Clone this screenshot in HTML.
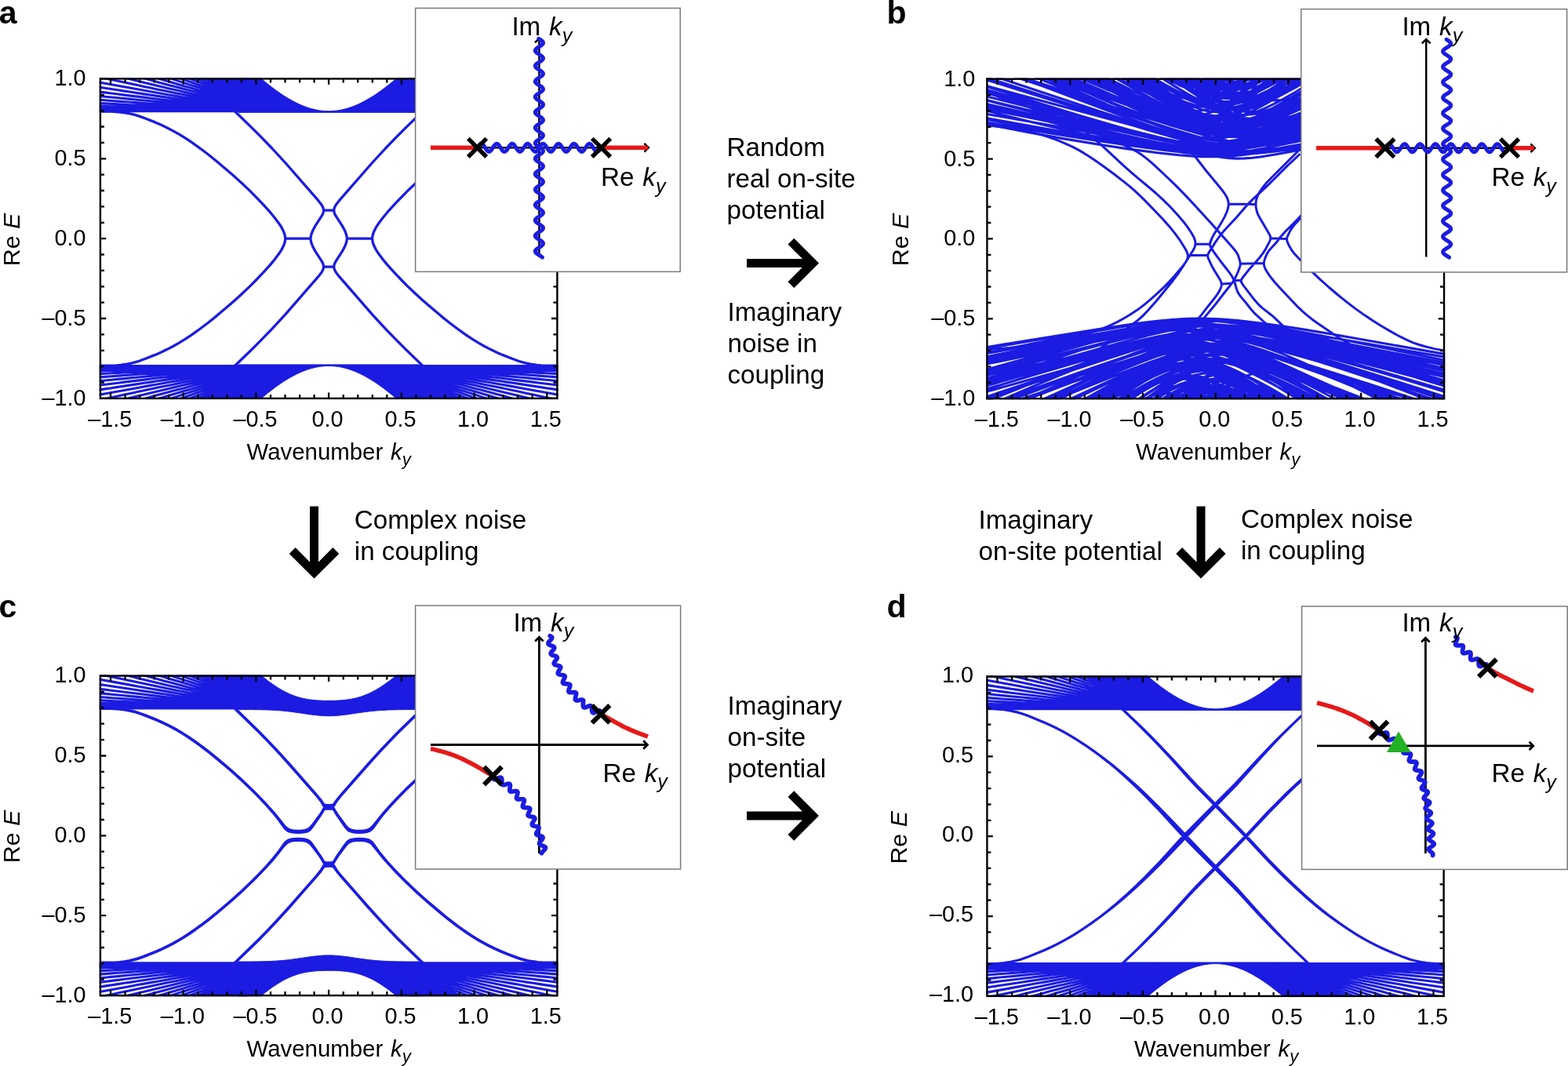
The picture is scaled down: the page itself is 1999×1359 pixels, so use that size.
<!DOCTYPE html>
<html lang="en"><head><meta charset="utf-8"><title>Band structures</title>
<style>
html,body{margin:0;padding:0;background:#fff;}
svg{display:block;}
text{font-family:"Liberation Sans", Arial, Helvetica, sans-serif;fill:#000;}
</style></head>
<body>
<svg xmlns="http://www.w3.org/2000/svg" width="1999" height="1359" viewBox="0 0 1999 1359">
<rect width="1999" height="1359" fill="#fff"/>
<defs>
<path id="fan" d="M-293.9,-162.4 -285.5,-162.4 -277.2,-162.4 -268.9,-162.4 -260.5,-162.4 -252.2,-162.4 -243.8,-162.4 -235.5,-162.4 -227.1,-162.4 -218.8,-162.4 -210.4,-162.4 -202.1,-162.4 -193.8,-162.4 -185.4,-162.4 -177.1,-162.4 -168.7,-162.4 -160.4,-162.4 -152,-162.4 -143.7,-162.4 -135.4,-162.4 -127,-162.4 -118.7,-162.4 -110.3,-162.4 -102,-162.4 M-293.9,-162.8 -285.5,-162.8 -277.2,-162.8 -268.9,-162.8 -260.5,-162.7 -252.2,-162.7 -243.8,-162.7 -235.5,-162.7 -227.1,-162.7 -218.8,-162.6 -210.4,-162.6 -202.1,-162.6 -193.8,-162.6 -185.4,-162.6 -177.1,-162.6 -168.7,-162.6 -160.4,-162.5 -152,-162.5 -143.7,-162.5 -135.4,-162.5 -127,-162.5 -118.7,-162.5 -110.3,-162.5 -102,-162.5 M-293.9,-164.1 -285.5,-164 -277.2,-163.9 -268.9,-163.9 -260.5,-163.8 -252.2,-163.7 -243.8,-163.6 -235.5,-163.6 -227.1,-163.5 -218.8,-163.4 -210.4,-163.4 -202.1,-163.3 -193.8,-163.2 -185.4,-163.2 -177.1,-163.1 -168.7,-163 -160.4,-163 -152,-162.9 -143.7,-162.9 -135.4,-162.8 -127,-162.8 -118.7,-162.7 -110.3,-162.7 -102,-162.6 M-293.9,-166.2 -285.5,-166 -277.2,-165.8 -268.9,-165.7 -260.5,-165.5 -252.2,-165.3 -243.8,-165.2 -235.5,-165 -227.1,-164.9 -218.8,-164.7 -210.4,-164.6 -202.1,-164.4 -193.8,-164.3 -185.4,-164.1 -177.1,-164 -168.7,-163.8 -160.4,-163.7 -152,-163.6 -143.7,-163.5 -135.4,-163.3 -127,-163.2 -118.7,-163.1 -110.3,-163 -102,-162.9 M-293.9,-169 -285.5,-168.7 -277.2,-168.4 -268.9,-168.2 -260.5,-167.9 -252.2,-167.6 -243.8,-167.3 -235.5,-167 -227.1,-166.7 -218.8,-166.5 -210.4,-166.2 -202.1,-165.9 -193.8,-165.7 -185.4,-165.4 -177.1,-165.2 -168.7,-164.9 -160.4,-164.7 -152,-164.5 -143.7,-164.3 -135.4,-164.1 -127,-163.9 -118.7,-163.7 -110.3,-163.5 -102,-163.4 M-293.9,-172.6 -285.5,-172.2 -277.2,-171.7 -268.9,-171.3 -260.5,-170.9 -252.2,-170.4 -243.8,-170 -235.5,-169.6 -227.1,-169.1 -218.8,-168.7 -210.4,-168.3 -202.1,-167.9 -193.8,-167.5 -185.4,-167.1 -177.1,-166.7 -168.7,-166.4 -160.4,-166 -152,-165.7 -143.7,-165.3 -135.4,-165 -127,-164.7 -118.7,-164.4 -110.3,-164.2 -102,-163.9 M-293.9,-176.9 -285.5,-176.3 -277.2,-175.6 -268.9,-175 -260.5,-174.4 -252.2,-173.8 -243.8,-173.2 -235.5,-172.6 -227.1,-172 -218.8,-171.4 -210.4,-170.8 -202.1,-170.2 -193.8,-169.7 -185.4,-169.1 -177.1,-168.6 -168.7,-168.1 -160.4,-167.6 -152,-167.1 -143.7,-166.6 -135.4,-166.2 -127,-165.7 -118.7,-165.3 -110.3,-164.9 -102,-164.6 M-293.9,-181.8 -285.5,-180.9 -277.2,-180.1 -268.9,-179.3 -260.5,-178.5 -252.2,-177.7 -243.8,-176.9 -235.5,-176.1 -227.1,-175.3 -218.8,-174.5 -210.4,-173.7 -202.1,-172.9 -193.8,-172.2 -185.4,-171.4 -177.1,-170.7 -168.7,-170 -160.4,-169.4 -152,-168.7 -143.7,-168.1 -135.4,-167.5 -127,-166.9 -118.7,-166.3 -110.3,-165.8 -102,-165.3 M-293.9,-187.2 -285.5,-186.2 -277.2,-185.1 -268.9,-184.1 -260.5,-183 -252.2,-182 -243.8,-181 -235.5,-180 -227.1,-178.9 -218.8,-177.9 -210.4,-176.9 -202.1,-176 -193.8,-175 -185.4,-174.1 -177.1,-173.1 -168.7,-172.3 -160.4,-171.4 -152,-170.5 -143.7,-169.7 -135.4,-169 -127,-168.2 -118.7,-167.5 -110.3,-166.8 -102,-166.2 M-293.9,-193.1 -285.5,-191.8 -277.2,-190.6 -268.9,-189.3 -260.5,-188 -252.2,-186.8 -243.8,-185.5 -235.5,-184.2 -227.1,-183 -218.8,-181.7 -210.4,-180.5 -202.1,-179.3 -193.8,-178.1 -185.4,-177 -177.1,-175.8 -168.7,-174.7 -160.4,-173.6 -152,-172.6 -143.7,-171.6 -135.4,-170.6 -127,-169.7 -118.7,-168.8 -110.3,-168 -102,-167.2 M-293.9,-199.4 -285.5,-197.9 -277.2,-196.4 -268.9,-194.9 -260.5,-193.4 -252.2,-191.9 -243.8,-190.3 -235.5,-188.8 -227.1,-187.3 -218.8,-185.9 -210.4,-184.4 -202.1,-182.9 -193.8,-181.5 -185.4,-180.1 -177.1,-178.7 -168.7,-177.4 -160.4,-176.1 -152,-174.8 -143.7,-173.6 -135.4,-172.4 -127,-171.3 -118.7,-170.2 -110.3,-169.2 -102,-168.3 M-293.9,-206.1 -285.5,-204.3 -277.2,-202.6 -268.9,-200.8 -260.5,-199 -252.2,-197.3 -243.8,-195.5 -235.5,-193.7 -227.1,-192 -218.8,-190.2 -210.4,-188.5 -202.1,-186.8 -193.8,-185.1 -185.4,-183.5 -177.1,-181.9 -168.7,-180.3 -160.4,-178.7 -152,-177.2 -143.7,-175.8 -135.4,-174.4 -127,-173.1 -118.7,-171.8 -110.3,-170.6 -102,-169.4 M-285.5,-211 -277.2,-209 -268.9,-207 -260.5,-205 -252.2,-203 -243.8,-200.9 -235.5,-198.9 -227.1,-196.9 -218.8,-194.9 -210.4,-192.9 -202.1,-190.9 -193.8,-189 -185.4,-187 -177.1,-185.2 -168.7,-183.3 -160.4,-181.5 -152,-179.8 -143.7,-178.1 -135.4,-176.5 -127,-174.9 -118.7,-173.4 -110.3,-172 -102,-170.7 M-260.5,-211.2 -252.2,-208.9 -243.8,-206.6 -235.5,-204.3 -227.1,-202 -218.8,-199.7 -210.4,-197.4 -202.1,-195.2 -193.8,-193 -185.4,-190.8 -177.1,-188.6 -168.7,-186.5 -160.4,-184.5 -152,-182.5 -143.7,-180.6 -135.4,-178.7 -127,-176.9 -118.7,-175.2 -110.3,-173.6 -102,-172 M-243.8,-212.4 -235.5,-209.8 -227.1,-207.3 -218.8,-204.7 -210.4,-202.2 -202.1,-199.6 -193.8,-197.2 -185.4,-194.7 -177.1,-192.3 -168.7,-189.9 -160.4,-187.6 -152,-185.3 -143.7,-183.1 -135.4,-181 -127,-179 -118.7,-177 -110.3,-175.2 -102,-173.4 M-227.1,-212.7 -218.8,-209.9 -210.4,-207 -202.1,-204.2 -193.8,-201.5 -185.4,-198.7 -177.1,-196 -168.7,-193.4 -160.4,-190.8 -152,-188.3 -143.7,-185.8 -135.4,-183.4 -127,-181.1 -118.7,-178.9 -110.3,-176.8 -102,-174.9 M-210.4,-212 -202.1,-208.9 -193.8,-205.9 -185.4,-202.9 -177.1,-199.9 -168.7,-196.9 -160.4,-194.1 -152,-191.3 -143.7,-188.6 -135.4,-185.9 -127,-183.4 -118.7,-180.9 -110.3,-178.6 -102,-176.4 M-193.8,-210.4 -185.4,-207.1 -177.1,-203.8 -168.7,-200.6 -160.4,-197.5 -152,-194.4 -143.7,-191.4 -135.4,-188.5 -127,-185.7 -118.7,-183 -110.3,-180.4 -102,-177.9 M-185.4,-211.4 -177.1,-207.8 -168.7,-204.3 -160.4,-200.9 -152,-197.5 -143.7,-194.3 -135.4,-191.1 -127,-188 -118.7,-185.1 -110.3,-182.2 -102,-179.6 M-177.1,-211.9 -168.7,-208.1 -160.4,-204.4 -152,-200.7 -143.7,-197.2 -135.4,-193.7 -127,-190.4 -118.7,-187.2 -110.3,-184.1 -102,-181.2 M-168.7,-211.9 -160.4,-207.9 -152,-204 -143.7,-200.2 -135.4,-196.4 -127,-192.8 -118.7,-189.4 -110.3,-186 -102,-182.9 M-160.4,-211.4 -152,-207.2 -143.7,-203.1 -135.4,-199.2 -127,-195.3 -118.7,-191.6 -110.3,-188 -102,-184.6 M-152,-210.5 -143.7,-206.1 -135.4,-201.9 -127,-197.8 -118.7,-193.8 -110.3,-189.9 -102,-186.3 M-152,-213.8 -143.7,-209.1 -135.4,-204.6 -127,-200.2 -118.7,-196 -110.3,-191.9 -102,-188 M-143.7,-212.1 -135.4,-207.3 -127,-202.7 -118.7,-198.2 -110.3,-193.8 -102,-189.7 M-135.4,-210 -127,-205.1 -118.7,-200.4 -110.3,-195.8 -102,-191.4 M-135.4,-212.7 -127,-207.5 -118.7,-202.5 -110.3,-197.7 -102,-193.1 M-127,-209.9 -118.7,-204.7 -110.3,-199.6 -102,-194.8 M-127,-212.3 -118.7,-206.8 -110.3,-201.5 -102,-196.4 M-127,-214.6 -118.7,-208.9 -110.3,-203.4 -102,-198.1 M-118.7,-210.9 -110.3,-205.2 -102,-199.7 M-118.7,-212.9 -110.3,-206.9 -102,-201.2 M-118.7,-214.8 -110.3,-208.6 -102,-202.7" fill="none" stroke="#1b1be2" stroke-width="3.1"/>
<path id="bowl" d="M-115,-209.9 -112.1,-209.9 -109.2,-209.9 -106.3,-209.9 -103.5,-209.9 -100.6,-209.9 -97.7,-209.9 -94.8,-209.9 -92,-209 -89.1,-206.4 -86.2,-204 -83.3,-201.6 -80.5,-199.2 -77.6,-196.9 -74.7,-194.6 -71.8,-192.4 -69,-190.2 -66.1,-188.1 -63.2,-186.1 -60.4,-184.1 -57.5,-182.2 -54.6,-180.4 -51.7,-178.7 -48.9,-177 -46,-175.4 -43.1,-173.9 -40.2,-172.4 -37.4,-171.1 -34.5,-169.8 -31.6,-168.7 -28.7,-167.6 -25.9,-166.6 -23,-165.7 -20.1,-165 -17.2,-164.3 -14.4,-163.7 -11.5,-163.2 -8.6,-162.9 -5.7,-162.6 -2.9,-162.4 0,-162.4 2.9,-162.4 5.7,-162.6 8.6,-162.9 11.5,-163.2 14.4,-163.7 17.2,-164.3 20.1,-165 23,-165.7 25.9,-166.6 28.7,-167.6 31.6,-168.7 34.5,-169.8 37.4,-171.1 40.2,-172.4 43.1,-173.9 46,-175.4 48.9,-177 51.7,-178.7 54.6,-180.4 57.5,-182.2 60.4,-184.1 63.2,-186.1 66.1,-188.1 69,-190.2 71.8,-192.4 74.7,-194.6 77.6,-196.9 80.5,-199.2 83.3,-201.6 86.2,-204 89.1,-206.4 92,-209 94.8,-209.9 97.7,-209.9 100.6,-209.9 103.5,-209.9 106.3,-209.9 109.2,-209.9 112.1,-209.9 115,-209.9 115,-160.8 -115,-160.8Z" fill="#1b1be2" stroke="#1b1be2" stroke-width="1"/>
<path id="bowlc" d="M-115,-209.9 -112.1,-209.9 -109.2,-209.9 -106.3,-209.9 -103.5,-209.9 -100.6,-209.9 -97.7,-209.9 -94.8,-209.9 -92,-209.1 -89.1,-206.7 -86.2,-204.3 -83.3,-201.9 -80.5,-199.7 -77.6,-197.4 -74.7,-195.3 -71.8,-193.2 -69,-191.3 -66.1,-189.4 -63.2,-187.6 -60.4,-185.9 -57.5,-184.3 -54.6,-182.8 -51.7,-181.4 -48.9,-180.1 -46,-179 -43.1,-177.9 -40.2,-176.9 -37.4,-176.1 -34.5,-175.3 -31.6,-174.7 -28.7,-174.1 -25.9,-173.6 -23,-173.2 -20.1,-172.9 -17.2,-172.6 -14.4,-172.4 -11.5,-172.2 -8.6,-172.1 -5.7,-172 -2.9,-172 0,-172 2.9,-172 5.7,-172 8.6,-172.1 11.5,-172.2 14.4,-172.4 17.2,-172.6 20.1,-172.9 23,-173.2 25.9,-173.6 28.7,-174.1 31.6,-174.7 34.5,-175.3 37.4,-176.1 40.2,-176.9 43.1,-177.9 46,-179 48.9,-180.1 51.7,-181.4 54.6,-182.8 57.5,-184.3 60.4,-185.9 63.2,-187.6 66.1,-189.4 69,-191.3 71.8,-193.2 74.7,-195.3 77.6,-197.4 80.5,-199.7 83.3,-201.9 86.2,-204.3 89.1,-206.7 92,-209.1 94.8,-209.9 97.7,-209.9 100.6,-209.9 103.5,-209.9 106.3,-209.9 109.2,-209.9 112.1,-209.9 115,-209.9 115,-160.7 112.1,-160.7 109.2,-160.7 106.3,-160.7 103.5,-160.7 100.6,-160.7 97.7,-160.7 94.8,-160.6 92,-160.6 89.1,-160.6 86.2,-160.5 83.3,-160.4 80.5,-160.4 77.6,-160.3 74.7,-160.2 71.8,-160 69,-159.9 66.1,-159.7 63.2,-159.5 60.4,-159.3 57.5,-159 54.6,-158.7 51.7,-158.4 48.9,-158.1 46,-157.7 43.1,-157.3 40.2,-156.9 37.4,-156.5 34.5,-156.1 31.6,-155.6 28.7,-155.2 25.9,-154.8 23,-154.4 20.1,-154 17.2,-153.7 14.4,-153.4 11.5,-153.1 8.6,-152.9 5.7,-152.7 2.9,-152.6 0,-152.6 -2.9,-152.6 -5.7,-152.7 -8.6,-152.9 -11.5,-153.1 -14.4,-153.4 -17.2,-153.7 -20.1,-154 -23,-154.4 -25.9,-154.8 -28.7,-155.2 -31.6,-155.6 -34.5,-156.1 -37.4,-156.5 -40.2,-156.9 -43.1,-157.3 -46,-157.7 -48.9,-158.1 -51.7,-158.4 -54.6,-158.7 -57.5,-159 -60.4,-159.3 -63.2,-159.5 -66.1,-159.7 -69,-159.9 -71.8,-160 -74.7,-160.2 -77.6,-160.3 -80.5,-160.4 -83.3,-160.4 -86.2,-160.5 -89.1,-160.6 -92,-160.6 -94.8,-160.6 -97.7,-160.7 -100.6,-160.7 -103.5,-160.7 -106.3,-160.7 -109.2,-160.7 -112.1,-160.7 -115,-160.7Z" fill="#1b1be2" stroke="#1b1be2" stroke-width="1"/>
<g id="bandc"><use href="#fan"/><use href="#fan" transform="scale(-1,1)"/><use href="#bowlc"/></g>
<g id="bandsc"><use href="#bandc"/><use href="#bandc" transform="scale(1,-1)"/></g>
<g id="band"><use href="#fan"/><use href="#fan" transform="scale(-1,1)"/><use href="#bowl"/></g>
<g id="bands"><use href="#band"/><use href="#band" transform="scale(1,-1)"/></g>
<clipPath id="clipa"><rect x="126.7" y="99.2" width="584.9" height="409.9"/></clipPath>
<clipPath id="clipb"><rect x="1257.2" y="99.5" width="585" height="409.8"/></clipPath>
<clipPath id="clipc"><rect x="126.7" y="860.4" width="584.9" height="409.9"/></clipPath>
<clipPath id="clipd"><rect x="1257.2" y="861.3" width="584.6" height="409.8"/></clipPath>
</defs>
<g clip-path="url(#clipa)"><use href="#bands" transform="translate(419.1,304.1)"/></g>
<path d="M292.5,473 319.8,446.7 332.1,434.4 346.7,419.3 364.2,400.3 406,352.4 409,348.6 410.8,345.8 411.9,343.6 412.6,340.5 413,340.1 419.1,340.2 425.3,340.1 425.7,340.5 426.4,343.6 427.5,345.8 429.3,348.6 432.3,352.4 474.1,400.3 491.6,419.3 506.2,434.4 518.5,446.7 545.8,473 M127.9,466.1 141.4,466.1 148.3,465.8 153.7,465.3 159.9,464.5 166.9,463.2 172,461.9 177.4,460.2 185.4,457.3 197.8,452.4 205.1,449.2 212.7,445.6 221.1,441.2 228.7,436.9 236,432.4 244,427.1 256,418.5 265.9,411 275.7,403.1 291.4,389.8 300.1,382.2 309.6,373.5 318.7,364.9 327,356.5 336.1,346.9 344.5,337.6 350.3,330.6 355.4,323.8 359.1,318.1 361.6,313.1 363.1,308.7 363.8,304.1 395.8,304.1 396.9,309.7 398.8,314.5 402,320.4 410.4,333.4 411.9,336.4 412.6,339.6 413,340.1 419.1,340.2 425.3,340.1 425.7,339.6 426.4,336.4 427.9,333.4 436.3,320.4 439.5,314.5 441.4,309.7 442.5,304.1 474.5,304.1 475.2,308.7 476.7,313.1 479.2,318.1 482.9,323.8 488,330.6 493.8,337.6 502.2,346.9 511.3,356.5 519.6,364.9 528.7,373.5 538.2,382.2 546.9,389.8 562.6,403.1 572.4,411 582.3,418.5 594.3,427.1 602.3,432.4 609.6,436.9 617.2,441.2 625.6,445.6 633.2,449.2 640.5,452.4 652.9,457.3 660.9,460.2 666.3,461.9 671.4,463.2 678.4,464.5 684.6,465.3 690,465.8 696.9,466.1 710.4,466.1 M127.9,142.2 141.4,142.2 148.3,142.5 153.7,143 159.9,143.8 166.9,145.1 172,146.4 177.4,148.1 185.4,151 197.8,155.9 205.1,159.1 212.7,162.7 221.1,167.1 228.7,171.4 236,175.9 244,181.2 256,189.8 265.9,197.3 275.7,205.2 291.4,218.5 300.1,226.1 309.6,234.8 318.7,243.4 327,251.8 336.1,261.4 344.5,270.7 350.3,277.7 355.4,284.5 359.1,290.2 361.6,295.2 363.1,299.6 363.8,304.1 395.8,304.1 396.9,298.6 398.8,293.8 402,287.9 410.4,274.9 411.9,271.9 412.6,268.7 413,268.2 419.1,268.1 425.3,268.2 425.7,268.7 426.4,271.9 427.9,274.9 436.3,287.9 439.5,293.8 441.4,298.6 442.5,304.1 474.5,304.1 475.2,299.6 476.7,295.2 479.2,290.2 482.9,284.5 488,277.7 493.8,270.7 502.2,261.4 511.3,251.8 519.6,243.4 528.7,234.8 538.2,226.1 546.9,218.5 562.6,205.2 572.4,197.3 582.3,189.8 594.3,181.2 602.3,175.9 609.6,171.4 617.2,167.1 625.6,162.7 633.2,159.1 640.5,155.9 652.9,151 660.9,148.1 666.3,146.4 671.4,145.1 678.4,143.8 684.6,143 690,142.5 696.9,142.2 710.4,142.2 M292.5,135.3 319.8,161.6 332.1,173.9 346.7,189 364.2,208 406,255.9 409,259.7 410.8,262.5 411.9,264.7 412.6,267.8 413,268.2 419.1,268.1 425.3,268.2 425.7,267.8 426.4,264.7 427.5,262.5 429.3,259.7 432.3,255.9 474.1,208 491.6,189 506.2,173.9 518.5,161.6 545.8,135.3" fill="none" stroke="#1b1be2" stroke-width="3.3" stroke-linejoin="round" clip-path="url(#clipa)"/>
<path d="M141,507.9 v-7.4 M141,100.4 v7.4 M159.6,507.9 v-5 M159.6,100.4 v5 M178.1,507.9 v-5 M178.1,100.4 v5 M196.7,507.9 v-5 M196.7,100.4 v5 M215.2,507.9 v-5 M215.2,100.4 v5 M233.7,507.9 v-7.4 M233.7,100.4 v7.4 M252.3,507.9 v-5 M252.3,100.4 v5 M270.8,507.9 v-5 M270.8,100.4 v5 M289.4,507.9 v-5 M289.4,100.4 v5 M307.9,507.9 v-5 M307.9,100.4 v5 M326.4,507.9 v-7.4 M326.4,100.4 v7.4 M345,507.9 v-5 M345,100.4 v5 M363.5,507.9 v-5 M363.5,100.4 v5 M382.1,507.9 v-5 M382.1,100.4 v5 M400.6,507.9 v-5 M400.6,100.4 v5 M419.1,507.9 v-7.4 M419.1,100.4 v7.4 M437.7,507.9 v-5 M437.7,100.4 v5 M456.2,507.9 v-5 M456.2,100.4 v5 M474.8,507.9 v-5 M474.8,100.4 v5 M493.3,507.9 v-5 M493.3,100.4 v5 M511.9,507.9 v-7.4 M511.9,100.4 v7.4 M530.4,507.9 v-5 M530.4,100.4 v5 M548.9,507.9 v-5 M548.9,100.4 v5 M567.5,507.9 v-5 M567.5,100.4 v5 M586,507.9 v-5 M586,100.4 v5 M604.6,507.9 v-7.4 M604.6,100.4 v7.4 M623.1,507.9 v-5 M623.1,100.4 v5 M641.6,507.9 v-5 M641.6,100.4 v5 M660.2,507.9 v-5 M660.2,100.4 v5 M678.7,507.9 v-5 M678.7,100.4 v5 M697.3,507.9 v-7.4 M697.3,100.4 v7.4 M127.9,507.9 h7.4 M710.4,507.9 h-7.4 M127.9,487.5 h5 M710.4,487.5 h-5 M127.9,467.1 h5 M710.4,467.1 h-5 M127.9,446.8 h5 M710.4,446.8 h-5 M127.9,426.4 h5 M710.4,426.4 h-5 M127.9,406 h7.4 M710.4,406 h-7.4 M127.9,385.6 h5 M710.4,385.6 h-5 M127.9,365.3 h5 M710.4,365.3 h-5 M127.9,344.9 h5 M710.4,344.9 h-5 M127.9,324.5 h5 M710.4,324.5 h-5 M127.9,304.1 h7.4 M710.4,304.1 h-7.4 M127.9,283.8 h5 M710.4,283.8 h-5 M127.9,263.4 h5 M710.4,263.4 h-5 M127.9,243 h5 M710.4,243 h-5 M127.9,222.6 h5 M710.4,222.6 h-5 M127.9,202.3 h7.4 M710.4,202.3 h-7.4 M127.9,181.9 h5 M710.4,181.9 h-5 M127.9,161.5 h5 M710.4,161.5 h-5 M127.9,141.1 h5 M710.4,141.1 h-5 M127.9,120.8 h5 M710.4,120.8 h-5 M127.9,100.4 h7.4 M710.4,100.4 h-7.4" fill="none" stroke="#000" stroke-width="2.3"/>
<rect x="127.9" y="100.4" width="582.5" height="407.5" fill="none" stroke="#000" stroke-width="2.4"/>
<text x="140.2" y="543.8" text-anchor="middle" font-size="28.8">–1.5</text>
<text x="232.9" y="543.8" text-anchor="middle" font-size="28.8">–1.0</text>
<text x="325.6" y="543.8" text-anchor="middle" font-size="28.8">–0.5</text>
<text x="417.6" y="543.8" text-anchor="middle" font-size="28.8">0.0</text>
<text x="510.4" y="543.8" text-anchor="middle" font-size="28.8">0.5</text>
<text x="603.1" y="543.8" text-anchor="middle" font-size="28.8">1.0</text>
<text x="695.8" y="543.8" text-anchor="middle" font-size="28.8">1.5</text>
<text x="109.5" y="516.9" text-anchor="end" font-size="28.8">–1.0</text>
<text x="109.5" y="415" text-anchor="end" font-size="28.8">–0.5</text>
<text x="109.5" y="313.1" text-anchor="end" font-size="28.8">0.0</text>
<text x="109.5" y="211.3" text-anchor="end" font-size="28.8">0.5</text>
<text x="109.5" y="109.4" text-anchor="end" font-size="28.8">1.0</text>
<text x="314.5" y="586" font-size="29.4">Wavenumber <tspan font-style="italic" dx="1.6">k</tspan><tspan font-style="italic" font-size="22.2" dy="7.3">y</tspan></text>
<text transform="translate(24.5,339.3) rotate(-90)" font-size="30.4">Re <tspan font-style="italic">E</tspan></text>
<path d="M1253,157.4 1308.6,168.2 1355,176.6 1401.3,184.3 1438.4,189.9 1475.5,194.7 1503.3,197.7 1521.9,199.1 1531.2,199.6 1540.4,199.8 1549.7,199.8 1559,199.6 1568.2,199 1577.5,198.2 1586.8,197.2 1605.3,194.8 1633.2,190.4 1707.3,177.9 1753.7,170.3 1800.1,163.1 1846.4,156.3 M1253,138.1 1299.3,147.2 1345.7,156.7 1484.8,186.6 1521.9,194.3 1540.4,197.8 1559,200.6 1568.2,201.6 1577.5,202.1 1586.8,201.9 1596.1,201.2 1605.3,200.2 1623.9,197.3 1651.7,192.3 1688.8,185 1725.9,177.3 1846.4,151 M1253,155 1299.3,163.2 1345.7,171 1401.3,179.7 1447.7,186.5 1484.8,191.5 1512.6,194.8 1531.2,196.3 1540.4,196.8 1549.7,197.1 1559,197 1568.2,196.6 1577.5,195.9 1586.8,195 1605.3,192.7 1633.2,188.7 1735.1,172.8 1846.4,155.8 M1253,131.4 1429.2,172.2 1466.2,180.6 1494.1,186.6 1521.9,192 1540.4,194.8 1549.7,195.8 1559,196.5 1568.2,196.7 1577.5,196.6 1586.8,196 1596.1,195.1 1605.3,193.9 1623.9,191 1651.7,185.7 1688.8,177.9 1735.1,167.5 1790.8,154.4 1846.4,140.8 M1253,133.2 1401.3,171.8 1429.2,178.7 1457,185.1 1475.5,189 1484.8,190.8 1503.3,193.8 1512.6,194.9 1521.9,195.8 1531.2,196.4 1540.4,196.7 1549.7,196.6 1559,196.2 1568.2,195.5 1586.8,193.3 1596.1,191.9 1614.6,188.6 1642.4,182.8 1679.5,174.1 1725.9,162.2 1781.5,147.2 1846.4,128.9 M1253,149.8 1401.3,176.2 1447.7,184.1 1475.5,188.5 1503.3,192.4 1521.9,194.6 1540.4,196.2 1559,196.9 1577.5,196.8 1596.1,195.9 1605.3,195.1 1623.9,193.2 1651.7,189.6 1688.8,183.9 1735.1,176.1 1790.8,166.1 1846.4,155.6 M1253,133.4 1317.9,149.1 1373.5,162.3 1419.9,172.9 1457,181 1484.8,186.4 1503.3,189.5 1512.6,190.8 1521.9,191.8 1531.2,192.4 1540.4,192.7 1549.7,192.6 1559,192.1 1568.2,191.2 1577.5,190.1 1596.1,187.1 1623.9,181.7 1661,173.6 1716.6,160.8 1781.5,145.5 1846.4,129.8 M1253,144.5 1401.3,170.8 1447.7,178.8 1484.8,184.9 1512.6,189.1 1531.2,191.6 1549.7,193.5 1559,194.1 1568.2,194.4 1577.5,194.5 1586.8,194.2 1596.1,193.6 1614.6,191.9 1642.4,188.2 1670.2,183.9 1716.6,176.2 1772.2,166.5 1846.4,153.3 M1253,126.5 1317.9,142 1392.1,159.2 1447.7,171.8 1484.8,179.7 1512.6,185 1531.2,188 1540.4,189.3 1559,191.2 1568.2,191.8 1577.5,192.2 1586.8,192.3 1596.1,192.1 1614.6,191 1623.9,190.1 1642.4,187.8 1670.2,183.3 1688.8,179.9 1707.3,176.1 1725.9,172.2 1753.7,166 1800.1,155 1846.4,143.4 M1253,140 1308.6,153.9 1355,164.9 1401.3,175.1 1438.4,182.6 1466.2,187.6 1484.8,190.4 1494.1,191.6 1503.3,192.5 1512.6,193.2 1521.9,193.5 1531.2,193.4 1540.4,193 1549.7,192.2 1559,191 1577.5,188 1596.1,184.4 1633.2,176.3 1744.4,151 1846.4,128.6 M1253,108.2 1466.2,165.8 1494.1,173.2 1521.9,180.3 1549.7,186.8 1568.2,190.4 1577.5,191.8 1586.8,192.9 1596.1,193.5 1605.3,193.7 1614.6,193.4 1623.9,192.7 1633.2,191.6 1642.4,190.2 1651.7,188.5 1670.2,184.8 1688.8,180.6 1707.3,176.1 1744.4,166.6 1790.8,154.1 1846.4,138.6 M1253,121.7 1410.6,161.6 1447.7,170.6 1484.8,179.2 1512.6,185 1531.2,188.4 1540.4,189.8 1549.7,191 1559,192 1568.2,192.7 1577.5,193.1 1586.8,193.1 1596.1,192.8 1605.3,192.1 1614.6,191.1 1633.2,188.5 1642.4,186.9 1661,183.4 1688.8,177.4 1725.9,168.7 1772.2,157.2 1846.4,138.4 M1253,132 1308.6,147.4 1364.3,162.2 1410.6,173.9 1429.2,178.3 1447.7,182.4 1466.2,186.2 1475.5,187.8 1494.1,190.5 1503.3,191.5 1512.6,192 1521.9,192.2 1531.2,192 1540.4,191.4 1549.7,190.5 1559,189.2 1568.2,187.6 1586.8,184 1614.6,177.7 1651.7,168.4 1698.1,156.4 1772.2,136.7 1846.4,116.7 M1253,133.7 1308.6,146.8 1364.3,159.4 1410.6,169.4 1457,178.8 1484.8,183.9 1512.6,188.3 1531.2,190.4 1540.4,191.1 1549.7,191.5 1559,191.5 1568.2,191.1 1577.5,190.3 1586.8,189.3 1596.1,188 1605.3,186.5 1623.9,183.2 1651.7,177.6 1679.5,171.8 1846.4,135.8 M1253,135.5 1401.3,170.1 1429.2,176.3 1457,182.2 1475.5,185.7 1484.8,187.2 1503.3,189.8 1512.6,190.8 1521.9,191.5 1531.2,191.9 1540.4,191.9 1549.7,191.6 1559,191.1 1568.2,190.2 1586.8,187.9 1596.1,186.4 1614.6,183.2 1642.4,177.7 1679.5,169.6 1725.9,158.8 1772.2,147.5 1846.4,129.1 M1253,126.7 1392.1,162.1 1429.2,171.2 1457,177.6 1475.5,181.4 1484.8,183.1 1494.1,184.7 1503.3,185.9 1512.6,186.9 1521.9,187.4 1531.2,187.6 1540.4,187.4 1549.7,186.8 1559,185.8 1568.2,184.6 1577.5,183.2 1596.1,179.7 1623.9,173.8 1670.2,162.9 1725.9,148.8 1781.5,134.1 1846.4,116.3 M1253,151.3 1299.3,160.4 1345.7,168.9 1392.1,176.6 1429.2,182.1 1466.2,186.8 1494.1,189.6 1512.6,190.9 1521.9,191.4 1540.4,191.7 1549.7,191.5 1568.2,190.4 1577.5,189.5 1596.1,187.3 1623.9,183.1 1707.3,169 1753.7,161.6 1800.1,154.7 1846.4,148.4 M1253,115.9 1317.9,135.1 1373.5,151.1 1419.9,163.8 1457,173.2 1484.8,179.6 1503.3,183.3 1512.6,184.9 1531.2,187.5 1540.4,188.3 1549.7,188.9 1559,189.2 1568.2,189.2 1577.5,188.8 1586.8,188.1 1596.1,187.1 1605.3,185.8 1623.9,182.7 1633.2,180.9 1651.7,176.9 1670.2,172.5 1688.8,167.8 1735.1,155.4 1790.8,139.6 1846.4,123.2 M1253,100.3 1429.2,155.2 1466.2,166.5 1494.1,174.6 1512.6,179.6 1521.9,181.9 1531.2,184 1540.4,185.9 1549.7,187.4 1559,188.5 1568.2,188.9 1577.5,188.7 1586.8,187.9 1596.1,186.5 1605.3,184.8 1614.6,182.7 1623.9,180.5 1642.4,175.6 1670.2,167.6 1707.3,156.4 1846.4,112.8 M1253,112.9 1327.2,134.5 1392.1,152.9 1438.4,165.6 1475.5,175.1 1494.1,179.4 1503.3,181.4 1521.9,184.7 1531.2,186 1540.4,187 1549.7,187.6 1559,187.8 1568.2,187.5 1577.5,186.8 1586.8,185.8 1596.1,184.4 1614.6,181 1642.4,174.6 1679.5,165.1 1716.6,155 1772.2,139.2 1846.4,117.7 M1253,116.4 1327.2,142 1364.3,154.4 1401.3,166.1 1429.2,174.1 1447.7,179 1457,181.2 1475.5,185.1 1484.8,186.8 1494.1,188.2 1503.3,189.4 1512.6,190.2 1521.9,190.8 1531.2,190.9 1540.4,190.7 1549.7,190.2 1559,189.3 1568.2,188 1577.5,186.4 1586.8,184.6 1596.1,182.6 1614.6,177.9 1633.2,172.7 1661,164.3 1781.5,125.5 1818.6,114.1 1846.4,105.9 M1253,92.4 1336.4,120.3 1401.3,141.7 1447.7,156.7 1484.8,168.2 1512.6,176.2 1531.2,180.9 1540.4,183 1549.7,184.7 1559,186 1568.2,186.9 1577.5,187.1 1586.8,186.7 1596.1,185.8 1605.3,184.4 1614.6,182.6 1623.9,180.5 1642.4,175.7 1670.2,167.7 1716.6,153.2 1772.2,135.1 1846.4,110.5 M1253,108.8 1327.2,132.2 1382.8,149.3 1419.9,160.1 1438.4,165.3 1457,170.1 1484.8,176.7 1503.3,180.4 1512.6,181.9 1521.9,183.3 1531.2,184.3 1540.4,185 1549.7,185.4 1559,185.5 1568.2,185.2 1577.5,184.6 1586.8,183.7 1596.1,182.4 1614.6,179.3 1623.9,177.4 1642.4,173.2 1661,168.5 1679.5,163.5 1716.6,152.8 1763,138.8 1846.4,113 M1253,115.2 1327.2,137.8 1373.5,151.6 1410.6,162 1429.2,166.9 1447.7,171.6 1466.2,175.9 1475.5,177.9 1494.1,181.3 1503.3,182.7 1512.6,183.8 1521.9,184.6 1531.2,185.1 1540.4,185.2 1549.7,184.9 1559,184.3 1568.2,183.3 1577.5,182 1596.1,178.6 1605.3,176.7 1623.9,172.3 1651.7,165.1 1688.8,154.7 1846.4,108.8 M1271.5,88.2 1457,148.6 1494.1,160.3 1521.9,168.6 1540.4,173.7 1549.7,176.1 1568.2,180.3 1577.5,182 1586.8,183.4 1596.1,184.4 1605.3,185 1614.6,185.1 1623.9,184.7 1633.2,183.8 1642.4,182.6 1651.7,181 1661,179.1 1679.5,174.8 1707.3,167.2 1744.4,156 1790.8,141.2 1846.4,122.8 M1271.5,88.3 1327.2,108.3 1392.1,131.2 1457,153.6 1494.1,165.9 1512.6,171.6 1521.9,174.1 1531.2,176.4 1540.4,178.3 1549.7,179.5 1559,179.9 1568.2,179.5 1577.5,178.3 1586.8,176.4 1596.1,174.1 1605.3,171.5 1623.9,165.8 1661,153.5 1716.6,134.3 1790.8,108.2 1846.4,88.3 M1262.3,87.7 1336.4,112 1457,152.4 1484.8,161.5 1503.3,167.3 1521.9,172.8 1531.2,175.3 1540.4,177.6 1549.7,179.5 1559,180.8 1568.2,181.5 1577.5,181.4 1586.8,180.6 1596.1,179.1 1605.3,177.2 1614.6,175 1623.9,172.5 1642.4,167.3 1679.5,155.8 1716.6,143.7 1763,128.1 1846.4,99.5 M1262.3,85.1 1317.9,105.6 1429.2,147.3 1457,157.3 1484.8,166.8 1503.3,172.6 1512.6,175.2 1521.9,177.6 1531.2,179.7 1540.4,181.5 1549.7,182.8 1559,183.5 1568.2,183.7 1577.5,183.4 1586.8,182.4 1596.1,181 1605.3,179.2 1614.6,177 1623.9,174.6 1633.2,172 1651.7,166.3 1679.5,156.9 1716.6,143.5 1753.7,129.6 1846.4,94.2 M1299.3,85.5 1364.3,113.5 1410.6,132.9 1447.7,147.9 1466.2,155.1 1484.8,162 1503.3,168.3 1512.6,171.3 1521.9,173.9 1531.2,176.2 1540.4,178.2 1549.7,179.5 1559,180.3 1568.2,180.3 1577.5,179.6 1586.8,178.2 1596.1,176.2 1605.3,173.8 1614.6,171.1 1623.9,168.1 1642.4,161.4 1670.2,150.7 1698.1,139.4 1827.9,85.2 M1290.1,86.1 1373.5,120.2 1419.9,138.7 1457,153 1484.8,163 1503.3,169 1512.6,171.8 1521.9,174.2 1531.2,176.3 1540.4,178 1549.7,179.3 1559,180 1568.2,180 1577.5,179.5 1586.8,178.5 1596.1,176.9 1605.3,175 1614.6,172.6 1623.9,170 1633.2,167.2 1651.7,161.1 1670.2,154.5 1688.8,147.5 1725.9,133.1 1772.2,114.3 1837.1,87.3 M1253,97.5 1327.2,121.3 1401.3,144.8 1438.4,156.3 1466.2,164.5 1484.8,169.5 1494.1,171.8 1503.3,173.7 1512.6,175.4 1521.9,176.6 1531.2,177.3 1540.4,177.3 1549.7,176.8 1559,175.7 1568.2,174.2 1577.5,172.4 1596.1,167.9 1623.9,160.3 1670.2,146.5 1725.9,128.9 1781.5,110.8 1846.4,88.8 M1345.7,86.5 1410.6,113.7 1466.2,136.4 1503.3,150.9 1531.2,161.1 1549.7,167.1 1559,169.8 1568.2,172.2 1577.5,174.2 1586.8,175.8 1596.1,176.7 1605.3,177 1614.6,176.7 1623.9,175.7 1633.2,174.1 1642.4,172.1 1651.7,169.7 1661,167 1679.5,160.9 1707.3,150.8 1744.4,136.2 1790.8,117.3 1846.4,94.1 M1327.2,87.8 1401.3,115.4 1457,135.9 1503.3,152.6 1531.2,162.2 1549.7,168.1 1559,170.7 1568.2,173.1 1577.5,175 1586.8,176.3 1596.1,176.8 1605.3,176.3 1614.6,174.9 1623.9,173 1633.2,170.6 1642.4,167.9 1661,161.9 1688.8,152.3 1725.9,139 1846.4,94.4 M1317.9,88.3 1466.2,144.9 1494.1,155 1512.6,161.4 1531.2,167 1540.4,169.5 1549.7,171.6 1559,173.2 1568.2,174.3 1577.5,174.8 1586.8,174.7 1596.1,173.9 1605.3,172.7 1614.6,171 1623.9,168.9 1633.2,166.6 1642.4,164 1661,158.4 1679.5,152.3 1698.1,145.8 1716.6,139.1 1744.4,128.7 1790.8,110.5 1818.6,99.2 1846.4,87.7 M1308.6,87.5 1382.8,114.7 1438.4,134.5 1466.2,144.1 1484.8,150.3 1512.6,159 1531.2,164.2 1540.4,166.6 1549.7,168.7 1559,170.6 1568.2,172.1 1577.5,173.3 1586.8,174 1596.1,174.3 1605.3,174.2 1614.6,173.6 1623.9,172.6 1633.2,171.3 1642.4,169.6 1651.7,167.6 1661,165.4 1679.5,160.5 1698.1,155 1716.6,149.1 1753.7,136.6 1800.1,120 1846.4,102.8 M1345.7,86.7 1419.9,115.9 1475.5,137.6 1512.6,151.6 1540.4,161.7 1559,167.8 1568.2,170.4 1577.5,172.5 1586.8,173.7 1596.1,174 1605.3,173.1 1614.6,171.3 1623.9,168.8 1633.2,166 1651.7,159.7 1679.5,149.4 1707.3,138.7 1837.1,87.9 M1308.6,87.3 1419.9,136.8 1447.7,148.8 1475.5,160.1 1494.1,166.8 1503.3,169.7 1512.6,172.2 1521.9,174 1531.2,175.1 1540.4,175.2 1549.7,174.5 1559,172.9 1568.2,170.7 1577.5,168 1586.8,165 1605.3,158.3 1633.2,147.1 1670.2,131.3 1716.6,110.8 1772.2,85.6 M1308.6,85.2 1364.3,109 1410.6,128.1 1447.7,142.6 1466.2,149.4 1484.8,155.9 1503.3,161.8 1512.6,164.5 1521.9,166.9 1531.2,169 1540.4,170.8 1549.7,172.2 1559,173.1 1568.2,173.6 1577.5,173.5 1586.8,172.9 1596.1,171.8 1605.3,170.2 1614.6,168.3 1623.9,166 1633.2,163.4 1651.7,157.6 1679.5,147.8 1716.6,133.5 1763,114.7 1827.9,87.8 M1327.2,87.1 1382.8,111 1429.2,130.3 1447.7,137.7 1466.2,144.8 1494.1,154.8 1512.6,160.7 1521.9,163.4 1531.2,165.8 1540.4,167.9 1549.7,169.6 1559,170.9 1568.2,171.8 1577.5,172.2 1586.8,172.2 1596.1,171.6 1605.3,170.6 1614.6,169.2 1623.9,167.4 1633.2,165.2 1642.4,162.8 1651.7,160.1 1670.2,154.2 1698.1,144.2 1716.6,137 1735.1,129.6 1781.5,110.2 1837.1,86.1 M1373.5,87.2 1429.2,115.5 1466.2,133.7 1494.1,146.8 1512.6,154.9 1521.9,158.7 1531.2,162.3 1540.4,165.5 1549.7,168.4 1559,170.8 1568.2,172.6 1577.5,173.6 1586.8,173.8 1596.1,173.2 1605.3,171.8 1614.6,169.7 1623.9,167.1 1633.2,164 1642.4,160.6 1651.7,156.9 1661,153 1679.5,144.7 1707.3,131.5 1744.4,113.1 1800.1,84.9 M1336.4,85.5 1392.1,110 1438.4,129.9 1457,137.6 1475.5,145 1494.1,152 1503.3,155.3 1521.9,161.3 1531.2,163.9 1540.4,166.2 1549.7,168 1559,169.3 1568.2,170.1 1577.5,170.3 1586.8,169.8 1596.1,168.8 1605.3,167.2 1614.6,165.2 1623.9,162.8 1633.2,160.1 1651.7,154 1661,150.7 1679.5,143.6 1698.1,136.2 1716.6,128.5 1753.7,112.6 1809.3,87.9 M1355,85.1 1419.9,111.7 1466.2,130.3 1503.3,144.6 1531.2,154.7 1549.7,160.7 1559,163.3 1568.2,165.5 1577.5,167.2 1586.8,168.3 1596.1,168.6 1605.3,168.2 1614.6,166.9 1623.9,165.1 1633.2,162.8 1642.4,160.1 1661,154.1 1688.8,143.9 1725.9,129.5 1772.2,110.9 1827.9,88.2 M1373.5,87.3 1429.2,113.1 1466.2,129.9 1494.1,142 1521.9,153.3 1540.4,160 1549.7,163 1559,165.5 1568.2,167.5 1577.5,168.8 1586.8,169.3 1596.1,168.9 1605.3,167.7 1614.6,165.7 1623.9,163.2 1633.2,160.3 1651.7,153.5 1679.5,142.1 1707.3,129.8 1744.4,113 1800.1,87.3 M1355,86.3 1419.9,116 1457,132.6 1484.8,144.4 1503.3,151.6 1512.6,154.9 1521.9,157.9 1531.2,160.6 1540.4,162.9 1549.7,164.7 1559,166 1568.2,166.7 1577.5,166.8 1586.8,166.3 1596.1,165.3 1605.3,163.7 1614.6,161.7 1623.9,159.3 1633.2,156.6 1642.4,153.7 1661,147.2 1688.8,136.3 1707.3,128.5 1725.9,120.4 1763,103.3 1800.1,85.4 M1345.7,87 1382.8,106.9 1401.3,116.5 1419.9,125.8 1447.7,139 1466.2,147 1475.5,150.7 1484.8,154.1 1494.1,157.2 1503.3,159.9 1512.6,162.1 1521.9,163.8 1531.2,165 1540.4,165.5 1549.7,165.4 1559,164.7 1568.2,163.4 1577.5,161.6 1586.8,159.2 1596.1,156.5 1605.3,153.3 1614.6,149.8 1623.9,146.1 1642.4,138 1670.2,124.8 1688.8,115.4 1707.3,105.8 1744.4,85.8 M1373.5,87.3 1419.9,109.3 1457,126.5 1484.8,139.1 1512.6,151 1531.2,158.1 1540.4,161.2 1549.7,163.8 1559,165.6 1568.2,166.5 1577.5,166.3 1586.8,165.1 1596.1,163 1605.3,160.2 1614.6,157 1623.9,153.5 1633.2,149.7 1651.7,141.8 1679.5,129.3 1716.6,112 1772.2,85.7 M1355,86.7 1410.6,111.5 1447.7,127.5 1475.5,138.9 1494.1,146.1 1503.3,149.4 1521.9,155.4 1531.2,158 1540.4,160.3 1549.7,162 1559,163.3 1568.2,163.9 1577.5,163.9 1586.8,163.3 1596.1,162.1 1605.3,160.4 1614.6,158.2 1623.9,155.7 1633.2,152.8 1651.7,146.4 1679.5,135.7 1707.3,124.1 1744.4,108 1790.8,87.2 M1336.4,86.6 1392.1,112.1 1429.2,128.6 1457,140.5 1475.5,147.9 1484.8,151.4 1494.1,154.7 1503.3,157.7 1512.6,160.3 1521.9,162.6 1531.2,164.3 1540.4,165.5 1549.7,165.9 1559,165.7 1568.2,164.8 1577.5,163.3 1586.8,161.3 1596.1,158.9 1605.3,156.1 1623.9,149.7 1633.2,146.2 1651.7,138.9 1679.5,127.1 1716.6,110.6 1772.2,84.9 M1317.9,86.6 1364.3,108.2 1401.3,124.8 1419.9,132.7 1438.4,140.3 1457,147.3 1466.2,150.6 1475.5,153.6 1484.8,156.4 1494.1,159 1503.3,161.1 1512.6,162.8 1521.9,164.1 1531.2,164.9 1540.4,165.1 1549.7,164.8 1559,163.9 1568.2,162.5 1577.5,160.7 1586.8,158.4 1596.1,155.9 1614.6,149.8 1623.9,146.5 1642.4,139.4 1670.2,127.8 1707.3,111.3 1763,85.6 M1401.3,87.8 1438.4,106.7 1475.5,124.9 1503.3,137.6 1521.9,145.3 1531.2,148.8 1540.4,152 1549.7,154.8 1559,157.2 1568.2,159.1 1577.5,160.4 1586.8,161 1596.1,160.9 1605.3,160.1 1614.6,158.6 1623.9,156.5 1633.2,154 1642.4,151 1651.7,147.7 1661,144 1679.5,136.2 1707.3,123.3 1744.4,105 1781.5,86 M1364.3,86.8 1401.3,107.5 1429.2,122.7 1457,137.2 1475.5,146.3 1484.8,150.4 1494.1,154.1 1503.3,157.2 1512.6,159.4 1521.9,160.5 1531.2,160.2 1540.4,158.7 1549.7,156 1559,152.6 1568.2,148.6 1586.8,139.7 1614.6,125 1642.4,109.7 1688.8,83.7 M1401.3,87.3 1438.4,109 1466.2,124.7 1494.1,139.6 1512.6,148.6 1521.9,152.6 1531.2,156.2 1540.4,159 1549.7,160.9 1559,161.5 1568.2,160.7 1577.5,158.5 1586.8,155.3 1596.1,151.4 1605.3,146.9 1623.9,137.1 1642.4,126.5 1670.2,110 1707.3,87.7 M1364.3,85.8 1401.3,103.8 1438.4,121 1466.2,133.1 1484.8,140.5 1494.1,144 1503.3,147.2 1512.6,150.1 1521.9,152.6 1531.2,154.6 1540.4,156.1 1549.7,156.8 1559,156.9 1568.2,156.3 1577.5,154.9 1586.8,153 1596.1,150.4 1605.3,147.5 1614.6,144.2 1623.9,140.6 1642.4,132.9 1670.2,120.4 1698.1,107.3 1744.4,85 M1410.6,86.9 1447.7,105.7 1484.8,123.7 1512.6,136.4 1531.2,144.1 1540.4,147.6 1549.7,150.8 1559,153.6 1568.2,156 1577.5,157.8 1586.8,158.9 1596.1,159.3 1605.3,158.9 1614.6,157.8 1623.9,156 1633.2,153.6 1642.4,150.8 1651.7,147.6 1661,144 1679.5,136.3 1707.3,123.6 1744.4,105.6 1781.5,86.9 M1382.8,84.2 1419.9,103.7 1457,122.4 1484.8,135.4 1503.3,143.3 1512.6,146.9 1521.9,150.1 1531.2,153 1540.4,155.3 1549.7,157 1559,158 1568.2,158.3 1577.5,157.8 1586.8,156.6 1596.1,154.8 1605.3,152.3 1614.6,149.4 1623.9,146.1 1633.2,142.5 1651.7,134.5 1679.5,121.4 1707.3,107.5 1744.4,88.2 M1364.3,84.6 1392.1,100.9 1419.9,116.5 1438.4,126.3 1447.7,131 1466.2,139.7 1475.5,143.7 1484.8,147.3 1494.1,150.5 1503.3,153.1 1512.6,155.1 1521.9,156.2 1531.2,156.5 1540.4,155.8 1549.7,154.2 1559,151.8 1568.2,148.7 1577.5,145.1 1586.8,140.9 1596.1,136.5 1605.3,131.7 1623.9,121.6 1651.7,105.6 1688.8,83.5 M1382.8,86.2 1419.9,106.7 1447.7,121.4 1466.2,130.7 1475.5,135.1 1494.1,143.3 1503.3,147.1 1512.6,150.4 1521.9,153.4 1531.2,155.8 1540.4,157.6 1549.7,158.7 1559,159 1568.2,158.4 1577.5,157.1 1586.8,155.1 1596.1,152.5 1605.3,149.3 1614.6,145.7 1623.9,141.7 1633.2,137.5 1642.4,133.1 1661,123.7 1688.8,108.9 1725.9,88.3 M1438.4,84.5 1466.2,100.1 1494.1,115 1512.6,124.4 1521.9,128.8 1540.4,137 1549.7,140.7 1559,144 1568.2,147 1577.5,149.4 1586.8,151.3 1596.1,152.7 1605.3,153.3 1614.6,153.3 1623.9,152.6 1633.2,151.3 1642.4,149.3 1651.7,146.9 1661,143.9 1670.2,140.6 1679.5,136.8 1688.8,132.9 1698.1,128.6 1716.6,119.6 1744.4,105 1781.5,84.3 M1429.2,85.3 1457,102.4 1484.8,119.2 1503.3,130 1521.9,140.1 1531.2,144.6 1540.4,148.4 1549.7,151.2 1559,152.4 1568.2,151.8 1577.5,149.5 1586.8,146 1596.1,141.7 1605.3,136.9 1614.6,131.9 1633.2,121.2 1661,104.6 1688.8,87.6 M1447.7,86.4 1484.8,107.5 1512.6,122.7 1531.2,132.5 1549.7,141.5 1559,145.6 1568.2,149.2 1577.5,152 1586.8,153.8 1596.1,154.3 1605.3,153.4 1614.6,151.2 1623.9,148 1633.2,144.2 1642.4,140 1661,130.6 1679.5,120.6 1707.3,105.1 1744.4,83.8 M1410.6,85.6 1438.4,103.2 1457,114.7 1475.5,125.8 1494.1,136.1 1503.3,140.8 1512.6,145 1521.9,148.5 1531.2,150.9 1540.4,152 1549.7,151.6 1559,149.8 1568.2,146.7 1577.5,142.8 1586.8,138.2 1596.1,133.3 1605.3,128.1 1623.9,117 1642.4,105.6 1670.2,87.9 M1475.5,86.8 1503.3,105.2 1531.2,123.1 1549.7,134.3 1559,139.5 1568.2,144.1 1577.5,147.9 1586.8,150.5 1596.1,151.5 1605.3,150.5 1614.6,147.9 1623.9,144.2 1633.2,139.6 1642.4,134.6 1651.7,129.3 1670.2,117.9 1688.8,106.2 1716.6,88 M1410.6,83.5 1438.4,100.2 1466.2,116.2 1484.8,126.1 1494.1,130.7 1503.3,135 1512.6,139.1 1521.9,142.8 1531.2,146 1540.4,148.7 1549.7,150.8 1559,152.2 1568.2,153 1577.5,153 1586.8,152.4 1596.1,151 1605.3,149 1614.6,146.4 1623.9,143.3 1633.2,139.8 1642.4,135.9 1651.7,131.7 1661,127.3 1679.5,117.7 1688.8,112.6 1707.3,102.1 1735.1,85.5 M1410.6,84.9 1438.4,101.6 1466.2,117.6 1484.8,127.6 1494.1,132.2 1503.3,136.5 1512.6,140.3 1521.9,143.6 1531.2,146.1 1540.4,147.6 1549.7,148.2 1559,147.7 1568.2,146.1 1577.5,143.7 1586.8,140.5 1596.1,136.8 1605.3,132.6 1614.6,128.1 1633.2,118.3 1661,102.6 1688.8,86.2 M1327.2,84.1 1355,99.4 1382.8,114.1 1401.3,123.3 1410.6,127.7 1429.2,135.9 1438.4,139.6 1447.7,142.9 1457,145.8 1466.2,148.3 1475.5,150.1 1484.8,151.4 1494.1,151.9 1503.3,151.7 1512.6,150.8 1521.9,149.3 1531.2,147.1 1540.4,144.4 1549.7,141.3 1559,137.8 1577.5,129.9 1586.8,125.6 1605.3,116.5 1633.2,101.9 1661,86.7 M1419.9,82.8 1447.7,100.9 1466.2,112.5 1484.8,123.4 1494.1,128.5 1503.3,133.2 1512.6,137.6 1521.9,141.6 1531.2,144.9 1540.4,147.6 1549.7,149.4 1559,150.3 1568.2,150.3 1577.5,149.2 1586.8,147.3 1596.1,144.6 1605.3,141.1 1614.6,137.1 1623.9,132.7 1633.2,127.8 1651.7,117.3 1670.2,106 1698.1,88.1 M1401.3,85.3 1429.2,102.9 1447.7,114.2 1466.2,125.1 1475.5,130.2 1484.8,135 1494.1,139.4 1503.3,143.3 1512.6,146.5 1521.9,148.8 1531.2,149.8 1540.4,149.6 1549.7,148 1559,145.4 1568.2,141.8 1577.5,137.6 1586.8,132.9 1596.1,127.8 1614.6,117 1633.2,105.5 1661,87.8 M1419.9,85.1 1447.7,102.2 1466.2,113.3 1484.8,123.9 1494.1,129 1503.3,133.7 1512.6,138.1 1521.9,141.9 1531.2,144.9 1540.4,146.9 1549.7,147.8 1559,147.3 1568.2,145.5 1577.5,142.8 1586.8,139.2 1596.1,135.1 1605.3,130.5 1614.6,125.6 1633.2,115.3 1651.7,104.4 1679.5,87.6 M1484.8,87.6 1512.6,104.5 1531.2,115.4 1549.7,125.6 1559,130.2 1568.2,134.4 1577.5,138 1586.8,140.7 1596.1,142.2 1605.3,142.2 1614.6,140.8 1623.9,138.1 1633.2,134.3 1642.4,129.9 1651.7,124.9 1670.2,114.1 1688.8,102.7 1716.6,84.9 M1457,83.7 1484.8,102 1503.3,113.6 1521.9,124.5 1531.2,129.5 1540.4,134.1 1549.7,138.3 1559,141.8 1568.2,144.4 1577.5,146 1586.8,146.5 1596.1,145.8 1605.3,143.9 1614.6,141.1 1623.9,137.4 1633.2,133 1642.4,128.2 1651.7,123 1661,117.5 1679.5,105.9 1707.3,87.5 M1373.5,84.1 1401.3,101.7 1419.9,112.5 1429.2,117.6 1438.4,122.4 1447.7,126.9 1457,130.9 1466.2,134.5 1475.5,137.6 1484.8,140 1494.1,141.8 1503.3,142.8 1512.6,143 1521.9,142.5 1531.2,141.1 1540.4,139.1 1549.7,136.4 1559,133.2 1568.2,129.4 1577.5,125.2 1586.8,120.6 1605.3,110.5 1623.9,99.5 1642.4,87.8 M1494.1,86.5 1521.9,106.1 1540.4,118.4 1549.7,124.2 1559,129.7 1568.2,134.6 1577.5,138.9 1586.8,142.4 1596.1,144.8 1605.3,145.9 1614.6,145.5 1623.9,143.8 1633.2,140.8 1642.4,136.9 1651.7,132.3 1661,127 1670.2,121.4 1679.5,115.5 1698.1,103 1725.9,83.2 M1438.4,82.3 1466.2,102.3 1484.8,114.9 1494.1,120.9 1503.3,126.5 1512.6,131.6 1521.9,136 1531.2,139.5 1540.4,141.8 1549.7,142.7 1559,142.1 1568.2,140.1 1577.5,136.9 1586.8,132.8 1596.1,128 1605.3,122.8 1614.6,117.1 1633.2,105 1661,85.7 M1475.5,85.9 1494.1,99.4 1512.6,112.3 1521.9,118.4 1531.2,124.2 1540.4,129.6 1549.7,134.3 1559,138 1568.2,140.4 1577.5,141.2 1586.8,140.3 1596.1,137.8 1605.3,134 1614.6,129.3 1623.9,124 1633.2,118.2 1642.4,112.1 1661,99.3 1679.5,86 M1466.2,88.4 1484.8,101.3 1503.3,113.6 1512.6,119.4 1521.9,124.9 1531.2,129.9 1540.4,134.2 1549.7,137.4 1559,139.4 1568.2,139.6 1577.5,138.2 1586.8,135.2 1596.1,131 1605.3,125.9 1614.6,120.3 1623.9,114.2 1642.4,101.4 1661,87.9 M1447.7,88 1466.2,100.1 1484.8,111.4 1494.1,116.6 1503.3,121.5 1512.6,126 1521.9,130 1531.2,133.3 1540.4,136 1549.7,137.9 1559,139 1568.2,139.2 1577.5,138.4 1586.8,136.9 1596.1,134.5 1605.3,131.4 1614.6,127.8 1623.9,123.6 1633.2,118.9 1642.4,113.9 1651.7,108.6 1670.2,97.2 1688.8,85.1 M1447.7,86.8 1466.2,98.8 1484.8,110 1494.1,115.2 1503.3,120.1 1512.6,124.6 1521.9,128.6 1531.2,132.1 1540.4,135 1549.7,137.2 1559,138.6 1568.2,139.1 1577.5,138.8 1586.8,137.7 1596.1,135.7 1605.3,133 1614.6,129.7 1623.9,125.8 1633.2,121.4 1642.4,116.5 1651.7,111.4 1670.2,100.3 1688.8,88.3 M1475.5,85.6 1494.1,99.7 1503.3,106.5 1512.6,113 1521.9,119.1 1531.2,124.8 1540.4,129.6 1549.7,133.5 1559,135.9 1568.2,136.7 1577.5,135.7 1586.8,133.1 1596.1,129.2 1605.3,124.2 1614.6,118.6 1623.9,112.5 1633.2,106 1642.4,99.2 1661,85.1 M1429.2,86.9 1447.7,98.9 1466.2,110.2 1475.5,115.5 1484.8,120.4 1494.1,124.8 1503.3,128.8 1512.6,132 1521.9,134.5 1531.2,136 1540.4,136.6 1549.7,136.1 1559,134.7 1568.2,132.4 1577.5,129.2 1586.8,125.5 1596.1,121.2 1605.3,116.4 1614.6,111.3 1633.2,100.3 1642.4,94.5 1661,82.4 M1429.2,84 1447.7,98.7 1457,105.7 1466.2,112.5 1475.5,118.8 1484.8,124.6 1494.1,129.6 1503.3,133.4 1512.6,135.7 1521.9,136.1 1531.2,134.6 1540.4,131.5 1549.7,127 1559,121.5 1568.2,115.4 1577.5,108.8 1586.8,101.9 1605.3,87.4 M1447.7,85.4 1466.2,97.7 1484.8,109.1 1494.1,114.3 1503.3,119.2 1512.6,123.6 1521.9,127.3 1531.2,130.4 1540.4,132.7 1549.7,134 1559,134.3 1568.2,133.6 1577.5,131.9 1586.8,129.3 1596.1,126 1605.3,122 1614.6,117.4 1623.9,112.4 1633.2,107 1651.7,95.4 1670.2,83.1 M1466.2,87.3 1484.8,100.8 1494.1,107.2 1503.3,113.2 1512.6,118.9 1521.9,124 1531.2,128.2 1540.4,131.4 1549.7,133.3 1559,133.6 1568.2,132.4 1577.5,129.7 1586.8,125.9 1596.1,121.1 1605.3,115.8 1614.6,109.9 1623.9,103.7 1633.2,97.3 1651.7,83.8 M1438.4,85.4 1457,99 1466.2,105.5 1475.5,111.6 1484.8,117.3 1494.1,122.5 1503.3,127 1512.6,130.8 1521.9,133.7 1531.2,135.4 1540.4,135.9 1549.7,135.1 1559,133.1 1568.2,130.1 1577.5,126 1586.8,121.2 1596.1,115.7 1605.3,109.7 1614.6,103.3 1623.9,96.7 1642.4,82.6 M1475.5,83.8 1494.1,98 1503.3,104.8 1512.6,111.2 1521.9,117.2 1531.2,122.5 1540.4,126.9 1549.7,130 1559,131.5 1568.2,131.2 1577.5,129.2 1586.8,125.6 1596.1,120.9 1605.3,115.4 1614.6,109.2 1623.9,102.7 1633.2,95.9 1651.7,81.6 M1503.3,82.4 1521.9,96.7 1531.2,103.4 1540.4,109.7 1549.7,115.6 1559,120.8 1568.2,125.2 1577.5,128.6 1586.8,130.7 1596.1,131.3 1605.3,130.4 1614.6,128.1 1623.9,124.6 1633.2,120.1 1642.4,114.7 1651.7,108.8 1661,102.4 1670.2,95.7 1688.8,81.4 M1540.4,86.1 1559,99.6 1568.2,105.9 1577.5,111.7 1586.8,116.9 1596.1,121.3 1605.3,124.7 1614.6,127 1623.9,128 1633.2,127.6 1642.4,125.8 1651.7,122.8 1661,118.7 1670.2,113.8 1679.5,108.3 1688.8,102.2 1698.1,95.7 1716.6,81.8 M1475.5,87.9 1494.1,100.7 1503.3,106.6 1512.6,112 1521.9,117 1531.2,121.3 1540.4,124.9 1549.7,127.6 1559,129.2 1568.2,129.7 1577.5,129 1586.8,127.3 1596.1,124.5 1605.3,120.9 1614.6,116.5 1623.9,111.4 1633.2,105.9 1642.4,99.9 1661,87.1 M1484.8,87 1503.3,101.7 1512.6,108.5 1521.9,114.8 1531.2,120.3 1540.4,125 1549.7,128.4 1559,130.3 1568.2,130.5 1577.5,129.1 1586.8,126.1 1596.1,121.8 1605.3,116.5 1614.6,110.5 1623.9,103.8 1633.2,96.8 1651.7,81.8 M1484.8,85.2 1494.1,92.2 1503.3,99 1512.6,105.3 1521.9,111 1531.2,116 1540.4,120.2 1549.7,123.4 1559,125.3 1568.2,126 1577.5,125.3 1586.8,123.4 1596.1,120.3 1605.3,116.1 1614.6,111.1 1623.9,105.5 1633.2,99.3 1642.4,92.6 1651.7,85.6 M1475.5,88.2 1484.8,94.5 1494.1,100.3 1503.3,105.8 1512.6,110.7 1521.9,115.1 1531.2,118.7 1540.4,121.5 1549.7,123.3 1559,124.2 1568.2,124 1577.5,122.9 1586.8,120.7 1596.1,117.6 1605.3,113.8 1614.6,109.3 1623.9,104.2 1633.2,98.5 1642.4,92.5 1651.7,86.2 M1438.4,82.4 1447.7,90.1 1457,97.4 1466.2,104.3 1475.5,110.6 1484.8,116.2 1494.1,120.7 1503.3,124 1512.6,125.8 1521.9,125.8 1531.2,124.2 1540.4,121 1549.7,116.5 1559,111 1568.2,104.7 1577.5,97.8 1586.8,90.4 1596.1,82.7 M1503.3,83.5 1512.6,90.5 1521.9,97.2 1531.2,103.5 1540.4,109.3 1549.7,114.6 1559,119.1 1568.2,122.8 1577.5,125.4 1586.8,127 1596.1,127.3 1605.3,126.4 1614.6,124.3 1623.9,121.2 1633.2,117.1 1642.4,112.3 1651.7,106.8 1661,100.8 1670.2,94.4 1679.5,87.6 M1549.7,86.5 1559,94.6 1568.2,102.3 1577.5,109.3 1586.8,115.4 1596.1,120.1 1605.3,122.7 1614.6,122.8 1623.9,120.3 1633.2,115.8 1642.4,109.8 1651.7,102.9 1661,95.5 1670.2,87.6 M1484.8,83.5 1494.1,91 1503.3,98.3 1512.6,105 1521.9,111 1531.2,115.7 1540.4,118.7 1549.7,119.4 1559,117.5 1568.2,113.4 1577.5,107.8 1586.8,101.2 1596.1,93.9 1605.3,86.2 M1512.6,83.3 1521.9,90.6 1531.2,97.4 1540.4,103.6 1549.7,109 1559,113.4 1568.2,116.6 1577.5,118.4 1586.8,118.6 1596.1,117.4 1605.3,114.6 1614.6,110.6 1623.9,105.5 1633.2,99.6 1642.4,93 1651.7,85.8 M1494.1,81.1 1503.3,88.8 1512.6,96.2 1521.9,103.2 1531.2,109.4 1540.4,114.6 1549.7,118.5 1559,120.8 1568.2,121 1577.5,119.2 1586.8,115.6 1596.1,110.6 1605.3,104.4 1614.6,97.5 1623.9,90.1 1633.2,82.2 M1484.8,85.8 1494.1,92.5 1503.3,98.8 1512.6,104.5 1521.9,109.7 1531.2,114.1 1540.4,117.6 1549.7,120.3 1559,121.9 1568.2,122.4 1577.5,121.8 1586.8,120.1 1596.1,117.4 1605.3,113.8 1614.6,109.3 1623.9,104.1 1633.2,98.3 1642.4,91.9 1651.7,85.1 M1475.5,87.9 1484.8,94.7 1494.1,100.9 1503.3,106.5 1512.6,111.4 1521.9,115.3 1531.2,118.3 1540.4,120 1549.7,120.6 1559,119.8 1568.2,117.9 1577.5,114.8 1586.8,110.6 1596.1,105.6 1605.3,99.9 1614.6,93.5 1623.9,86.7 M1494.1,82.7 1503.3,89.7 1512.6,96.3 1521.9,102.3 1531.2,107.7 1540.4,112.3 1549.7,115.9 1559,118.5 1568.2,119.8 1577.5,119.8 1586.8,118.5 1596.1,115.9 1605.3,112.3 1614.6,107.7 1623.9,102.2 1633.2,96.2 1642.4,89.6 1651.7,82.5 M1484.8,86 1494.1,94.8 1503.3,103 1512.6,110.5 1521.9,116.7 1531.2,121.1 1540.4,122.8 1549.7,121.3 1559,117.1 1568.2,110.9 1577.5,103.4 1586.8,95.1 1596.1,86.2 M1503.3,81.9 1512.6,89.3 1521.9,96.2 1531.2,102.4 1540.4,107.6 1549.7,111.6 1559,114.2 1568.2,115.2 1577.5,114.4 1586.8,111.9 1596.1,107.9 1605.3,102.7 1614.6,96.6 1623.9,89.6 1633.2,82.1 M1466.2,84.9 1475.5,91.8 1484.8,98.1 1494.1,103.7 1503.3,108.5 1512.6,112.4 1521.9,115.1 1531.2,116.7 1540.4,116.9 1549.7,115.9 1559,113.7 1568.2,110.3 1577.5,105.8 1586.8,100.6 1596.1,94.5 1605.3,87.9 M1512.6,82 1521.9,89.2 1531.2,95.8 1540.4,101.6 1549.7,106.5 1559,110.1 1568.2,112.2 1577.5,112.8 1586.8,111.7 1596.1,109 1605.3,105 1614.6,99.8 1623.9,93.7 1633.2,86.8 M1494.1,88.3 1503.3,94.3 1512.6,99.6 1521.9,104.2 1531.2,108 1540.4,110.8 1549.7,112.7 1559,113.4 1568.2,113 1577.5,111.5 1586.8,109 1596.1,105.5 1605.3,101.2 1614.6,96.1 1623.9,90.3 1633.2,84 M1503.3,81.8 1512.6,89.2 1521.9,96.1 1531.2,102 1540.4,106.7 1549.7,109.9 1559,111.4 1568.2,110.8 1577.5,108.3 1586.8,104.2 1596.1,98.7 1605.3,92.1 1614.6,84.8 M1521.9,82.3 1531.2,89.4 1540.4,95.9 1549.7,101.7 1559,106.4 1568.2,109.9 1577.5,112.1 1586.8,112.8 1596.1,111.9 1605.3,109.5 1614.6,105.7 1623.9,100.8 1633.2,94.9 1642.4,88.3 M1475.5,82.3 1484.8,88.7 1494.1,94.5 1503.3,99.6 1512.6,103.8 1521.9,107.1 1531.2,109.3 1540.4,110.4 1549.7,110.3 1559,109.1 1568.2,106.7 1577.5,103.3 1586.8,98.9 1596.1,93.7 1605.3,87.9 M1521.9,82.5 1531.2,89.5 1540.4,95.7 1549.7,101 1559,105.3 1568.2,108.2 1577.5,109.6 1586.8,109.5 1596.1,107.8 1605.3,104.6 1614.6,100.2 1623.9,94.7 1633.2,88.3 M1512.6,85.5 1521.9,91.7 1531.2,97.2 1540.4,101.7 1549.7,105.3 1559,107.8 1568.2,109 1577.5,108.9 1586.8,107.6 1596.1,105 1605.3,101.4 1614.6,96.7 1623.9,91.1 1633.2,84.8 M1475.5,88 1484.8,96.1 1494.1,102.8 1503.3,107.5 1512.6,109.1 1521.9,107.3 1531.2,102.5 1540.4,95.4 1549.7,87.1 M1503.3,83.5 1512.6,91.4 1521.9,98.3 1531.2,103.5 1540.4,106.5 1549.7,106.8 1559,104.2 1568.2,99.3 1577.5,92.6 1586.8,84.7 M1577.5,87.9 1586.8,93.7 1596.1,98.6 1605.3,102.2 1614.6,104.6 1623.9,105.4 1633.2,104.8 1642.4,102.6 1651.7,99.1 1661,94.4 1670.2,88.6 1679.5,82 M1521.9,81.1 1531.2,88.7 1540.4,95.5 1549.7,101.1 1559,105.4 1568.2,107.9 1577.5,108.7 1586.8,107.5 1596.1,104.5 1605.3,99.9 1614.6,93.8 1623.9,86.7 M1494.1,85 1503.3,91.5 1512.6,96.8 1521.9,100.5 1531.2,102.5 1540.4,102.5 1549.7,100.6 1559,96.9 1568.2,91.6 1577.5,85.1 M1559,86.8 1568.2,92.9 1577.5,97.7 1586.8,101 1596.1,102.6 1605.3,102.4 1614.6,100.2 1623.9,96.4 1633.2,91.1 1642.4,84.7 M1484.8,82.2 1494.1,89.7 1503.3,96.1 1512.6,101 1521.9,104 1531.2,104.9 1540.4,103.6 1549.7,100.2 1559,95 1568.2,88.3 M1521.9,86.8 1531.2,92.9 1540.4,97.3 1549.7,99.8 1559,100.1 1568.2,98.1 1577.5,94.1 1586.8,88.4 M1568.2,85.4 1577.5,92.7 1586.8,98.4 1596.1,101.9 1605.3,102.8 1614.6,100.9 1623.9,96.5 1633.2,90.1 1642.4,82.3 M1512.6,84.1 1521.9,90.1 1531.2,95 1540.4,98.8 1549.7,101.1 1559,102 1568.2,101.4 1577.5,99.3 1586.8,95.8 1596.1,91.1 1605.3,85.3 M1531.2,82.7 1540.4,88.5 1549.7,93.3 1559,96.8 1568.2,98.9 1577.5,99.5 1586.8,98.7 1596.1,96.4 1605.3,92.7 1614.6,87.8 M1253,443.4 1401.3,419.6 1447.7,412.6 1466.2,410.2 1484.8,408.4 1494.1,407.7 1503.3,407.3 1512.6,407.2 1521.9,407.3 1540.4,408.4 1559,410.2 1586.8,413.7 1623.9,419 1670.2,426.2 1716.6,433.8 1846.4,456 M1253,455.8 1317.9,442.5 1373.5,431.4 1410.6,424.4 1447.7,417.9 1475.5,413.7 1494.1,411.4 1503.3,410.5 1521.9,409.2 1531.2,408.9 1540.4,408.8 1559,409.4 1577.5,410.8 1586.8,411.8 1605.3,414.2 1633.2,418.6 1670.2,425.2 1716.6,434 1772.2,445.2 1846.4,460.3 M1253,451.5 1373.5,430 1419.9,422 1447.7,417.4 1466.2,414.6 1484.8,412.1 1494.1,411.1 1503.3,410.5 1512.6,410.4 1521.9,410.8 1531.2,411.6 1549.7,414.1 1568.2,417 1614.6,424.9 1753.7,449.5 1846.4,465.6 M1253,445.1 1392.1,421.4 1419.9,416.9 1447.7,412.8 1475.5,409.3 1494.1,407.5 1512.6,406.4 1531.2,406 1549.7,406.5 1559,407 1577.5,408.5 1605.3,411.7 1633.2,415.5 1661,419.9 1698.1,426 1846.4,452.3 M1253,451 1317.9,437.7 1364.3,428.6 1401.3,421.6 1429.2,416.8 1457,412.7 1475.5,410.8 1484.8,410.1 1494.1,409.7 1503.3,409.7 1512.6,409.9 1521.9,410.5 1531.2,411.2 1549.7,413.5 1577.5,417.8 1605.3,422.7 1642.4,429.8 1688.8,439.1 1846.4,471.2 M1253,472.4 1317.9,454.2 1364.3,441.6 1401.3,431.9 1419.9,427.2 1438.4,422.9 1457,418.9 1466.2,417.1 1484.8,414.1 1494.1,412.9 1503.3,412.2 1512.6,411.8 1521.9,411.8 1531.2,412.3 1540.4,413.1 1549.7,414.3 1559,415.8 1577.5,419.4 1605.3,425.9 1633.2,432.9 1661,440.3 1781.5,473.1 1846.4,490.6 M1253,465.1 1336.4,448.1 1438.4,427 1466.2,421.5 1484.8,418.2 1494.1,416.7 1503.3,415.6 1512.6,414.9 1521.9,414.7 1531.2,415.1 1540.4,415.9 1559,418.4 1586.8,423.2 1614.6,428.5 1670.2,439.5 1725.9,451.1 1781.5,463 1846.4,477.4 M1253,457.9 1317.9,444.8 1373.5,433.9 1410.6,427 1447.7,420.6 1475.5,416.6 1494.1,414.4 1512.6,413.1 1521.9,412.8 1531.2,412.8 1540.4,413 1549.7,413.5 1568.2,415.3 1586.8,417.7 1614.6,422.1 1642.4,427 1688.8,435.7 1846.4,466.7 M1253,458.9 1308.6,447.5 1364.3,436.6 1410.6,427.8 1438.4,423 1466.2,418.9 1484.8,416.9 1494.1,416.2 1503.3,415.7 1512.6,415.5 1521.9,415.6 1531.2,415.9 1540.4,416.5 1549.7,417.3 1568.2,419.5 1596.1,423.7 1623.9,428.5 1670.2,437.2 1725.9,448.3 1781.5,459.9 1846.4,473.9 M1253,462.5 1327.2,447.5 1382.8,436.6 1419.9,429.7 1457,423.3 1484.8,419.2 1503.3,417 1512.6,416.1 1531.2,414.8 1540.4,414.5 1549.7,414.5 1568.2,415.1 1586.8,416.6 1596.1,417.7 1614.6,420.1 1642.4,424.5 1670.2,429.3 1707.3,436.2 1846.4,463.5 M1253,478.6 1299.3,466.9 1410.6,437.7 1438.4,430.8 1466.2,424.3 1484.8,420.3 1503.3,416.6 1521.9,413.2 1531.2,411.8 1549.7,409.4 1559,408.7 1568.2,408.5 1577.5,408.7 1586.8,409.5 1596.1,410.7 1605.3,412.2 1623.9,416 1642.4,420.2 1661,424.8 1744.4,446.4 1781.5,455.8 1818.6,464.5 1846.4,470.6 M1253,486.4 1410.6,441.9 1438.4,434.2 1466.2,427 1484.8,422.7 1494.1,420.7 1503.3,419 1512.6,417.6 1521.9,416.6 1531.2,416 1540.4,416 1549.7,416.3 1559,417.2 1568.2,418.4 1577.5,419.8 1586.8,421.6 1605.3,425.5 1633.2,432.3 1679.5,444.6 1725.9,457.7 1781.5,474 1846.4,493.6 M1253,484.6 1410.6,445.7 1447.7,436.8 1475.5,430.5 1503.3,424.7 1521.9,421.3 1531.2,419.8 1549.7,417.4 1559,416.5 1568.2,416 1577.5,415.8 1586.8,416 1596.1,416.6 1605.3,417.4 1623.9,419.9 1633.2,421.5 1651.7,425 1679.5,430.9 1716.6,439.5 1846.4,471.2 M1253,483.4 1419.9,441.9 1447.7,435.3 1475.5,429.1 1494.1,425.5 1512.6,422.7 1521.9,421.6 1531.2,420.9 1540.4,420.5 1549.7,420.5 1559,420.9 1568.2,421.6 1577.5,422.6 1596.1,425.2 1605.3,426.8 1623.9,430.4 1651.7,436.3 1688.8,445 1735.1,456.5 1790.8,471.1 1846.4,486.3 M1253,491.1 1317.9,473.1 1429.2,441.7 1457,434.2 1475.5,429.5 1494.1,425.3 1503.3,423.5 1512.6,422 1521.9,420.9 1531.2,420.3 1540.4,420.3 1549.7,420.8 1559,421.8 1568.2,423.1 1577.5,424.8 1586.8,426.6 1605.3,430.8 1633.2,437.7 1670.2,447.6 1716.6,460.6 1763,474 1846.4,498.5 M1253,478.3 1308.6,462.8 1364.3,447.9 1410.6,436.2 1438.4,429.8 1457,426.2 1466.2,424.6 1475.5,423.2 1484.8,422.1 1494.1,421.2 1503.3,420.7 1512.6,420.5 1521.9,420.7 1531.2,421.2 1540.4,422 1549.7,423.1 1568.2,426 1577.5,427.7 1596.1,431.5 1614.6,435.7 1633.2,440.2 1679.5,452.1 1735.1,467.4 1790.8,483.7 1818.6,492.3 1846.4,501 M1253,460.4 1392.1,433.2 1419.9,428 1438.4,424.8 1457,422.1 1475.5,420.1 1484.8,419.5 1494.1,419.2 1503.3,419.2 1512.6,419.4 1531.2,420.8 1540.4,421.8 1559,424.1 1577.5,426.9 1596.1,429.9 1633.2,436.6 1679.5,445.6 1725.9,455.2 1772.2,465.2 1846.4,481.7 M1253,488.3 1373.5,447.9 1401.3,439 1429.2,430.5 1447.7,425.5 1457,423.3 1466.2,421.4 1475.5,420.1 1484.8,419.4 1494.1,419.4 1503.3,420.1 1512.6,421.5 1521.9,423.4 1531.2,425.5 1549.7,430.5 1577.5,438.9 1614.6,450.8 1651.7,463.1 1827.9,522.7 M1253,497.4 1317.9,478 1373.5,461.8 1419.9,449 1457,439.5 1484.8,433.1 1503.3,429.4 1512.6,427.8 1531.2,425.2 1540.4,424.3 1549.7,423.6 1559,423.3 1568.2,423.3 1577.5,423.7 1586.8,424.3 1596.1,425.3 1605.3,426.5 1623.9,429.6 1633.2,431.4 1651.7,435.4 1670.2,439.9 1688.8,444.6 1725.9,454.5 1781.5,470.2 1846.4,489 M1253,475.5 1299.3,462.8 1382.8,439.2 1410.6,431.8 1429.2,427.2 1447.7,423.3 1457,421.8 1466.2,420.5 1475.5,419.7 1484.8,419.3 1494.1,419.4 1503.3,419.9 1512.6,420.7 1521.9,421.9 1531.2,423.4 1549.7,426.8 1577.5,433 1614.6,442.3 1651.7,452.4 1698.1,465.8 1846.4,510.7 M1253,510 1327.2,485.1 1392.1,463.7 1438.4,448.8 1475.5,437.3 1494.1,432 1503.3,429.5 1512.6,427.3 1521.9,425.3 1531.2,423.7 1540.4,422.6 1549.7,422.3 1559,422.7 1568.2,423.8 1577.5,425.4 1586.8,427.5 1596.1,429.8 1614.6,435 1642.4,443.5 1679.5,455.3 1846.4,510.3 M1253,479.6 1308.6,467.3 1373.5,453.5 1429.2,442.1 1466.2,435 1494.1,430.4 1512.6,427.9 1521.9,427 1531.2,426.3 1540.4,425.9 1549.7,425.8 1559,426 1568.2,426.6 1586.8,428.4 1596.1,429.6 1614.6,432.4 1642.4,437.4 1679.5,444.6 1735.1,456.1 1790.8,468.1 1846.4,480.6 M1253,488 1317.9,470.7 1373.5,456.2 1410.6,446.9 1447.7,438.2 1475.5,432.3 1494.1,429.1 1503.3,427.7 1512.6,426.6 1521.9,425.7 1531.2,425.2 1540.4,424.9 1549.7,425 1559,425.4 1568.2,426.2 1577.5,427.2 1586.8,428.5 1605.3,431.6 1633.2,437.2 1670.2,445.8 1716.6,457.5 1772.2,472.1 1846.4,492 M1253,493.4 1401.3,449.4 1429.2,441.3 1447.7,436.1 1466.2,431.3 1475.5,429.3 1484.8,427.7 1494.1,426.8 1503.3,426.7 1512.6,427.4 1521.9,428.8 1531.2,430.7 1549.7,435.1 1586.8,445.1 1633.2,458.4 1698.1,477.7 1763,497.5 1837.1,520.5 M1253,507.4 1327.2,482.7 1382.8,464.5 1429.2,449.9 1457,441.6 1475.5,436.6 1484.8,434.4 1494.1,432.3 1503.3,430.4 1512.6,428.9 1521.9,427.9 1531.2,427.2 1540.4,427.1 1549.7,427.6 1559,428.5 1568.2,429.8 1577.5,431.5 1596.1,435.7 1605.3,438.1 1623.9,443.3 1661,454.5 1707.3,469.3 1763,487.6 1846.4,515.6 M1253,498.1 1317.9,477.3 1373.5,460.1 1410.6,449.2 1429.2,444.1 1447.7,439.3 1466.2,435 1475.5,433.1 1494.1,429.8 1503.3,428.5 1512.6,427.5 1521.9,426.8 1531.2,426.5 1540.4,426.5 1549.7,426.9 1559,427.6 1568.2,428.6 1577.5,429.9 1586.8,431.5 1605.3,435.3 1633.2,442 1651.7,447 1670.2,452.3 1707.3,463.4 1763,480.7 1846.4,507.3 M1253,523.1 1410.6,464.7 1438.4,454.6 1466.2,444.8 1484.8,438.8 1494.1,436 1503.3,433.6 1512.6,431.5 1521.9,430 1531.2,429.2 1540.4,429.3 1549.7,430.2 1559,431.7 1568.2,433.8 1577.5,436.2 1586.8,438.9 1605.3,444.8 1642.4,457.6 1688.8,474.4 1744.4,495.1 1818.6,523.3 M1253,500.6 1299.3,487.8 1345.7,474.8 1457,442.5 1484.8,435.1 1503.3,431 1512.6,429.4 1521.9,428.2 1531.2,427.5 1540.4,427.3 1549.7,427.7 1559,428.5 1568.2,429.8 1586.8,433.1 1614.6,439.2 1651.7,448.6 1698.1,461.3 1744.4,475 1790.8,489.4 1846.4,507.6 M1253,519.2 1327.2,492.3 1392.1,469.2 1419.9,459.6 1438.4,453.5 1466.2,444.8 1484.8,439.6 1494.1,437.3 1503.3,435.2 1512.6,433.4 1521.9,432 1531.2,430.9 1540.4,430.3 1549.7,430 1559,430.2 1568.2,430.9 1577.5,431.9 1586.8,433.3 1596.1,435 1605.3,436.9 1623.9,441.5 1633.2,444 1651.7,449.4 1670.2,455.2 1688.8,461.3 1707.3,467.7 1735.1,477.6 1763,487.8 1790.8,498.4 1846.4,520.2 M1253,519.5 1345.7,488.9 1410.6,467.7 1457,453 1484.8,444.6 1503.3,439.5 1512.6,437.1 1521.9,435 1531.2,433.2 1540.4,431.8 1549.7,430.8 1559,430.4 1568.2,430.6 1577.5,431.3 1586.8,432.6 1596.1,434.2 1614.6,438.3 1623.9,440.7 1642.4,445.8 1679.5,457 1725.9,471.7 1781.5,490.1 1846.4,512 M1253,521.7 1317.9,497.8 1392.1,471 1438.4,454.7 1466.2,445.5 1484.8,440 1494.1,437.6 1503.3,435.5 1512.6,434 1521.9,433 1531.2,432.8 1540.4,433.3 1549.7,434.5 1559,436.2 1568.2,438.4 1577.5,440.8 1586.8,443.5 1605.3,449.3 1642.4,461.8 1698.1,481.4 1753.7,501.8 1809.3,522.9 M1271.5,524.2 1336.4,496.1 1382.8,476.2 1419.9,460.8 1447.7,449.8 1466.2,443.1 1475.5,440.1 1484.8,437.5 1494.1,435.4 1503.3,434 1512.6,433.5 1521.9,434 1531.2,435.3 1540.4,437.4 1549.7,440 1559,443 1577.5,449.7 1605.3,460.7 1642.4,476.1 1688.8,495.9 1753.7,524 M1253,513.6 1317.9,487.6 1364.3,469.5 1401.3,455.6 1429.2,445.7 1447.7,439.8 1457,437.3 1466.2,435 1475.5,433.4 1484.8,432.3 1494.1,432.2 1503.3,432.8 1512.6,434.3 1521.9,436.3 1531.2,438.9 1540.4,441.7 1559,448 1586.8,458.2 1614.6,468.9 1753.7,523.8 M1262.3,522.3 1308.6,506.4 1364.3,488.1 1429.2,467.6 1475.5,453.6 1494.1,448.4 1503.3,446.1 1512.6,443.9 1521.9,442 1531.2,440.4 1540.4,439.3 1549.7,438.8 1559,438.9 1568.2,439.6 1577.5,440.9 1586.8,442.5 1596.1,444.6 1605.3,446.9 1623.9,451.9 1642.4,457.4 1670.2,465.9 1744.4,489.3 1800.1,507.5 1846.4,523.4 M1253,520.4 1308.6,496.2 1355,476.7 1392.1,461.9 1419.9,451.8 1438.4,445.7 1447.7,443 1457,440.6 1466.2,438.4 1475.5,436.6 1484.8,435.3 1494.1,434.4 1503.3,434 1512.6,434.2 1521.9,434.9 1531.2,436 1540.4,437.6 1549.7,439.6 1559,442 1568.2,444.6 1586.8,450.5 1596.1,453.7 1614.6,460.5 1633.2,467.7 1651.7,475.2 1698.1,494.6 1763,522.8 M1299.3,522.9 1410.6,472.6 1438.4,460.4 1466.2,448.6 1484.8,441.3 1494.1,438 1503.3,435.2 1512.6,433 1521.9,431.7 1531.2,431.7 1540.4,433 1549.7,435.1 1559,437.9 1568.2,441.1 1577.5,444.6 1605.3,455.8 1642.4,471.8 1688.8,492.5 1753.7,522 M1317.9,523 1382.8,490.5 1419.9,472.4 1447.7,459.5 1466.2,451.6 1475.5,447.9 1484.8,444.5 1494.1,441.3 1503.3,438.4 1512.6,435.9 1521.9,433.9 1531.2,432.4 1540.4,431.4 1549.7,431 1559,431.3 1568.2,432.1 1577.5,433.5 1586.8,435.4 1596.1,437.7 1605.3,440.4 1614.6,443.5 1633.2,450.4 1642.4,454.1 1661,462.1 1688.8,475 1725.9,493.2 1781.5,521.5 M1271.5,523.5 1327.2,501.5 1373.5,483.6 1419.9,466.2 1457,453 1475.5,447 1484.8,444.3 1494.1,442 1503.3,440.2 1512.6,439 1521.9,438.7 1531.2,439.4 1540.4,441 1549.7,443.2 1559,445.8 1577.5,451.9 1596.1,458.6 1623.9,469 1763,522.6 M1280.8,520.3 1345.7,495.3 1392.1,477.8 1429.2,464.2 1457,454.7 1475.5,448.9 1484.8,446.4 1494.1,444.1 1503.3,442.3 1512.6,441 1521.9,440.4 1531.2,440.5 1540.4,441.3 1549.7,442.7 1559,444.7 1568.2,447 1586.8,452.5 1614.6,461.8 1651.7,475.3 1707.3,496.3 1772.2,521.3 M1317.9,520.8 1382.8,494.3 1429.2,475.8 1466.2,461.6 1494.1,451.7 1512.6,446 1521.9,443.6 1531.2,441.6 1540.4,440.2 1549.7,439.3 1559,439.2 1568.2,439.9 1577.5,441.2 1586.8,443 1596.1,445.3 1605.3,447.9 1614.6,450.8 1633.2,457.1 1661,467.4 1698.1,481.8 1744.4,500.5 1800.1,523.4 M1317.9,520.7 1364.3,499.4 1401.3,482.9 1438.4,467.1 1466.2,456.2 1484.8,449.6 1494.1,446.6 1503.3,443.9 1512.6,441.6 1521.9,439.7 1531.2,438.4 1540.4,437.9 1549.7,438.2 1559,439.2 1568.2,441 1577.5,443.3 1586.8,446.1 1596.1,449.2 1605.3,452.6 1623.9,459.9 1651.7,471.8 1763,521.5 M1308.6,521 1355,499.1 1392.1,482.3 1410.6,474.3 1429.2,466.5 1447.7,459.3 1457,455.9 1475.5,449.8 1484.8,447.2 1494.1,444.9 1503.3,443.1 1512.6,441.8 1521.9,441.1 1531.2,441 1540.4,441.5 1549.7,442.6 1559,444.3 1568.2,446.4 1577.5,449 1586.8,451.9 1605.3,458.6 1614.6,462.2 1633.2,469.8 1661,481.8 1698.1,498.7 1753.7,524.6 M1355,524.2 1401.3,501.4 1438.4,483.5 1466.2,470.5 1494.1,458.3 1512.6,451.1 1521.9,447.9 1531.2,445.2 1540.4,443.1 1549.7,441.9 1559,441.5 1568.2,442.1 1577.5,443.6 1586.8,445.8 1596.1,448.6 1605.3,451.9 1614.6,455.4 1623.9,459.2 1642.4,467.3 1670.2,480.1 1707.3,497.8 1753.7,520.6 M1336.4,521.7 1392.1,495.9 1429.2,479 1457,466.9 1475.5,459.2 1484.8,455.5 1494.1,452.1 1503.3,448.9 1512.6,446.1 1521.9,443.7 1531.2,441.9 1540.4,440.9 1549.7,440.6 1559,441.3 1568.2,442.7 1577.5,444.8 1586.8,447.3 1596.1,450.3 1614.6,457.1 1642.4,468.5 1670.2,480.7 1707.3,497.6 1763,523.5 M1308.6,524.9 1355,500.7 1392.1,482 1419.9,468.7 1438.4,460.3 1447.7,456.4 1466.2,449.2 1475.5,446.1 1484.8,443.3 1494.1,440.9 1503.3,439 1512.6,437.8 1521.9,437.2 1531.2,437.3 1540.4,438 1549.7,439.4 1559,441.4 1568.2,443.9 1577.5,446.9 1586.8,450.1 1596.1,453.7 1605.3,457.5 1623.9,465.6 1651.7,478.8 1688.8,497.4 1735.1,521.4 M1336.4,524.7 1382.8,502.6 1419.9,485.2 1447.7,472.7 1466.2,464.9 1475.5,461.3 1484.8,457.9 1494.1,454.7 1503.3,451.8 1512.6,449.4 1521.9,447.4 1531.2,446 1540.4,445.2 1549.7,445 1559,445.5 1568.2,446.5 1577.5,448.1 1586.8,450.2 1596.1,452.7 1605.3,455.6 1623.9,462 1633.2,465.6 1651.7,473.1 1679.5,485.3 1716.6,502.5 1753.7,520.6 M1373.5,521.2 1447.7,479 1466.2,468.8 1484.8,459.1 1494.1,454.6 1503.3,450.6 1512.6,447.3 1521.9,445.3 1531.2,444.8 1540.4,446 1549.7,448.6 1559,452 1568.2,455.9 1577.5,460.3 1596.1,469.5 1623.9,484.1 1661,504.4 1698.1,525.2 M1317.9,522.2 1364.3,500.8 1401.3,484 1429.2,472 1457,460.8 1475.5,454 1484.8,451 1494.1,448.2 1503.3,445.9 1512.6,444.1 1521.9,442.8 1531.2,442.2 1540.4,442.4 1549.7,443.2 1559,444.7 1568.2,446.8 1577.5,449.3 1586.8,452.2 1605.3,458.8 1614.6,462.4 1633.2,469.9 1661,481.9 1698.1,498.6 1753.7,524.2 M1308.6,522.5 1355,499.5 1392.1,481.6 1419.9,468.7 1438.4,460.6 1447.7,456.7 1457,453.2 1466.2,449.9 1475.5,446.9 1484.8,444.4 1494.1,442.6 1503.3,441.4 1512.6,441 1521.9,441.4 1531.2,442.5 1540.4,444.4 1549.7,446.8 1559,449.7 1568.2,452.9 1577.5,456.4 1586.8,460.1 1605.3,468 1633.2,480.7 1670.2,498.5 1716.6,521.6 M1355,525.3 1392.1,505.1 1429.2,485.4 1457,471.3 1475.5,462.6 1484.8,458.6 1494.1,454.9 1503.3,451.8 1512.6,449.3 1521.9,447.8 1531.2,447.3 1540.4,448 1549.7,449.7 1559,452.3 1568.2,455.6 1577.5,459.3 1586.8,463.4 1605.3,472.3 1633.2,486.5 1661,501.4 1698.1,521.5 M1364.3,520.5 1401.3,500.5 1429.2,486.3 1447.7,477.2 1457,473 1475.5,465 1484.8,461.3 1494.1,458 1503.3,455 1512.6,452.5 1521.9,450.4 1531.2,448.9 1540.4,448 1549.7,447.7 1559,448 1568.2,448.9 1577.5,450.5 1586.8,452.5 1596.1,455 1605.3,457.9 1614.6,461.2 1623.9,464.8 1633.2,468.6 1651.7,476.9 1679.5,490.5 1707.3,504.9 1744.4,525.1 M1355,525 1392.1,503.5 1419.9,488 1438.4,478.3 1447.7,473.7 1466.2,465.1 1475.5,461.2 1484.8,457.7 1494.1,454.6 1503.3,452.1 1512.6,450.1 1521.9,448.7 1531.2,448.1 1540.4,448.2 1549.7,448.9 1559,450.4 1568.2,452.5 1577.5,455.1 1586.8,458.2 1596.1,461.7 1605.3,465.5 1623.9,474 1633.2,478.5 1651.7,488.1 1679.5,503.4 1716.6,524.9 M1364.3,521.7 1401.3,501.5 1429.2,486.9 1457,473.1 1475.5,464.7 1484.8,460.8 1494.1,457.3 1503.3,454.1 1512.6,451.5 1521.9,449.4 1531.2,447.9 1540.4,447.2 1549.7,447.3 1559,448.1 1568.2,449.7 1577.5,451.8 1586.8,454.6 1596.1,457.7 1605.3,461.2 1623.9,469.1 1633.2,473.3 1651.7,482.3 1670.2,491.7 1688.8,501.5 1725.9,521.7 M1364.3,524.7 1401.3,504.7 1429.2,489.9 1457,475.6 1475.5,466.6 1484.8,462.4 1494.1,458.6 1503.3,455.2 1512.6,452.7 1521.9,451.2 1531.2,451.2 1540.4,452.6 1549.7,455.2 1559,458.5 1568.2,462.5 1586.8,471.3 1605.3,480.7 1633.2,495.4 1679.5,520.5 M1392.1,523.2 1429.2,502.3 1457,487.1 1475.5,477.4 1484.8,472.8 1503.3,464.1 1512.6,460.3 1521.9,456.8 1531.2,454 1540.4,451.9 1549.7,450.8 1559,450.6 1568.2,451.6 1577.5,453.4 1586.8,456.1 1596.1,459.4 1605.3,463.2 1614.6,467.3 1633.2,476.4 1651.7,486.1 1679.5,501.3 1716.6,522.2 M1327.2,522.7 1364.3,502 1392.1,486.9 1419.9,472.5 1438.4,463.8 1447.7,459.9 1457,456.4 1466.2,453.6 1475.5,451.7 1484.8,450.9 1494.1,451.3 1503.3,452.9 1512.6,455.5 1521.9,458.8 1531.2,462.6 1540.4,466.9 1549.7,471.3 1568.2,480.9 1596.1,495.9 1642.4,521.8 M1392.1,522.4 1419.9,506.7 1447.7,491.5 1466.2,482 1475.5,477.5 1494.1,469 1503.3,465.2 1512.6,461.7 1521.9,458.6 1531.2,456 1540.4,454 1549.7,452.6 1559,451.9 1568.2,451.9 1577.5,452.6 1586.8,454 1596.1,456 1605.3,458.5 1614.6,461.6 1623.9,465 1633.2,468.8 1642.4,472.8 1651.7,477.1 1670.2,486.3 1698.1,501 1735.1,521.9 M1392.1,523.4 1419.9,505.4 1447.7,487.9 1466.2,476.9 1475.5,471.7 1484.8,466.8 1494.1,462.3 1503.3,458.5 1512.6,455.4 1521.9,453.3 1531.2,452.4 1540.4,452.8 1549.7,454.4 1559,457 1568.2,460.5 1577.5,464.6 1586.8,469.1 1596.1,474 1614.6,484.5 1642.4,501.4 1679.5,524.9 M1373.5,523.5 1410.6,504.6 1438.4,491.1 1466.2,478.4 1484.8,470.8 1494.1,467.4 1503.3,464.3 1512.6,461.7 1521.9,459.6 1531.2,458.2 1540.4,457.6 1549.7,457.8 1559,458.8 1568.2,460.5 1577.5,462.9 1586.8,465.8 1596.1,469.2 1614.6,476.8 1623.9,481 1642.4,489.7 1670.2,503.4 1707.3,522.3 M1392.1,521.1 1419.9,505.9 1447.7,491.4 1466.2,482.2 1475.5,477.9 1484.8,473.8 1494.1,470 1503.3,466.5 1512.6,463.4 1521.9,460.9 1531.2,458.9 1540.4,457.7 1549.7,457.2 1559,457.5 1568.2,458.7 1577.5,460.5 1586.8,462.9 1596.1,465.9 1605.3,469.3 1614.6,473 1633.2,481.3 1642.4,485.7 1661,495 1688.8,509.7 1716.6,524.9 M1382.8,523.2 1410.6,507 1438.4,491.8 1457,482.4 1466.2,478.1 1475.5,474.1 1484.8,470.5 1494.1,467.2 1503.3,464.5 1512.6,462.4 1521.9,460.9 1531.2,460.1 1540.4,460 1549.7,460.6 1559,461.9 1568.2,463.9 1577.5,466.5 1586.8,469.6 1596.1,473.1 1605.3,477 1614.6,481.1 1633.2,490.3 1642.4,495.1 1661,505.2 1688.8,521.3 M1373.5,522.8 1401.3,506.4 1429.2,490.6 1447.7,480.8 1457,476.1 1466.2,471.7 1475.5,467.7 1484.8,464.1 1494.1,461.1 1503.3,458.9 1512.6,457.5 1521.9,457.2 1531.2,457.9 1540.4,459.6 1549.7,462.2 1559,465.4 1568.2,469.2 1577.5,473.5 1596.1,482.8 1614.6,492.9 1642.4,508.9 1670.2,525.4 M1410.6,521.1 1438.4,504.9 1466.2,489.2 1484.8,479.5 1494.1,475 1503.3,470.9 1512.6,467.3 1521.9,464.2 1531.2,461.9 1540.4,460.6 1549.7,460.2 1559,460.9 1568.2,462.6 1577.5,465 1586.8,468.2 1596.1,471.9 1605.3,475.9 1614.6,480.3 1633.2,489.7 1661,504.9 1688.8,520.8 M1410.6,520.6 1438.4,503.8 1466.2,487.8 1484.8,477.9 1494.1,473.4 1503.3,469.2 1512.6,465.5 1521.9,462.4 1531.2,460.1 1540.4,458.7 1549.7,458.4 1559,459.1 1568.2,460.9 1577.5,463.5 1586.8,466.8 1596.1,470.7 1605.3,475 1614.6,479.7 1633.2,489.6 1661,505.7 1688.8,522.4 M1373.5,525.8 1401.3,509.2 1429.2,492.9 1447.7,482.6 1457,477.7 1466.2,473.1 1475.5,469 1484.8,465.7 1494.1,463.6 1503.3,463 1512.6,464.3 1521.9,467 1531.2,470.7 1540.4,475 1549.7,479.8 1568.2,490.1 1596.1,506.3 1623.9,523 M1392.1,521.8 1419.9,504.4 1438.4,493.3 1457,482.8 1466.2,477.9 1475.5,473.4 1484.8,469.4 1494.1,466.2 1503.3,463.7 1512.6,462.4 1521.9,462.2 1531.2,463.3 1540.4,465.4 1549.7,468.4 1559,472 1568.2,476.2 1577.5,480.8 1586.8,485.7 1605.3,496 1623.9,507 1651.7,524 M1419.9,524.9 1447.7,505.1 1466.2,492.4 1484.8,480.4 1494.1,474.9 1503.3,470 1512.6,466 1521.9,463.3 1531.2,462.4 1540.4,463.5 1549.7,466.4 1559,470.7 1568.2,475.7 1577.5,481.4 1596.1,493.7 1614.6,506.6 1642.4,526.7 M1392.1,523.7 1419.9,505.8 1438.4,494.4 1457,483.6 1466.2,478.7 1475.5,474 1484.8,469.8 1494.1,466.2 1503.3,463.3 1512.6,461.2 1521.9,460.1 1531.2,460.1 1540.4,461.2 1549.7,463.3 1559,466.3 1568.2,470 1577.5,474.2 1586.8,479 1596.1,484 1614.6,495 1633.2,506.6 1661,524.7 M1419.9,522.7 1447.7,504.2 1466.2,492.4 1484.8,481.4 1494.1,476.4 1503.3,472 1512.6,468.4 1521.9,465.8 1531.2,464.6 1540.4,464.9 1549.7,466.7 1559,469.6 1568.2,473.6 1577.5,478.2 1586.8,483.3 1605.3,494.4 1623.9,506.2 1651.7,524.6 M1419.9,521.2 1438.4,508.8 1457,497.2 1475.5,486.4 1484.8,481.5 1494.1,476.9 1503.3,472.8 1512.6,469.3 1521.9,466.3 1531.2,464 1540.4,462.6 1549.7,462 1559,462.3 1568.2,463.5 1577.5,465.5 1586.8,468.4 1596.1,472 1605.3,476.1 1614.6,480.8 1623.9,485.9 1633.2,491.4 1651.7,503.1 1679.5,522.1 M1373.5,524.1 1401.3,507 1419.9,496.3 1438.4,486.4 1447.7,481.9 1457,477.8 1466.2,474.1 1475.5,470.9 1484.8,468.3 1494.1,466.3 1503.3,465.1 1512.6,464.7 1521.9,465.1 1531.2,466.2 1540.4,468.1 1549.7,470.6 1559,473.7 1568.2,477.3 1577.5,481.4 1586.8,485.8 1605.3,495.5 1623.9,506 1651.7,522.9 M1419.9,524 1457,498.4 1475.5,486.2 1484.8,480.5 1494.1,475.2 1503.3,470.6 1512.6,467 1521.9,465.1 1531.2,465.3 1540.4,467.6 1549.7,471.3 1559,476 1568.2,481.4 1586.8,493 1605.3,505.4 1633.2,524.6 M1410.6,521.2 1429.2,508.9 1447.7,497.3 1457,491.9 1466.2,486.8 1475.5,482.1 1484.8,477.9 1494.1,474.2 1503.3,471.1 1512.6,468.7 1521.9,467.1 1531.2,466.4 1540.4,466.4 1549.7,467.4 1559,469.1 1568.2,471.6 1577.5,474.7 1586.8,478.4 1596.1,482.6 1605.3,487.1 1614.6,492.1 1623.9,497.3 1642.4,508.6 1661,520.6 M1373.5,521.6 1392.1,509.8 1410.6,498.7 1419.9,493.5 1429.2,488.6 1438.4,484.1 1447.7,479.9 1457,476.3 1466.2,473.2 1475.5,470.7 1484.8,469 1494.1,468 1503.3,467.8 1512.6,468.5 1521.9,469.9 1531.2,472.1 1540.4,474.9 1549.7,478.4 1559,482.3 1568.2,486.7 1577.5,491.5 1596.1,501.9 1614.6,513.2 1633.2,525.2 M1401.3,526.8 1419.9,512.9 1438.4,499.6 1447.7,493.3 1457,487.4 1466.2,481.8 1475.5,476.7 1484.8,472.3 1494.1,468.8 1503.3,466.4 1512.6,465.3 1521.9,465.6 1531.2,467.3 1540.4,470.2 1549.7,474.2 1559,479 1568.2,484.4 1577.5,490.3 1586.8,496.6 1605.3,509.9 1623.9,523.9 M1475.5,523 1494.1,508.8 1512.6,495.1 1521.9,488.8 1531.2,483 1540.4,478.1 1549.7,474.7 1559,473.5 1568.2,474.7 1577.5,477.9 1586.8,482.5 1596.1,488 1605.3,494.1 1623.9,507.1 1642.4,520.8 M1429.2,524.3 1447.7,511.7 1457,505.6 1475.5,494.2 1484.8,488.9 1494.1,484 1503.3,479.6 1512.6,475.8 1521.9,472.8 1531.2,470.6 1540.4,469.5 1549.7,469.4 1559,470.4 1568.2,472.5 1577.5,475.5 1586.8,479.2 1596.1,483.6 1605.3,488.4 1614.6,493.7 1623.9,499.3 1642.4,511.2 1661,523.8 M1392.1,524.1 1410.6,510.6 1429.2,497.7 1438.4,491.6 1447.7,485.9 1457,480.7 1466.2,476.4 1475.5,473.1 1484.8,471.3 1494.1,471.3 1503.3,473 1512.6,476.2 1521.9,480.5 1531.2,485.7 1540.4,491.5 1559,504 1586.8,524.3 M1410.6,521.1 1429.2,508.7 1447.7,497.3 1457,492 1466.2,487.1 1475.5,482.6 1484.8,478.6 1494.1,475.3 1503.3,472.7 1512.6,470.9 1521.9,469.9 1531.2,469.9 1540.4,470.8 1549.7,472.5 1559,475.1 1568.2,478.4 1577.5,482.3 1586.8,486.8 1596.1,491.7 1605.3,497 1623.9,508.5 1642.4,520.9 M1419.9,522.1 1438.4,510 1457,498.8 1466.2,493.6 1475.5,488.7 1484.8,484.2 1494.1,480.2 1503.3,476.8 1512.6,473.9 1521.9,471.8 1531.2,470.5 1540.4,469.9 1549.7,470.3 1559,471.4 1568.2,473.4 1577.5,476 1586.8,479.3 1596.1,483.2 1605.3,487.5 1614.6,492.3 1623.9,497.4 1633.2,502.8 1651.7,514.2 1670.2,526.4 M1438.4,525.7 1457,512.8 1475.5,500.7 1484.8,495.1 1494.1,490 1503.3,485.4 1512.6,481.5 1521.9,478.5 1531.2,476.5 1540.4,475.6 1549.7,475.9 1559,477.2 1568.2,479.6 1577.5,482.9 1586.8,486.8 1596.1,491.3 1605.3,496.3 1614.6,501.7 1633.2,513.2 1651.7,525.6 M1429.2,524.6 1447.7,511.4 1457,505.1 1466.2,499.1 1475.5,493.5 1484.8,488.3 1494.1,483.7 1503.3,479.7 1512.6,476.6 1521.9,474.2 1531.2,472.9 1540.4,472.7 1549.7,473.5 1559,475.3 1568.2,478 1577.5,481.5 1586.8,485.7 1596.1,490.5 1605.3,495.7 1614.6,501.3 1633.2,513.5 1651.7,526.6 M1521.9,521 1540.4,507.2 1549.7,500.8 1559,494.6 1568.2,489 1577.5,484 1586.8,479.9 1596.1,476.8 1605.3,475 1614.6,474.7 1623.9,475.9 1633.2,478.5 1642.4,482.3 1651.7,487.1 1661,492.6 1670.2,498.6 1679.5,505.1 1688.8,511.9 1707.3,526.1 M1438.4,525.6 1457,511.3 1466.2,504.5 1475.5,498 1484.8,492.1 1494.1,486.9 1503.3,482.7 1512.6,480 1521.9,479.2 1531.2,480.3 1540.4,483.1 1549.7,487.5 1559,492.8 1568.2,498.8 1577.5,505.4 1586.8,512.3 1605.3,526.7 M1475.5,520.6 1494.1,506.4 1503.3,499.8 1512.6,493.7 1521.9,488.1 1531.2,483.5 1540.4,479.9 1549.7,477.8 1559,477.3 1568.2,478.6 1577.5,481.4 1586.8,485.6 1596.1,490.8 1605.3,496.7 1614.6,503.2 1623.9,510.1 1642.4,524.8 M1410.6,525.6 1429.2,511.7 1438.4,505.2 1447.7,499.2 1457,493.8 1466.2,489.1 1475.5,485.4 1484.8,482.9 1494.1,481.7 1503.3,481.9 1512.6,483.5 1521.9,486.4 1531.2,490.3 1540.4,495.1 1549.7,500.6 1559,506.7 1568.2,513.2 1586.8,527.1 M1438.4,520.7 1457,506.3 1466.2,499.6 1475.5,493.4 1484.8,487.9 1494.1,483.5 1503.3,480.3 1512.6,478.9 1521.9,479.3 1531.2,481.4 1540.4,485.1 1549.7,489.9 1559,495.6 1568.2,501.8 1577.5,508.6 1596.1,522.9 M1419.9,524.8 1438.4,511 1447.7,504.6 1457,498.7 1466.2,493.4 1475.5,488.9 1484.8,485.4 1494.1,483.1 1503.3,482.2 1512.6,482.8 1521.9,484.8 1531.2,488.1 1540.4,492.4 1549.7,497.6 1559,503.4 1568.2,509.7 1577.5,516.4 1586.8,523.4 M1494.1,520.4 1503.3,512.8 1512.6,505.6 1521.9,498.9 1531.2,492.9 1540.4,487.8 1549.7,483.8 1559,481.4 1568.2,480.6 1577.5,481.5 1586.8,484.2 1596.1,488.3 1605.3,493.5 1614.6,499.5 1623.9,506.3 1633.2,513.5 1642.4,521.1 M1484.8,521.8 1494.1,514.9 1503.3,508.3 1512.6,502.2 1521.9,496.7 1531.2,491.8 1540.4,487.9 1549.7,484.9 1559,483.2 1568.2,482.8 1577.5,483.7 1586.8,485.9 1596.1,489.2 1605.3,493.5 1614.6,498.7 1623.9,504.4 1633.2,510.8 1642.4,517.5 1651.7,524.5 M1466.2,523.2 1475.5,516.7 1484.8,510.5 1494.1,504.6 1503.3,499.2 1512.6,494.3 1521.9,490.1 1531.2,486.6 1540.4,484 1549.7,482.5 1559,481.9 1568.2,482.5 1577.5,484.1 1586.8,486.7 1596.1,490.2 1605.3,494.4 1614.6,499.3 1623.9,504.7 1633.2,510.5 1642.4,516.8 1651.7,523.3 M1447.7,525.2 1457,518.2 1466.2,511.4 1475.5,505.1 1484.8,499.4 1494.1,494.3 1503.3,490.1 1512.6,487 1521.9,485.2 1531.2,484.8 1540.4,485.8 1549.7,488.2 1559,491.8 1568.2,496.5 1577.5,501.9 1586.8,508 1596.1,514.6 1605.3,521.6 M1447.7,521.8 1466.2,506.3 1475.5,499.2 1484.8,492.7 1494.1,487.2 1503.3,483.3 1512.6,481.5 1521.9,482.3 1531.2,485.5 1540.4,490.6 1549.7,496.9 1559,504 1568.2,511.7 1586.8,528 M1484.8,521.5 1494.1,513.6 1503.3,506.2 1512.6,499.3 1521.9,493.2 1531.2,488.4 1540.4,485.3 1549.7,484.5 1559,486.2 1568.2,490.1 1577.5,495.6 1586.8,502.3 1596.1,509.7 1605.3,517.6 1614.6,525.8 M1512.6,521.1 1521.9,513.3 1531.2,505.9 1540.4,499.2 1549.7,493.5 1559,489.4 1568.2,487.6 1577.5,488.4 1586.8,491.8 1596.1,497.1 1605.3,503.7 1614.6,511.2 1623.9,519.1 1633.2,527.5 M1457,526.4 1466.2,519.4 1475.5,512.8 1484.8,506.6 1494.1,501 1503.3,496.1 1512.6,491.9 1521.9,488.7 1531.2,486.5 1540.4,485.5 1549.7,485.6 1559,486.9 1568.2,489.4 1577.5,492.9 1586.8,497.2 1596.1,502.4 1605.3,508.2 1614.6,514.6 1623.9,521.4 M1521.9,520.5 1531.2,513.1 1540.4,506.4 1549.7,500.5 1559,495.5 1568.2,491.8 1577.5,489.6 1586.8,488.9 1596.1,490 1605.3,492.6 1614.6,496.6 1623.9,501.9 1633.2,508 1642.4,514.9 1651.7,522.4 M1466.2,523.5 1475.5,516.9 1484.8,510.8 1494.1,505.4 1503.3,500.6 1512.6,496.6 1521.9,493.7 1531.2,491.8 1540.4,491 1549.7,491.4 1559,493 1568.2,495.7 1577.5,499.4 1586.8,503.9 1596.1,509.2 1605.3,515 1614.6,521.4 M1438.4,524.3 1447.7,517.6 1457,511.5 1466.2,505.8 1475.5,500.9 1484.8,496.6 1494.1,493.3 1503.3,490.9 1512.6,489.6 1521.9,489.4 1531.2,490.3 1540.4,492.2 1549.7,495.2 1559,499.1 1568.2,503.7 1577.5,509.1 1586.8,515 1596.1,521.5 M1457,522.5 1466.2,515 1475.5,508.1 1484.8,501.9 1494.1,496.6 1503.3,492.5 1512.6,489.6 1521.9,488.2 1531.2,488.3 1540.4,489.9 1549.7,493 1559,497.2 1568.2,502.5 1577.5,508.5 1586.8,515.3 1596.1,522.6 M1484.8,521.7 1494.1,513.7 1503.3,506.5 1512.6,500.4 1521.9,496.2 1531.2,494.5 1540.4,495.6 1549.7,499.4 1559,505.1 1568.2,512 1577.5,519.8 1586.8,528.1 M1466.2,523.8 1475.5,515.9 1484.8,508.8 1494.1,502.6 1503.3,497.6 1512.6,494.1 1521.9,492.3 1531.2,492.5 1540.4,494.5 1549.7,498.3 1559,503.5 1568.2,509.8 1577.5,517 1586.8,524.8 M1475.5,526.8 1484.8,519.2 1494.1,512.2 1503.3,505.9 1512.6,500.4 1521.9,495.9 1531.2,492.8 1540.4,491 1549.7,490.7 1559,492 1568.2,494.7 1577.5,498.6 1586.8,503.6 1596.1,509.6 1605.3,516.2 1614.6,523.5 M1503.3,525.7 1512.6,519.3 1521.9,513.4 1531.2,508.3 1540.4,503.9 1549.7,500.5 1559,498.2 1568.2,496.9 1577.5,496.9 1586.8,498 1596.1,500.2 1605.3,503.5 1614.6,507.7 1623.9,512.7 1633.2,518.4 1642.4,524.7 M1494.1,526.7 1503.3,518.8 1512.6,511.6 1521.9,505.4 1531.2,500.6 1540.4,497.7 1549.7,497 1559,498.7 1568.2,502.6 1577.5,508.1 1586.8,514.8 1596.1,522.3 M1475.5,522.6 1484.8,516.4 1494.1,510.9 1503.3,506.1 1512.6,502.3 1521.9,499.4 1531.2,497.7 1540.4,497 1549.7,497.5 1559,499.2 1568.2,501.9 1577.5,505.7 1586.8,510.4 1596.1,515.8 1605.3,521.9 M1484.8,526.2 1494.1,519.3 1503.3,513.1 1512.6,507.8 1521.9,503.5 1531.2,500.4 1540.4,498.7 1549.7,498.6 1559,499.9 1568.2,502.7 1577.5,506.8 1586.8,511.9 1596.1,518 1605.3,524.8 M1494.1,522.6 1503.3,515.9 1512.6,509.9 1521.9,504.8 1531.2,500.8 1540.4,498.2 1549.7,497 1559,497.4 1568.2,499.2 1577.5,502.5 1586.8,507 1596.1,512.5 1605.3,518.8 1614.6,525.8 M1494.1,525.5 1503.3,517 1512.6,509.6 1521.9,504 1531.2,501 1540.4,501.1 1549.7,504.3 1559,509.9 1568.2,517.2 1577.5,525.5 M1484.8,524 1494.1,517 1503.3,510.8 1512.6,505.7 1521.9,501.9 1531.2,499.6 1540.4,499 1549.7,500.1 1559,502.8 1568.2,507.1 1577.5,512.5 1586.8,519 1596.1,526.3 M1503.3,520.6 1512.6,513 1521.9,506.9 1531.2,502.6 1540.4,500.8 1549.7,501.9 1559,505.5 1568.2,511.3 1577.5,518.5 1586.8,526.7 M1438.4,520.4 1447.7,514.4 1457,509.3 1466.2,505.3 1475.5,502.7 1484.8,501.4 1494.1,501.6 1503.3,503.3 1512.6,506.5 1521.9,510.8 1531.2,516.3 1540.4,522.7 M1512.6,525.1 1521.9,518.2 1531.2,512.3 1540.4,507.6 1549.7,504.4 1559,502.7 1568.2,502.9 1577.5,504.8 1586.8,508.4 1596.1,513.3 1605.3,519.4 1614.6,526.3 M1494.1,524.9 1503.3,518.4 1512.6,513.1 1521.9,509 1531.2,506.4 1540.4,505.5 1549.7,506.3 1559,508.9 1568.2,512.9 1577.5,518.3 1586.8,524.8 M1484.8,526.7 1494.1,519 1503.3,513.1 1512.6,509.9 1521.9,510.1 1531.2,513.7 1540.4,519.7 1549.7,527.5 M1484.8,525.2 1494.1,519.1 1503.3,514.1 1512.6,510.2 1521.9,507.8 1531.2,506.8 1540.4,507.3 1549.7,509.4 1559,512.9 1568.2,517.6 1577.5,523.5 M1503.3,520.7 1512.6,515.2 1521.9,510.8 1531.2,507.7 1540.4,506.1 1549.7,506 1559,507.5 1568.2,510.4 1577.5,514.7 1586.8,520.1 1596.1,526.6 M1484.8,526.5 1494.1,518.8 1503.3,513.1 1512.6,510.3 1521.9,511.2 1531.2,515.6 1540.4,522.5 M1503.3,525.1 1512.6,518.3 1521.9,513.8 1531.2,512.5 1540.4,514.7 1549.7,519.9 1559,527.3 M1475.5,521.6 1484.8,516.1 1494.1,511.8 1503.3,508.7 1512.6,507.2 1521.9,507.2 1531.2,508.8 1540.4,511.8 1549.7,516.1 1559,521.6" fill="none" stroke="#1b1be2" stroke-width="3.1" stroke-linejoin="round" clip-path="url(#clipb)"/>
<path d="M1258.8,160 1280.8,162.2 1288.7,163.2 1296.7,164.4 1304.6,165.9 1312.4,167.6 1320.2,169.7 1327.9,171.9 1335.6,174.4 1345.1,177.7 1352.6,180.6 1360,183.8 1367.3,187.2 1374.4,190.9 1381.4,194.9 1388.2,199.2 1396.5,204.8 1406.4,211.8 1421,222.5 1432.1,231.1 1439.9,237.4 1446,242.6 1451.9,248.1 1459.1,255.1 1474.5,271 1482.8,279.7 1490.8,288.8 1497.2,296.6 1504.2,306.2 1509.6,314.7 1511.7,318.3 1513.5,322 1514.1,323.9 1514.4,325.8 1514.3,327.7 1513.9,329.5 1513.3,331.3 1511.2,334.9 1508.6,338.4 1497.8,351.2 1491.2,358.6 1484.4,365.6 1475.6,373.9 1468.1,380.6 1460.4,387.1 1454,392.1 1449.2,395.6 1442.5,400 1433.9,405.2 1425.1,410.1 1417.9,413.7 1412.4,416.2 1404.9,419.2 1399.3,421.2 1391.6,423.7 1385.8,425.4 1378,427.4 1358.4,431.6 1328.8,437.5 1318.9,439.2 1309,440.7 1299,442.1 1287,443.4 1259,445.8 M1375,160 1393.4,175.6 1405.5,186.2 1414.4,194.3 1432.1,210.8 1441.1,218.8 1450.2,226.7 1465.7,239.5 1473.3,246 1480.8,252.8 1488,259.8 1495,267 1503.1,276 1509.6,283.7 1514.4,290.1 1518.8,296.8 1521.8,302.1 1523.3,305.8 1523.8,307.8 1524,309.8 1523.9,311.8 1523.5,313.7 1522.8,315.6 1521,319.3 1508.1,339.7 1502.5,348 1495.3,357.7 1485.2,370.3 1473.7,384.2 1464.4,394.8 1457.5,402.1 1453,406.2 1450,408.8 1435.5,419.6 1418.2,433.4 1410,439.2 1400,446 M1406.2,170.6 1415,175.8 1422,179.7 1427.4,182.5 1442.1,189.4 1449.2,193.3 1454.3,196.5 1459.2,200.1 1463.9,203.9 1470,209.2 1484.9,223 1498.1,235.6 1509.4,247.1 1521.9,260.4 1543.7,284.2 1571.9,316 1575.7,320.8 1577.8,324.2 1578.6,326.1 1579.9,329.9 1580.9,333.9 1581.2,335.9 1581.2,337.8 1580.8,339.8 1580.1,341.8 1577.9,347.5 1575.4,353 1573.4,356.5 1571.3,360 1568.9,363.2 1561.3,372.7 1547.7,390.3 1532.1,408.9 1520,422.5 M1510,182.5 1521.4,196.7 1537.5,217.5 1553.1,236.2 1558.1,242.5 1561.7,247.4 1563.8,250.9 1565.3,254.7 1565.8,256.6 1566.2,258.7 1566.3,260.7 1566.1,262.7 1565.2,266.7 1563.9,270.5 1561.4,276.1 1558.5,281.4 1554.4,288.3 1547.7,298.6 1545,303.9 1542.8,309.6 1542.5,311.6 1542.8,313.5 1543.7,315.4 1548.3,322.5 1553,328.9 1557.8,335.3 1566.6,346.5 1570.1,351.4 1572.1,355 1573.7,358.7 1576.5,368.5 1577.9,372.2 1578.9,373.9 1579.9,375.6 1582.4,378.9 1589,386.8 1595.3,394.7 1597.9,397.8 1600.7,400.7 1612.7,411.5 1621.2,420.3 1624.1,423 1627.3,425.5 1638.9,433.7 1650,442.5 M1657.5,196.2 1641.2,211.4 1615.4,237.2 1599,252.3 1591.8,259.4 1586.4,265.5 1575.8,277.8 1563.4,291.1 1559.3,295.6 1554.2,302 1549.6,308.6 1540.9,322.4 1540,324.3 1539.7,326.2 1540,328.1 1540.7,330.1 1545.1,339.4 1548,344.6 1554.5,355 1556.4,358.6 1557,360.5 1557.3,362.5 1557.1,364.5 1556.6,366.5 1555.8,368.4 1553.9,372.1 1550.6,377.2 1546.9,382 1538,393.1 1531.9,401.1 1529.3,404.2 1526.6,407.2 1519.4,414.4 1516.6,417.3 1510,425 M1657.5,190 1620.5,227 1614.9,232.8 1611,237.4 1608.6,240.6 1605.3,245.7 1603.5,249.3 1602,253.1 1601.5,255 1601,259 1601.1,263 1601.4,265 1602.2,269 1603.5,272.8 1605.3,276.4 1618.5,299 1619.3,300.9 1619.7,302.8 1619.7,304.8 1619.1,306.7 1618.2,308.6 1613.4,317.6 1610.3,322.6 1605.4,329 1592,344.1 1584.5,353.5 1583.3,355.3 1582.4,357 1582.3,358.9 1583,360.7 1585.5,364.4 1598.9,381.8 1604.2,387.9 1608.6,392.1 1619.7,400.7 1624.3,404.7 1630.1,410.2 1643.1,423 1647.5,427.1 1653.8,432.1 1657.1,434.3 1660.6,436.4 1667.7,440.1 1687.5,450 M1662.5,270.6 1654.3,279.6 1641.3,292.5 1637,296.9 1633,301.5 1626.9,309.5 1619.9,317 1617.4,320.1 1616.3,321.8 1614.4,325.4 1612.8,329.2 1611.6,333.1 1611.3,335.1 1611.3,337.1 1611.7,339.1 1612.4,341.1 1614.2,344.8 1617.4,349.9 1621.1,354.8 1626.2,361.1 1634.4,370.1 1649.8,386.3 1655.5,392.2 1661.4,397.7 1666,401.7 1672.3,406.7 1678.9,411.5 1690.6,419.6 1699,425.3 1707.6,430.8 1725,441.2 M1662.5,273.1 1658.5,277.7 1650.2,286.6 1646.6,291.4 1644.5,294.8 1641.8,300.3 1641,302.2 1640.6,304.2 1640.7,306.1 1641.2,308.1 1642,310.1 1643.7,313.8 1646.8,319 1649.2,322.2 1654.6,328.2 1673.1,346.9 1683.4,356.6 1693.9,366 1706.3,376.5 1717.3,385.3 1728.5,393.9 1740.1,402.1 1750.1,408.8 1762.1,416.3 1774.4,423.4 1785,429.2 1794.1,433.7 1801.5,436.8 1809.1,439.5 1818.9,442.3 1828.7,444.6 1840.6,446.9 M1524,311.2 1542.5,311 M1514.4,325.6 1539.8,325.6 M1566.2,260 1601,260.6 M1619.8,303.8 1640.6,304.4 M1581.2,336.2 1611.2,335.6 M1557.2,362.1 1570.6,361.2 M1573.1,357.5 1582.2,357.5" fill="none" stroke="#1b1be2" stroke-width="3.0" stroke-linejoin="round" clip-path="url(#clipb)"/>
<path d="M1271.5,508.1 v-7.4 M1271.5,100.7 v7.4 M1290.1,508.1 v-5 M1290.1,100.7 v5 M1308.6,508.1 v-5 M1308.6,100.7 v5 M1327.2,508.1 v-5 M1327.2,100.7 v5 M1345.7,508.1 v-5 M1345.7,100.7 v5 M1364.3,508.1 v-7.4 M1364.3,100.7 v7.4 M1382.8,508.1 v-5 M1382.8,100.7 v5 M1401.3,508.1 v-5 M1401.3,100.7 v5 M1419.9,508.1 v-5 M1419.9,100.7 v5 M1438.4,508.1 v-5 M1438.4,100.7 v5 M1457,508.1 v-7.4 M1457,100.7 v7.4 M1475.5,508.1 v-5 M1475.5,100.7 v5 M1494.1,508.1 v-5 M1494.1,100.7 v5 M1512.6,508.1 v-5 M1512.6,100.7 v5 M1531.2,508.1 v-5 M1531.2,100.7 v5 M1549.7,508.1 v-7.4 M1549.7,100.7 v7.4 M1568.2,508.1 v-5 M1568.2,100.7 v5 M1586.8,508.1 v-5 M1586.8,100.7 v5 M1605.3,508.1 v-5 M1605.3,100.7 v5 M1623.9,508.1 v-5 M1623.9,100.7 v5 M1642.4,508.1 v-7.4 M1642.4,100.7 v7.4 M1661,508.1 v-5 M1661,100.7 v5 M1679.5,508.1 v-5 M1679.5,100.7 v5 M1698.1,508.1 v-5 M1698.1,100.7 v5 M1716.6,508.1 v-5 M1716.6,100.7 v5 M1735.1,508.1 v-7.4 M1735.1,100.7 v7.4 M1753.7,508.1 v-5 M1753.7,100.7 v5 M1772.2,508.1 v-5 M1772.2,100.7 v5 M1790.8,508.1 v-5 M1790.8,100.7 v5 M1809.3,508.1 v-5 M1809.3,100.7 v5 M1827.9,508.1 v-7.4 M1827.9,100.7 v7.4 M1258.4,508.1 h7.4 M1841,508.1 h-7.4 M1258.4,487.7 h5 M1841,487.7 h-5 M1258.4,467.4 h5 M1841,467.4 h-5 M1258.4,447 h5 M1841,447 h-5 M1258.4,426.6 h5 M1841,426.6 h-5 M1258.4,406.3 h7.4 M1841,406.3 h-7.4 M1258.4,385.9 h5 M1841,385.9 h-5 M1258.4,365.5 h5 M1841,365.5 h-5 M1258.4,345.1 h5 M1841,345.1 h-5 M1258.4,324.8 h5 M1841,324.8 h-5 M1258.4,304.4 h7.4 M1841,304.4 h-7.4 M1258.4,284 h5 M1841,284 h-5 M1258.4,263.7 h5 M1841,263.7 h-5 M1258.4,243.3 h5 M1841,243.3 h-5 M1258.4,222.9 h5 M1841,222.9 h-5 M1258.4,202.6 h7.4 M1841,202.6 h-7.4 M1258.4,182.2 h5 M1841,182.2 h-5 M1258.4,161.8 h5 M1841,161.8 h-5 M1258.4,141.4 h5 M1841,141.4 h-5 M1258.4,121.1 h5 M1841,121.1 h-5 M1258.4,100.7 h7.4 M1841,100.7 h-7.4" fill="none" stroke="#000" stroke-width="2.3"/>
<rect x="1258.4" y="100.7" width="582.6" height="407.4" fill="none" stroke="#000" stroke-width="2.4"/>
<text x="1270.7" y="544" text-anchor="middle" font-size="28.8">–1.5</text>
<text x="1363.5" y="544" text-anchor="middle" font-size="28.8">–1.0</text>
<text x="1456.2" y="544" text-anchor="middle" font-size="28.8">–0.5</text>
<text x="1548.2" y="544" text-anchor="middle" font-size="28.8">0.0</text>
<text x="1640.9" y="544" text-anchor="middle" font-size="28.8">0.5</text>
<text x="1733.6" y="544" text-anchor="middle" font-size="28.8">1.0</text>
<text x="1826.4" y="544" text-anchor="middle" font-size="28.8">1.5</text>
<text x="1243.2" y="517.1" text-anchor="end" font-size="28.8">–1.0</text>
<text x="1243.2" y="415.3" text-anchor="end" font-size="28.8">–0.5</text>
<text x="1243.2" y="313.4" text-anchor="end" font-size="28.8">0.0</text>
<text x="1243.2" y="211.6" text-anchor="end" font-size="28.8">0.5</text>
<text x="1243.2" y="109.7" text-anchor="end" font-size="28.8">1.0</text>
<text x="1448" y="586" font-size="29.4">Wavenumber <tspan font-style="italic" dx="1.6">k</tspan><tspan font-style="italic" font-size="22.2" dy="7.3">y</tspan></text>
<text transform="translate(1157.5,339.3) rotate(-90)" font-size="30.4">Re <tspan font-style="italic">E</tspan></text>
<g clip-path="url(#clipc)"><use href="#bandsc" transform="translate(419.1,1065.3)"/></g>
<path d="M292.5,1234.2 329.2,1198.6 340.9,1186.7 354,1172.8 368.5,1156.8 403.9,1116.5 409,1110.2 413,1104 413.7,1103.6 414.8,1103.4 419.1,1103.2 423.5,1103.4 424.6,1103.6 425.3,1104 429.3,1110.2 434.4,1116.5 469.8,1156.8 484.3,1172.8 497.4,1186.7 509.1,1198.6 545.8,1234.2 M127.9,1227.4 139.9,1227.4 147.6,1227.2 152.3,1226.8 158.5,1226 165.4,1224.8 174.1,1222.6 180,1220.6 186.9,1218 197.8,1213.7 205.4,1210.3 212.4,1207 219.6,1203.3 226.6,1199.5 233.1,1195.5 240.8,1190.6 249.1,1184.8 257.9,1178.5 266.2,1172.1 275.7,1164.4 292.1,1150.6 307,1137.3 323.4,1121.6 331.4,1113.4 339.4,1104.9 350.3,1092.4 355.4,1086 362,1077.3 364.9,1074.1 367.5,1072.3 370.7,1071.2 375.1,1070.4 380.2,1070.2 384.9,1070.4 388.9,1071 391.8,1071.9 394.4,1073.4 396.6,1075.5 399.5,1079.3 408.6,1092.2 413,1099.3 413.7,1099.8 414.8,1100.1 418.1,1100.4 423.2,1100.2 424.6,1099.8 425.3,1099.3 430.1,1091.7 439.9,1077.8 442.8,1074.4 445.4,1072.4 447.5,1071.5 450.1,1070.8 453.4,1070.4 457.4,1070.2 461.4,1070.3 465,1070.7 467.9,1071.2 470.5,1072.2 473,1073.8 475.2,1075.9 483.2,1086.5 488,1092.4 493.8,1099.2 501.8,1108 516,1122.7 530.6,1136.6 545.1,1149.6 561.5,1163.5 569.9,1170.3 584.8,1181.7 593.5,1187.9 601.2,1193 608.1,1197.3 614.7,1201.1 622.7,1205.4 630.3,1209.1 638.3,1212.7 647.8,1216.6 656.5,1220 663.1,1222.2 667.8,1223.6 672.5,1224.7 679.5,1225.9 685.3,1226.7 690.4,1227.1 697.7,1227.4 710.4,1227.4 M127.9,903.3 139.9,903.3 147.6,903.5 152.3,903.9 158.5,904.7 165.4,905.9 174.1,908.1 180,910.1 186.9,912.7 197.8,917 205.4,920.4 212.4,923.7 219.6,927.4 226.6,931.2 233.1,935.2 240.8,940.1 249.1,945.9 257.9,952.2 266.2,958.6 275.7,966.3 292.1,980.1 307,993.4 323.4,1009.1 331.4,1017.3 339.4,1025.8 350.3,1038.3 355.4,1044.7 362,1053.4 364.9,1056.6 367.5,1058.4 370.7,1059.5 375.1,1060.3 380.2,1060.5 384.9,1060.3 388.9,1059.7 391.8,1058.8 394.4,1057.3 396.6,1055.2 399.5,1051.4 408.6,1038.5 413,1031.4 413.7,1030.9 414.8,1030.6 418.1,1030.3 423.2,1030.5 424.6,1030.9 425.3,1031.4 430.1,1039 439.9,1052.9 442.8,1056.3 445.4,1058.3 447.5,1059.2 450.1,1059.9 453.4,1060.3 457.4,1060.5 461.4,1060.4 465,1060 467.9,1059.5 470.5,1058.5 473,1056.9 475.2,1054.8 483.2,1044.2 488,1038.3 493.8,1031.5 501.8,1022.7 516,1008 530.6,994.1 545.1,981.1 561.5,967.2 569.9,960.4 584.8,949 593.5,942.8 601.2,937.7 608.1,933.4 614.7,929.6 622.7,925.3 630.3,921.6 638.3,918 647.8,914.1 656.5,910.7 663.1,908.5 667.8,907.1 672.5,906 679.5,904.8 685.3,904 690.4,903.6 697.7,903.3 710.4,903.3 M292.5,896.5 329.2,932.1 340.9,944 354,957.9 368.5,973.9 403.9,1014.2 409,1020.5 413,1026.7 413.7,1027.1 414.8,1027.3 419.1,1027.5 423.5,1027.3 424.6,1027.1 425.3,1026.7 429.3,1020.5 434.4,1014.2 469.8,973.9 484.3,957.9 497.4,944 509.1,932.1 545.8,896.5 M292.5,1234.3 328.5,1199.4 339.4,1188.3 351.8,1175.2 368.2,1157.2 403.1,1117.4 408.2,1111.3 412.6,1105.1 413.3,1104.5 414.4,1104.1 419.1,1103.8 423.9,1104.1 425,1104.5 425.7,1105.1 430.1,1111.3 435.2,1117.4 470.1,1157.2 486.5,1175.2 498.9,1188.3 509.8,1199.4 545.8,1234.3 M127.9,1227.4 139.9,1227.5 147.6,1227.2 152.3,1226.8 158.5,1226 165.4,1224.8 173.8,1222.7 179.6,1220.8 186.5,1218.2 197.4,1213.8 205.1,1210.5 212,1207.2 219.3,1203.5 226.2,1199.7 232.7,1195.8 240.4,1190.9 248.4,1185.4 257.5,1178.8 265.5,1172.7 275.3,1164.8 291.4,1151.2 305.2,1139 321.6,1123.5 336.9,1107.8 348.2,1095.3 353.6,1088.7 361.6,1078.5 364.9,1075.1 367.5,1073.4 370.7,1072.1 375.1,1071.3 380.2,1071.1 384.9,1071.3 388.9,1071.9 391.8,1072.9 394.4,1074.4 396.9,1076.8 400.2,1080.9 407.9,1091.3 412.6,1098.5 413.3,1099.2 414.4,1099.7 418.1,1100.1 423.2,1099.8 424.2,1099.6 425.3,1098.9 426.1,1098.1 431.2,1090.3 439.9,1078.6 442.8,1075.3 445.7,1073.3 447.9,1072.3 450.8,1071.6 454.1,1071.2 457.7,1071.1 461.7,1071.2 465,1071.6 467.9,1072.2 470.5,1073.2 473,1074.8 475.6,1077.3 490.1,1095.3 497.1,1103.1 505.1,1111.7 518.5,1125.3 532.7,1138.7 546.2,1150.6 561.9,1163.9 571,1171.3 578.6,1177.2 586.3,1182.8 594.6,1188.7 601.9,1193.5 608.8,1197.8 615.4,1201.5 623,1205.6 630.7,1209.3 639,1213.1 648.9,1217.1 656.9,1220.1 663.4,1222.4 668.2,1223.7 672.5,1224.7 679.5,1225.9 685.6,1226.8 690.7,1227.2 698,1227.5 710.4,1227.4 M127.9,903.3 139.9,903.2 147.6,903.5 152.3,903.9 158.5,904.7 165.4,905.9 173.8,908 179.6,909.9 186.5,912.5 197.4,916.9 205.1,920.2 212,923.5 219.3,927.2 226.2,931 232.7,934.9 240.4,939.8 248.4,945.3 257.5,951.9 265.5,958 275.3,965.9 291.4,979.5 305.2,991.7 321.6,1007.2 336.9,1022.9 348.2,1035.4 353.6,1042 361.6,1052.2 364.9,1055.6 367.5,1057.3 370.7,1058.6 375.1,1059.4 380.2,1059.6 384.9,1059.4 388.9,1058.8 391.8,1057.8 394.4,1056.3 396.9,1053.9 400.2,1049.8 407.9,1039.4 412.6,1032.2 413.3,1031.5 414.4,1031 418.1,1030.6 423.2,1030.9 424.2,1031.1 425.3,1031.8 426.1,1032.6 431.2,1040.4 439.9,1052.1 442.8,1055.4 445.7,1057.4 447.9,1058.4 450.8,1059.1 454.1,1059.5 457.7,1059.6 461.7,1059.5 465,1059.1 467.9,1058.5 470.5,1057.5 473,1055.9 475.6,1053.4 490.1,1035.4 497.1,1027.6 505.1,1019 518.5,1005.4 532.7,992 546.2,980.1 561.9,966.8 571,959.4 578.6,953.5 586.3,947.9 594.6,942 601.9,937.2 608.8,932.9 615.4,929.2 623,925.1 630.7,921.4 639,917.6 648.9,913.6 656.9,910.6 663.4,908.3 668.2,907 672.5,906 679.5,904.8 685.6,903.9 690.7,903.5 698,903.2 710.4,903.3 M292.5,896.4 328.5,931.3 339.4,942.4 351.8,955.5 368.2,973.5 403.1,1013.3 408.2,1019.4 412.6,1025.6 413.3,1026.2 414.4,1026.6 419.1,1026.9 423.9,1026.6 425,1026.2 425.7,1025.6 430.1,1019.4 435.2,1013.3 470.1,973.5 486.5,955.5 498.9,942.4 509.8,931.3 545.8,896.4 M292.5,1234.2 319,1208.6 330.3,1197.5 342.7,1184.8 356.9,1169.6 369.6,1155.5 404.6,1115.6 409.7,1109 413,1103.3 414.4,1102.8 417.7,1102.7 423.5,1102.8 424.6,1102.9 425.3,1103.3 428.6,1109 433.7,1115.6 468.7,1155.5 481.4,1169.6 495.6,1184.8 508,1197.5 519.3,1208.6 545.8,1234.2 M127.9,1227.4 139.9,1227.4 147.6,1227.1 152.3,1226.8 158.5,1226 165.4,1224.7 174.1,1222.5 180,1220.6 187.2,1217.9 198.2,1213.5 205.8,1210.1 212.7,1206.8 220,1203.1 226.9,1199.2 233.5,1195.3 241.1,1190.3 249.9,1184.3 258.6,1177.9 267,1171.5 276.4,1163.8 293.2,1149.6 308.8,1135.6 317.6,1127.3 325.6,1119.4 333.6,1111.1 341.6,1102.4 347.1,1096.2 351.8,1090.5 356.5,1084.3 362.7,1075.6 365.3,1072.9 367.8,1071.3 370.7,1070.4 375.1,1069.8 380.2,1069.6 385.3,1069.8 389.3,1070.4 392.2,1071.3 394.4,1072.6 395.8,1074 397.3,1075.8 407.9,1091 410.4,1095 413,1099.9 414.4,1100.5 417.7,1100.7 423.2,1100.5 424.6,1100.3 425.3,1099.9 427.5,1095.6 429.3,1092.6 440.3,1076.8 442.8,1073.6 443.9,1072.6 445.4,1071.7 447.5,1070.7 450.1,1070.2 453.7,1069.7 457.7,1069.6 462.1,1069.7 465.8,1070.1 468.7,1070.7 470.8,1071.5 473,1072.9 474.9,1074.7 482.1,1084.8 486.1,1090 491.6,1096.6 498.5,1104.4 513.4,1120.1 528.4,1134.5 544.4,1149 569.1,1169.7 584.1,1181.1 592.8,1187.3 600.8,1192.7 607.7,1197.1 614.3,1200.9 622.3,1205.2 629.9,1208.9 638,1212.6 647.1,1216.3 656.2,1219.8 663.1,1222.2 667.8,1223.6 672.5,1224.7 679.5,1225.9 685.3,1226.7 690.4,1227.1 697.7,1227.4 710.4,1227.4 M127.9,903.3 140.6,903.3 147.9,903.6 153,904 158.8,904.8 165.8,906 170.5,907.1 175.2,908.5 182.1,910.9 191.2,914.4 200.3,918.1 208.4,921.8 216,925.5 224,929.8 230.6,933.6 237.5,938 245.5,943.4 254.2,949.6 269.2,961 293.9,981.7 309.9,996.2 324.9,1010.6 339.8,1026.3 346.7,1034.1 352.2,1040.7 356.2,1045.9 363.4,1056 365.3,1057.8 367.5,1059.2 369.6,1060 372.5,1060.6 376.2,1061 380.6,1061.1 384.6,1061 388.2,1060.5 390.8,1060 392.9,1059 394.4,1058.1 395.5,1057.1 398,1053.9 409,1038.1 410.8,1035.1 413,1030.8 413.7,1030.4 415.1,1030.2 420.6,1030 423.9,1030.2 425.3,1030.8 427.9,1035.7 430.4,1039.7 441,1054.9 442.5,1056.7 443.9,1058.1 446.1,1059.4 449,1060.3 453,1060.9 458.1,1061.1 463.2,1060.9 467.6,1060.3 470.5,1059.4 473,1057.8 475.6,1055.1 481.8,1046.4 486.5,1040.2 491.2,1034.5 496.7,1028.3 504.7,1019.6 512.7,1011.3 520.7,1003.4 529.5,995.1 545.1,981.1 561.9,966.9 571.3,959.2 579.7,952.8 588.4,946.4 597.2,940.4 604.8,935.4 611.4,931.5 618.3,927.6 625.6,923.9 632.5,920.6 640.1,917.2 651.1,912.8 658.3,910.1 664.2,908.2 672.9,906 679.8,904.7 686,903.9 690.7,903.6 698.4,903.3 710.4,903.3 M292.5,896.5 319,922.1 330.3,933.2 342.7,945.9 356.9,961.1 369.6,975.2 404.6,1015.1 409.7,1021.7 413,1027.4 414.4,1027.9 417.7,1028 423.5,1027.9 424.6,1027.8 425.3,1027.4 428.6,1021.7 433.7,1015.1 468.7,975.2 481.4,961.1 495.6,945.9 508,933.2 519.3,922.1 545.8,896.5" fill="none" stroke="#1b1be2" stroke-width="3.6" stroke-linejoin="round" clip-path="url(#clipc)"/>
<path d="M141,1269.1 v-7.4 M141,861.6 v7.4 M159.6,1269.1 v-5 M159.6,861.6 v5 M178.1,1269.1 v-5 M178.1,861.6 v5 M196.7,1269.1 v-5 M196.7,861.6 v5 M215.2,1269.1 v-5 M215.2,861.6 v5 M233.7,1269.1 v-7.4 M233.7,861.6 v7.4 M252.3,1269.1 v-5 M252.3,861.6 v5 M270.8,1269.1 v-5 M270.8,861.6 v5 M289.4,1269.1 v-5 M289.4,861.6 v5 M307.9,1269.1 v-5 M307.9,861.6 v5 M326.4,1269.1 v-7.4 M326.4,861.6 v7.4 M345,1269.1 v-5 M345,861.6 v5 M363.5,1269.1 v-5 M363.5,861.6 v5 M382.1,1269.1 v-5 M382.1,861.6 v5 M400.6,1269.1 v-5 M400.6,861.6 v5 M419.1,1269.1 v-7.4 M419.1,861.6 v7.4 M437.7,1269.1 v-5 M437.7,861.6 v5 M456.2,1269.1 v-5 M456.2,861.6 v5 M474.8,1269.1 v-5 M474.8,861.6 v5 M493.3,1269.1 v-5 M493.3,861.6 v5 M511.9,1269.1 v-7.4 M511.9,861.6 v7.4 M530.4,1269.1 v-5 M530.4,861.6 v5 M548.9,1269.1 v-5 M548.9,861.6 v5 M567.5,1269.1 v-5 M567.5,861.6 v5 M586,1269.1 v-5 M586,861.6 v5 M604.6,1269.1 v-7.4 M604.6,861.6 v7.4 M623.1,1269.1 v-5 M623.1,861.6 v5 M641.6,1269.1 v-5 M641.6,861.6 v5 M660.2,1269.1 v-5 M660.2,861.6 v5 M678.7,1269.1 v-5 M678.7,861.6 v5 M697.3,1269.1 v-7.4 M697.3,861.6 v7.4 M127.9,1269.1 h7.4 M710.4,1269.1 h-7.4 M127.9,1248.7 h5 M710.4,1248.7 h-5 M127.9,1228.3 h5 M710.4,1228.3 h-5 M127.9,1208 h5 M710.4,1208 h-5 M127.9,1187.6 h5 M710.4,1187.6 h-5 M127.9,1167.2 h7.4 M710.4,1167.2 h-7.4 M127.9,1146.8 h5 M710.4,1146.8 h-5 M127.9,1126.5 h5 M710.4,1126.5 h-5 M127.9,1106.1 h5 M710.4,1106.1 h-5 M127.9,1085.7 h5 M710.4,1085.7 h-5 M127.9,1065.3 h7.4 M710.4,1065.3 h-7.4 M127.9,1045 h5 M710.4,1045 h-5 M127.9,1024.6 h5 M710.4,1024.6 h-5 M127.9,1004.2 h5 M710.4,1004.2 h-5 M127.9,983.8 h5 M710.4,983.8 h-5 M127.9,963.5 h7.4 M710.4,963.5 h-7.4 M127.9,943.1 h5 M710.4,943.1 h-5 M127.9,922.7 h5 M710.4,922.7 h-5 M127.9,902.3 h5 M710.4,902.3 h-5 M127.9,882 h5 M710.4,882 h-5 M127.9,861.6 h7.4 M710.4,861.6 h-7.4" fill="none" stroke="#000" stroke-width="2.3"/>
<rect x="127.9" y="861.6" width="582.5" height="407.5" fill="none" stroke="#000" stroke-width="2.4"/>
<text x="140.2" y="1305" text-anchor="middle" font-size="28.8">–1.5</text>
<text x="232.9" y="1305" text-anchor="middle" font-size="28.8">–1.0</text>
<text x="325.6" y="1305" text-anchor="middle" font-size="28.8">–0.5</text>
<text x="417.6" y="1305" text-anchor="middle" font-size="28.8">0.0</text>
<text x="510.4" y="1305" text-anchor="middle" font-size="28.8">0.5</text>
<text x="603.1" y="1305" text-anchor="middle" font-size="28.8">1.0</text>
<text x="695.8" y="1305" text-anchor="middle" font-size="28.8">1.5</text>
<text x="109.5" y="1277.6" text-anchor="end" font-size="28.8">–1.0</text>
<text x="109.5" y="1175.7" text-anchor="end" font-size="28.8">–0.5</text>
<text x="109.5" y="1073.8" text-anchor="end" font-size="28.8">0.0</text>
<text x="109.5" y="972" text-anchor="end" font-size="28.8">0.5</text>
<text x="109.5" y="870.1" text-anchor="end" font-size="28.8">1.0</text>
<text x="314.5" y="1346.5" font-size="29.4">Wavenumber <tspan font-style="italic" dx="1.6">k</tspan><tspan font-style="italic" font-size="22.2" dy="7.3">y</tspan></text>
<text transform="translate(24.5,1100.3) rotate(-90)" font-size="30.4">Re <tspan font-style="italic">E</tspan></text>
<g clip-path="url(#clipd)"><use href="#bands" transform="translate(1549.5,1066.2)"/></g>
<path d="M1258.4,903.2 1269.3,903.8 1280.1,904.8 1288.3,906.1 1296.4,907.9 1301.9,909.4 1310,912.3 1326.3,918.9 1334.5,922.4 1345.3,927.5 1356.2,933.2 1364.3,937.8 1372.5,942.8 1383.4,949.9 1394.2,957.4 1405.1,965.3 1418.7,975.8 1432.3,987.1 1448.6,1001.5 1462.1,1014.2 1478.4,1030.3 1492,1044.3 1540.9,1095.7 1576.2,1131.8 1606.1,1165.2 1622.4,1182.9 1633.3,1194.4 1649.6,1210.6 1690.3,1249.5 M1258.4,1229.2 1269.3,1228.6 1280.1,1227.6 1288.3,1226.3 1296.4,1224.5 1301.9,1223 1310,1220.1 1331.7,1211.2 1339.9,1207.5 1350.8,1202.1 1358.9,1197.7 1369.8,1191.3 1380.6,1184.3 1391.5,1176.9 1402.4,1169 1413.2,1160.5 1424.1,1151.5 1435,1141.8 1448.6,1129.1 1459.4,1118.5 1478.4,1099 1502.9,1072.1 1511,1063.4 1521.9,1052.3 1573.5,1000.6 1581.7,991.9 1603.4,968.3 1625.1,945.7 1644.2,926.9 1690.3,882.9 M1840.6,903.2 1829.7,903.8 1818.9,904.8 1810.7,906.1 1802.6,907.9 1797.1,909.4 1789,912.3 1772.7,918.9 1764.5,922.4 1753.7,927.5 1742.8,933.2 1734.7,937.8 1726.5,942.8 1712.9,951.6 1702.1,959.2 1691.2,967.2 1680.3,975.7 1666.7,987.1 1653.2,999.2 1639.6,1012 1626,1025.5 1615.1,1036.7 1593.4,1060 1579.8,1074.2 1525.5,1129.5 1517.3,1138.2 1492.9,1165.4 1476.6,1182.9 1465.7,1194.2 1449.4,1210.5 1408.7,1249.5 M1840.6,1229.2 1829.7,1228.6 1818.9,1227.6 1810.7,1226.3 1802.6,1224.5 1797.1,1223 1789,1220.1 1767.3,1211.2 1756.4,1206.2 1745.5,1200.7 1737.4,1196.2 1729.2,1191.3 1718.4,1184.3 1707.5,1176.8 1696.6,1168.9 1685.8,1160.4 1674.9,1151.4 1661.3,1139.4 1647.7,1126.7 1634.1,1113.4 1617.8,1096.8 1593.4,1070.6 1579.8,1056.4 1549.9,1025.8 1525.5,1001.1 1517.3,992.4 1495.6,968.5 1471.1,942.9 1454.8,926.7 1408.7,882.9 M1258.4,903.2 1269.3,903.8 1280.1,904.8 1288.3,906.1 1296.4,907.9 1301.9,909.4 1310,912.3 1331.7,921.2 1339.9,924.9 1350.8,930.3 1358.9,934.7 1369.8,941.1 1380.6,948.1 1391.5,955.5 1402.4,963.4 1413.2,971.9 1424.1,980.9 1435,990.6 1448.6,1003.3 1459.4,1013.9 1478.4,1033.4 1502.9,1060.3 1511,1069 1521.9,1080.1 1573.5,1131.8 1581.7,1140.5 1603.4,1164.1 1625.1,1186.7 1644.2,1205.5 1690.3,1249.5 M1258.4,1229.2 1269.3,1228.6 1280.1,1227.6 1288.3,1226.3 1296.4,1224.5 1301.9,1223 1310,1220.1 1326.3,1213.5 1334.5,1210 1345.3,1204.9 1356.2,1199.2 1364.3,1194.6 1372.5,1189.6 1383.4,1182.5 1394.2,1175 1405.1,1167.1 1418.7,1156.6 1432.3,1145.3 1448.6,1130.9 1462.1,1118.2 1478.4,1102.1 1492,1088.1 1540.9,1036.7 1576.2,1000.6 1606.1,967.2 1622.4,949.5 1633.3,938 1649.6,921.8 1690.3,882.9 M1840.6,903.2 1829.7,903.8 1818.9,904.8 1810.7,906.1 1802.6,907.9 1797.1,909.4 1789,912.3 1767.3,921.2 1756.4,926.2 1745.5,931.7 1737.4,936.2 1729.2,941.1 1718.4,948.1 1707.5,955.6 1696.6,963.5 1685.8,972 1674.9,981 1661.3,993 1647.7,1005.7 1634.1,1019 1617.8,1035.6 1593.4,1061.8 1579.8,1076 1549.9,1106.6 1525.5,1131.3 1517.3,1140 1495.6,1163.9 1471.1,1189.5 1454.8,1205.7 1408.7,1249.5 M1840.6,1229.2 1829.7,1228.6 1818.9,1227.6 1810.7,1226.3 1802.6,1224.5 1797.1,1223 1789,1220.1 1772.7,1213.5 1764.5,1210 1753.7,1204.9 1742.8,1199.2 1734.7,1194.6 1726.5,1189.6 1712.9,1180.8 1702.1,1173.2 1691.2,1165.2 1680.3,1156.7 1666.7,1145.3 1653.2,1133.2 1639.6,1120.4 1626,1106.9 1615.1,1095.7 1593.4,1072.4 1579.8,1058.2 1525.5,1002.9 1517.3,994.2 1492.9,967 1476.6,949.5 1465.7,938.2 1449.4,921.9 1408.7,882.9" fill="none" stroke="#1b1be2" stroke-width="3.15" clip-path="url(#clipd)"/>
<path d="M1271.5,1269.9 v-7.4 M1271.5,862.5 v7.4 M1290.1,1269.9 v-5 M1290.1,862.5 v5 M1308.6,1269.9 v-5 M1308.6,862.5 v5 M1327.1,1269.9 v-5 M1327.1,862.5 v5 M1345.6,1269.9 v-5 M1345.6,862.5 v5 M1364.2,1269.9 v-7.4 M1364.2,862.5 v7.4 M1382.7,1269.9 v-5 M1382.7,862.5 v5 M1401.2,1269.9 v-5 M1401.2,862.5 v5 M1419.8,1269.9 v-5 M1419.8,862.5 v5 M1438.3,1269.9 v-5 M1438.3,862.5 v5 M1456.8,1269.9 v-7.4 M1456.8,862.5 v7.4 M1475.4,1269.9 v-5 M1475.4,862.5 v5 M1493.9,1269.9 v-5 M1493.9,862.5 v5 M1512.4,1269.9 v-5 M1512.4,862.5 v5 M1531,1269.9 v-5 M1531,862.5 v5 M1549.5,1269.9 v-7.4 M1549.5,862.5 v7.4 M1568,1269.9 v-5 M1568,862.5 v5 M1586.6,1269.9 v-5 M1586.6,862.5 v5 M1605.1,1269.9 v-5 M1605.1,862.5 v5 M1623.6,1269.9 v-5 M1623.6,862.5 v5 M1642.2,1269.9 v-7.4 M1642.2,862.5 v7.4 M1660.7,1269.9 v-5 M1660.7,862.5 v5 M1679.2,1269.9 v-5 M1679.2,862.5 v5 M1697.8,1269.9 v-5 M1697.8,862.5 v5 M1716.3,1269.9 v-5 M1716.3,862.5 v5 M1734.8,1269.9 v-7.4 M1734.8,862.5 v7.4 M1753.4,1269.9 v-5 M1753.4,862.5 v5 M1771.9,1269.9 v-5 M1771.9,862.5 v5 M1790.4,1269.9 v-5 M1790.4,862.5 v5 M1808.9,1269.9 v-5 M1808.9,862.5 v5 M1827.5,1269.9 v-7.4 M1827.5,862.5 v7.4 M1258.4,1269.9 h7.4 M1840.6,1269.9 h-7.4 M1258.4,1249.5 h5 M1840.6,1249.5 h-5 M1258.4,1229.2 h5 M1840.6,1229.2 h-5 M1258.4,1208.8 h5 M1840.6,1208.8 h-5 M1258.4,1188.4 h5 M1840.6,1188.4 h-5 M1258.4,1168.1 h7.4 M1840.6,1168.1 h-7.4 M1258.4,1147.7 h5 M1840.6,1147.7 h-5 M1258.4,1127.3 h5 M1840.6,1127.3 h-5 M1258.4,1106.9 h5 M1840.6,1106.9 h-5 M1258.4,1086.6 h5 M1840.6,1086.6 h-5 M1258.4,1066.2 h7.4 M1840.6,1066.2 h-7.4 M1258.4,1045.8 h5 M1840.6,1045.8 h-5 M1258.4,1025.5 h5 M1840.6,1025.5 h-5 M1258.4,1005.1 h5 M1840.6,1005.1 h-5 M1258.4,984.7 h5 M1840.6,984.7 h-5 M1258.4,964.4 h7.4 M1840.6,964.4 h-7.4 M1258.4,944 h5 M1840.6,944 h-5 M1258.4,923.6 h5 M1840.6,923.6 h-5 M1258.4,903.2 h5 M1840.6,903.2 h-5 M1258.4,882.9 h5 M1840.6,882.9 h-5 M1258.4,862.5 h7.4 M1840.6,862.5 h-7.4" fill="none" stroke="#000" stroke-width="2.3"/>
<rect x="1258.4" y="862.5" width="582.2" height="407.4" fill="none" stroke="#000" stroke-width="2.4"/>
<text x="1270.7" y="1305.8" text-anchor="middle" font-size="28.8">–1.5</text>
<text x="1363.4" y="1305.8" text-anchor="middle" font-size="28.8">–1.0</text>
<text x="1456" y="1305.8" text-anchor="middle" font-size="28.8">–0.5</text>
<text x="1548" y="1305.8" text-anchor="middle" font-size="28.8">0.0</text>
<text x="1640.7" y="1305.8" text-anchor="middle" font-size="28.8">0.5</text>
<text x="1733.3" y="1305.8" text-anchor="middle" font-size="28.8">1.0</text>
<text x="1826" y="1305.8" text-anchor="middle" font-size="28.8">1.5</text>
<text x="1241" y="1277.1" text-anchor="end" font-size="28.8">–1.0</text>
<text x="1241" y="1175.3" text-anchor="end" font-size="28.8">–0.5</text>
<text x="1241" y="1073.4" text-anchor="end" font-size="28.8">0.0</text>
<text x="1241" y="971.6" text-anchor="end" font-size="28.8">0.5</text>
<text x="1241" y="869.7" text-anchor="end" font-size="28.8">1.0</text>
<text x="1446" y="1346.5" font-size="29.4">Wavenumber <tspan font-style="italic" dx="1.6">k</tspan><tspan font-style="italic" font-size="22.2" dy="7.3">y</tspan></text>
<text transform="translate(1156,1101.6) rotate(-90)" font-size="30.4">Re <tspan font-style="italic">E</tspan></text>
<rect x="529.6" y="10.4" width="337.6" height="336" fill="#fff" stroke="#7a7a7a" stroke-width="1.5"/>
<path d="M549,188.3 H825.6" stroke="#000" stroke-width="2.5" fill="none"/>
<path d="M687.4,327.6 V50" stroke="#000" stroke-width="2.5" fill="none"/>
<path d="M821.4,193.7 L826.8,188.3 L821.4,182.9" fill="none" stroke="#000" stroke-width="2.5" stroke-linejoin="miter"/>
<path d="M692.8,54.4 L687.4,49 L682,54.4" fill="none" stroke="#000" stroke-width="2.5" stroke-linejoin="miter"/>
<path d="M549,188.3 H608 M766,188.3 H825.8" stroke="#e61919" stroke-width="5.4" fill="none"/>
<path d="M608,189.3 609.2,187.3 610.5,185.4 611.7,184 613,183.3 614.2,183.3 615.5,184.1 616.7,185.6 618,187.5 619.2,189.5 620.4,191.3 621.7,192.7 622.9,193.3 624.2,193.2 625.4,192.4 626.7,190.9 627.9,189 629.1,187 630.4,185.2 631.6,183.9 632.9,183.2 634.1,183.4 635.4,184.3 636.6,185.9 637.9,187.8 639.1,189.8 640.3,191.6 641.6,192.8 642.8,193.4 644.1,193.2 645.3,192.2 646.6,190.6 647.8,188.7 649.1,186.7 650.3,184.9 651.5,183.7 652.8,183.2 654,183.5 655.3,184.5 656.5,186.2 657.8,188.1 659,190.1 660.3,191.8 661.5,193 662.7,193.4 664,193 665.2,191.9 666.5,190.3 667.7,188.3 669,186.3 670.2,184.7 671.4,183.6 672.7,183.2 673.9,183.6 675.2,184.8 676.4,186.5 677.7,188.4 678.9,190.4 680.2,192 681.4,193.1 682.6,193.4 683.9,192.9 685.1,191.7 686.4,190 687.6,188 688.9,186 690.1,184.4 691.4,183.5 692.6,183.2 693.8,183.8 695.1,185 696.3,186.8 697.6,188.8 698.8,190.7 700.1,192.3 701.3,193.2 702.6,193.4 703.8,192.8 705,191.5 706.3,189.7 707.5,187.7 708.8,185.7 710,184.2 711.3,183.4 712.5,183.3 713.7,183.9 715,185.3 716.2,187.1 717.5,189.1 718.7,191 720,192.5 721.2,193.3 722.5,193.3 723.7,192.6 724.9,191.2 726.2,189.3 727.4,187.3 728.7,185.5 729.9,184 731.2,183.3 732.4,183.3 733.7,184.1 734.9,185.6 736.1,187.4 737.4,189.4 738.6,191.3 739.9,192.6 741.1,193.3 742.4,193.3 743.6,192.4 744.9,190.9 746.1,189 747.3,187 748.6,185.2 749.8,183.9 751.1,183.2 752.3,183.4 753.6,184.3 754.8,185.8 756,187.8 757.3,189.8 758.5,191.5 759.8,192.8 761,193.4 762.3,193.2 763.5,192.2 764.8,190.6 766,188.7 M686.9,49.4 688.9,50.6 690.7,51.9 691.9,53.1 692.5,54.4 692.3,55.6 691.3,56.8 689.7,58.1 687.8,59.3 685.8,60.5 684.1,61.8 682.8,63 682.3,64.3 682.6,65.5 683.6,66.7 685.2,68 687.1,69.2 689.1,70.5 690.8,71.7 692,72.9 692.5,74.2 692.2,75.4 691.1,76.7 689.5,77.9 687.6,79.1 685.6,80.4 683.9,81.6 682.7,82.8 682.3,84.1 682.7,85.3 683.7,86.6 685.4,87.8 687.3,89 689.3,90.3 691,91.5 692.1,92.8 692.5,94 692.1,95.2 691,96.5 689.3,97.7 687.3,98.9 685.4,100.2 683.7,101.4 682.7,102.7 682.3,103.9 682.7,105.1 683.9,106.4 685.6,107.6 687.6,108.9 689.5,110.1 691.1,111.3 692.2,112.6 692.5,113.8 692,115 690.8,116.3 689.1,117.5 687.1,118.8 685.2,120 683.6,121.2 682.6,122.5 682.3,123.7 682.8,125 684.1,126.2 685.8,127.4 687.8,128.7 689.7,129.9 691.3,131.2 692.3,132.4 692.5,133.6 691.9,134.9 690.7,136.1 688.9,137.3 686.9,138.6 685,139.8 683.4,141.1 682.5,142.3 682.3,143.5 682.9,144.8 684.2,146 686,147.3 688,148.5 689.9,149.7 691.4,151 692.3,152.2 692.5,153.4 691.8,154.7 690.5,155.9 688.7,157.2 686.7,158.4 684.8,159.6 683.3,160.9 682.4,162.1 682.4,163.4 683.1,164.6 684.4,165.8 686.2,167.1 688.2,168.3 690.1,169.6 691.6,170.8 692.4,172 692.4,173.3 691.7,174.5 690.3,175.7 688.5,177 686.4,178.2 684.6,179.5 683.2,180.7 682.4,181.9 682.4,183.2 683.2,184.4 684.6,185.7 686.5,186.9 688.5,188.1 690.3,189.4 691.7,190.6 692.4,191.8 692.4,193.1 691.6,194.3 690.1,195.6 688.2,196.8 686.2,198 684.4,199.3 683,200.5 682.4,201.8 682.4,203 683.3,204.2 684.8,205.5 686.7,206.7 688.7,207.9 690.5,209.2 691.8,210.4 692.5,211.7 692.3,212.9 691.4,214.1 689.9,215.4 688,216.6 686,217.9 684.2,219.1 682.9,220.3 682.3,221.6 682.5,222.8 683.4,224.1 685,225.3 686.9,226.5 688.9,227.8 690.7,229 691.9,230.2 692.5,231.5 692.3,232.7 691.3,234 689.7,235.2 687.8,236.4 685.8,237.7 684.1,238.9 682.8,240.2 682.3,241.4 682.6,242.6 683.6,243.9 685.2,245.1 687.1,246.3 689.1,247.6 690.8,248.8 692,250.1 692.5,251.3 692.2,252.5 691.1,253.8 689.5,255 687.6,256.3 685.6,257.5 683.9,258.7 682.7,260 682.3,261.2 682.7,262.5 683.7,263.7 685.4,264.9 687.4,266.2 689.3,267.4 691,268.6 692.1,269.9 692.5,271.1 692.1,272.4 691,273.6 689.3,274.8 687.3,276.1 685.4,277.3 683.7,278.6 682.6,279.8 682.3,281 682.7,282.3 683.9,283.5 685.6,284.7 687.6,286 689.5,287.2 691.2,288.5 692.2,289.7 692.5,290.9 692,292.2 690.8,293.4 689.1,294.7 687.1,295.9 685.2,297.1 683.6,298.4 682.6,299.6 682.3,300.8 682.8,302.1 684.1,303.3 685.8,304.6 687.8,305.8 689.7,307 691.3,308.3 692.3,309.5 692.5,310.8 691.9,312 690.6,313.2 688.9,314.5 686.9,315.7 685,317 683.4,318.2 682.5,319.4 682.3,320.7 682.9,321.9 684.2,323.1 686,324.4 688,325.6 689.9,326.9 691.4,328.1" stroke="#1b1be2" stroke-width="5.0" fill="none" stroke-linejoin="round" stroke-linecap="round"/>
<path d="M596.8,176.6 L620.2,200 M596.8,200 L620.2,176.6" stroke="#000" stroke-width="5.4" fill="none"/>
<path d="M754.8,176.6 L778.2,200 M754.8,200 L778.2,176.6" stroke="#000" stroke-width="5.4" fill="none"/>
<text x="652.4" y="45.2" font-size="33.2">Im <tspan font-style="italic" dx="1.6">k</tspan><tspan font-style="italic" font-size="25.1" dy="8.3">y</tspan></text>
<text x="766.1" y="237.4" font-size="33.2">Re <tspan font-style="italic" dx="1.6">k</tspan><tspan font-style="italic" font-size="25.1" dy="8.3">y</tspan></text>
<rect x="1658.8" y="11.6" width="338.8" height="335.4" fill="#fff" stroke="#7a7a7a" stroke-width="1.5"/>
<path d="M1678,188.7 H1955.6" stroke="#000" stroke-width="2.5" fill="none"/>
<path d="M1818.2,327.6 V51" stroke="#000" stroke-width="2.5" fill="none"/>
<path d="M1951.4,194.1 L1956.8,188.7 L1951.4,183.3" fill="none" stroke="#000" stroke-width="2.5" stroke-linejoin="miter"/>
<path d="M1823.6,55.4 L1818.2,50 L1812.8,55.4" fill="none" stroke="#000" stroke-width="2.5" stroke-linejoin="miter"/>
<path d="M1678,188.7 H1765.4 M1924,188.7 H1955.8" stroke="#e61919" stroke-width="5.4" fill="none"/>
<path d="M1765.4,189.7 1766.6,187.7 1767.9,185.8 1769.1,184.4 1770.4,183.7 1771.6,183.7 1772.9,184.5 1774.1,186 1775.4,187.9 1776.6,189.9 1777.9,191.8 1779.1,193.1 1780.4,193.8 1781.6,193.6 1782.9,192.7 1784.1,191.2 1785.4,189.3 1786.6,187.3 1787.9,185.5 1789.1,184.2 1790.4,183.6 1791.6,183.8 1792.9,184.8 1794.1,186.4 1795.4,188.4 1796.6,190.4 1797.9,192.1 1799.1,193.3 1800.4,193.8 1801.6,193.5 1802.9,192.4 1804.1,190.8 1805.4,188.8 1806.6,186.8 1807.9,185.1 1809.1,184 1810.4,183.6 1811.6,184 1812.9,185.1 1814.1,186.8 1815.4,188.8 1816.6,190.8 1817.9,192.4 1819.1,193.5 1820.3,193.8 1821.6,193.3 1822.8,192.1 1824.1,190.3 1825.3,188.3 1826.6,186.4 1827.8,184.8 1829.1,183.8 1830.3,183.6 1831.6,184.2 1832.8,185.5 1834.1,187.3 1835.3,189.3 1836.6,191.2 1837.8,192.7 1839.1,193.6 1840.3,193.8 1841.6,193.1 1842.8,191.7 1844.1,189.9 1845.3,187.9 1846.6,186 1847.8,184.5 1849.1,183.7 1850.3,183.7 1851.6,184.4 1852.8,185.8 1854.1,187.7 1855.3,189.7 1856.6,191.6 1857.8,193 1859.1,193.7 1860.3,193.7 1861.6,192.8 1862.8,191.4 1864.1,189.5 1865.3,187.4 1866.6,185.6 1867.8,184.3 1869.1,183.6 1870.3,183.8 1871.5,184.7 1872.8,186.2 1874,188.2 1875.3,190.2 1876.5,192 1877.8,193.2 1879,193.8 1880.3,193.5 1881.5,192.6 1882.8,191 1884,189 1885.3,187 1886.5,185.3 1887.8,184.1 1889,183.6 1890.3,183.9 1891.5,185 1892.8,186.6 1894,188.6 1895.3,190.6 1896.5,192.3 1897.8,193.4 1899,193.8 1900.3,193.4 1901.5,192.2 1902.8,190.5 1904,188.6 1905.3,186.6 1906.5,185 1907.8,183.9 1909,183.6 1910.3,184.1 1911.5,185.3 1912.8,187.1 1914,189.1 1915.3,191 1916.5,192.6 1917.8,193.6 1919,193.8 1920.3,193.2 1921.5,191.9 1922.8,190.1 1924,188.1 M1844.1,50.4 1846.1,51.6 1847.9,52.9 1849.1,54.1 1849.7,55.4 1849.5,56.6 1848.5,57.8 1846.9,59.1 1845,60.3 1843,61.6 1841.3,62.8 1840,64 1839.5,65.3 1839.8,66.5 1840.8,67.8 1842.4,69 1844.3,70.2 1846.3,71.5 1848,72.7 1849.2,74 1849.7,75.2 1849.4,76.4 1848.3,77.7 1846.7,78.9 1844.7,80.2 1842.8,81.4 1841.1,82.6 1839.9,83.9 1839.5,85.1 1839.9,86.4 1841,87.6 1842.6,88.8 1844.6,90.1 1846.6,91.3 1848.2,92.6 1849.3,93.8 1849.7,95 1849.3,96.3 1848.1,97.5 1846.5,98.7 1844.5,100 1842.5,101.2 1840.9,102.5 1839.8,103.7 1839.5,104.9 1840,106.2 1841.2,107.4 1842.9,108.7 1844.9,109.9 1846.8,111.1 1848.4,112.4 1849.4,113.6 1849.7,114.9 1849.2,116.1 1848,117.3 1846.2,118.6 1844.2,119.8 1842.3,121.1 1840.7,122.3 1839.7,123.5 1839.5,124.8 1840.1,126 1841.3,127.3 1843.1,128.5 1845.1,129.7 1847,131 1848.6,132.2 1849.5,133.5 1849.7,134.7 1849.1,135.9 1847.8,137.2 1846,138.4 1844,139.7 1842.1,140.9 1840.6,142.1 1839.7,143.4 1839.5,144.6 1840.2,145.9 1841.5,147.1 1843.4,148.3 1845.4,149.6 1847.2,150.8 1848.7,152.1 1849.6,153.3 1849.6,154.5 1848.9,155.8 1847.6,157 1845.7,158.3 1843.7,159.5 1841.9,160.7 1840.4,162 1839.6,163.2 1839.6,164.5 1840.3,165.7 1841.7,166.9 1843.6,168.2 1845.6,169.4 1847.5,170.7 1848.9,171.9 1849.6,173.1 1849.6,174.4 1848.8,175.6 1847.3,176.9 1845.5,178.1 1843.5,179.3 1841.6,180.6 1840.3,181.8 1839.6,183.1 1839.6,184.3 1840.5,185.5 1842,186.8 1843.8,188 1845.9,189.2 1847.7,190.5 1849,191.7 1849.7,193 1849.5,194.2 1848.6,195.4 1847.1,196.7 1845.2,197.9 1843.2,199.2 1841.4,200.4 1840.1,201.6 1839.5,202.9 1839.7,204.1 1840.6,205.4 1842.2,206.6 1844.1,207.8 1846.1,209.1 1847.9,210.3 1849.1,211.6 1849.7,212.8 1849.5,214 1848.5,215.3 1846.9,216.5 1845,217.8 1843,219 1841.2,220.2 1840,221.5 1839.5,222.7 1839.8,224 1840.8,225.2 1842.4,226.4 1844.4,227.7 1846.3,228.9 1848.1,230.2 1849.2,231.4 1849.7,232.6 1849.4,233.9 1848.3,235.1 1846.7,236.4 1844.7,237.6 1842.7,238.8 1841.1,240.1 1839.9,241.3 1839.5,242.6 1839.9,243.8 1841,245 1842.6,246.3 1844.6,247.5 1846.6,248.8 1848.2,250 1849.3,251.2 1849.7,252.5 1849.3,253.7 1848.1,255 1846.4,256.2 1844.5,257.4 1842.5,258.7 1840.9,259.9 1839.8,261.2 1839.5,262.4 1840,263.6 1841.2,264.9 1842.9,266.1 1844.9,267.4 1846.8,268.6 1848.4,269.8 1849.4,271.1 1849.7,272.3 1849.2,273.6 1847.9,274.8 1846.2,276 1844.2,277.3 1842.3,278.5 1840.7,279.8 1839.7,281 1839.5,282.2 1840.1,283.5 1841.4,284.7 1843.1,285.9 1845.1,287.2 1847,288.4 1848.6,289.7 1849.5,290.9 1849.7,292.1 1849.1,293.4 1847.8,294.6 1846,295.9 1844,297.1 1842.1,298.3 1840.6,299.6 1839.7,300.8 1839.5,302.1 1840.2,303.3 1841.5,304.5 1843.4,305.8 1845.4,307 1847.2,308.3 1848.7,309.5 1849.6,310.7 1849.6,312 1848.9,313.2 1847.5,314.5 1845.7,315.7 1843.7,316.9 1841.8,318.2 1840.4,319.4 1839.6,320.7 1839.6,321.9 1840.3,323.1 1841.8,324.4 1843.6,325.6 1845.6,326.9 1847.5,328.1" stroke="#1b1be2" stroke-width="5.0" fill="none" stroke-linejoin="round" stroke-linecap="round"/>
<path d="M1754.2,177 L1777.6,200.4 M1754.2,200.4 L1777.6,177" stroke="#000" stroke-width="5.4" fill="none"/>
<path d="M1912.8,177 L1936.2,200.4 M1912.8,200.4 L1936.2,177" stroke="#000" stroke-width="5.4" fill="none"/>
<text x="1787.4" y="45.2" font-size="33.2">Im <tspan font-style="italic" dx="1.6">k</tspan><tspan font-style="italic" font-size="25.1" dy="8.3">y</tspan></text>
<text x="1901.5" y="237.4" font-size="33.2">Re <tspan font-style="italic" dx="1.6">k</tspan><tspan font-style="italic" font-size="25.1" dy="8.3">y</tspan></text>
<rect x="529.6" y="772" width="338" height="336" fill="#fff" stroke="#7a7a7a" stroke-width="1.5"/>
<path d="M549,949.5 H825.5" stroke="#000" stroke-width="2.8" fill="none"/>
<path d="M687.4,1088 V812.5" stroke="#000" stroke-width="2.8" fill="none"/>
<path d="M820.2,954.7 L825.4,949.5 L820.2,944.3" fill="none" stroke="#000" stroke-width="2.8" stroke-linejoin="miter"/>
<path d="M692.6,817.4 L687.4,812.2 L682.2,817.4" fill="none" stroke="#000" stroke-width="2.8" stroke-linejoin="miter"/>
<path d="M766.1,910.4 768.6,911.8 771.1,913.2 773.6,914.6 776.1,916 778.6,917.4 781.1,918.8 783.6,920.2 786.1,921.6 788.7,923 791.2,924.3 793.7,925.7 796.3,927 798.9,928.2 801.5,929.4 804.1,930.6 806.7,931.7 809.4,932.8 812.1,933.9 814.7,934.9 817.4,935.9 820.1,936.9 822.8,937.9 825.5,938.8 826,939" stroke="#e61919" stroke-width="5.6" fill="none"/>
<path d="M766.1,910.4 765.9,908.9 765.7,907.6 765.3,906.6 764.6,906 763.8,905.8 762.7,906.1 761.5,906.7 760.1,907.4 758.8,908.2 757.6,908.7 756.5,908.9 755.7,908.7 755.1,908.1 754.7,907 754.5,905.6 754.4,904.1 754.3,902.6 754.1,901.3 753.7,900.3 753.1,899.8 752.3,899.6 751.2,899.9 749.9,900.4 748.5,901 747.1,901.6 745.8,901.9 744.8,902 743.9,901.6 743.5,900.8 743.3,899.6 743.3,898.2 743.4,896.7 743.6,895.2 743.7,893.9 743.5,892.9 743,892.3 742.1,892 741,892.1 739.6,892.3 738.1,892.7 736.6,893 735.3,893.1 734.3,892.8 733.6,892.3 733.3,891.4 733.4,890.2 733.7,888.8 734.1,887.3 734.5,885.9 734.7,884.6 734.6,883.6 734.2,883 733.3,882.6 732.2,882.5 730.7,882.6 729.2,882.8 727.7,882.8 726.4,882.8 725.5,882.4 724.9,881.8 724.8,880.8 725,879.6 725.5,878.2 726.1,876.8 726.6,875.4 726.9,874.2 726.9,873.3 726.5,872.6 725.6,872.2 724.4,872 723,871.9 721.4,871.9 720,871.8 718.7,871.6 717.9,871.1 717.4,870.4 717.4,869.4 717.8,868.2 718.5,866.9 719.2,865.5 719.8,864.2 720.2,863.1 720.3,862.2 719.8,861.5 719,861 717.8,860.7 716.3,860.5 714.8,860.3 713.4,860.1 712.2,859.7 711.5,859.1 711.2,858.3 711.3,857.3 711.8,856.1 712.6,854.9 713.5,853.6 714.2,852.4 714.7,851.3 714.8,850.4 714.4,849.7 713.6,849.1 712.4,848.7 710.9,848.4 709.4,848.1 708,847.7 707,847.2 706.3,846.5 706.1,845.7 706.4,844.7 707.1,843.6 708,842.4 708.9,841.2 709.8,840.1 710.3,839 710.4,838.1 710,837.4 709.2,836.8 708,836.3 706.5,835.9 705.1,835.5 703.7,835 702.7,834.4 702.2,833.7 702.1,832.8 702.5,831.8 703.3,830.7 704.3,829.6 705.3,828.5 706.2,827.4 706.7,826.4 706.8,825.5 706.4,824.8 705.6,824.2 704.4,823.6 703,823.1 701.5,822.6 700.2,822 699.3,821.4 698.9,820.7 698.9,819.8 699.4,818.8 700.2,817.8 701.3,816.7 702.3,815.6 703.2,814.5 703.7,813.6 703.8,812.7 703.3,811.9 702.5,811.3 701.2,810.7" stroke="#1b1be2" stroke-width="5.6" fill="none" stroke-linejoin="round" stroke-linecap="round"/>
<path d="M549,954.4 552,955.1 555.1,955.9 558.1,956.7 561.2,957.4 564.2,958.3 567.2,959.1 570.2,960.1 573.2,961 576.2,962.1 579.1,963.2 582,964.3 584.9,965.5 587.8,966.8 590.6,968.1 593.5,969.5 596.3,970.9 599,972.3 601.8,973.8 604.6,975.3 607.3,976.8 610,978.4 612.8,979.9 615.5,981.5 618.2,983.1 620.9,984.7 623.6,986.2 626.3,987.8 628.6,989.1" stroke="#e61919" stroke-width="5.6" fill="none"/>
<path d="M628.6,989.1 628.7,990.6 628.9,992 629.2,993 629.8,993.6 630.7,993.8 631.8,993.6 633,993 634.4,992.4 635.8,991.7 637,991.2 638.1,991.1 639,991.4 639.5,992.1 639.8,993.2 639.9,994.6 639.9,996.1 639.8,997.6 639.9,998.9 640.2,999.9 640.7,1000.6 641.5,1000.8 642.6,1000.7 644,1000.3 645.4,999.8 646.9,999.4 648.2,999.1 649.2,999.2 650,999.7 650.4,1000.5 650.5,1001.7 650.3,1003.1 650.1,1004.6 649.8,1006.1 649.7,1007.3 649.9,1008.3 650.4,1009 651.2,1009.3 652.4,1009.3 653.8,1009.1 655.3,1008.8 656.8,1008.5 658.1,1008.5 659.1,1008.7 659.7,1009.3 660,1010.2 659.9,1011.4 659.6,1012.8 659.1,1014.3 658.7,1015.7 658.5,1016.9 658.6,1017.9 659.1,1018.6 659.9,1018.9 661.1,1019 662.6,1018.9 664.1,1018.8 665.6,1018.7 666.8,1018.8 667.8,1019.2 668.3,1019.9 668.4,1020.8 668.2,1022 667.7,1023.4 667.1,1024.8 666.6,1026.2 666.3,1027.4 666.3,1028.4 666.8,1029 667.7,1029.4 668.9,1029.6 670.3,1029.6 671.9,1029.6 673.3,1029.7 674.6,1029.9 675.4,1030.4 675.8,1031.1 675.8,1032.1 675.4,1033.3 674.8,1034.7 674.1,1036 673.5,1037.3 673.1,1038.5 673,1039.4 673.5,1040 674.3,1040.5 675.5,1040.8 677,1041.1 678.5,1041.3 679.9,1041.6 681,1042 681.7,1042.7 682,1043.5 681.8,1044.5 681.1,1045.6 680.3,1046.9 679.4,1048.1 678.7,1049.3 678.2,1050.4 678.2,1051.3 678.6,1052.1 679.5,1052.6 680.7,1053 682.2,1053.3 683.7,1053.5 685.1,1053.8 686.2,1054.2 686.9,1054.7 687.1,1055.6 686.9,1056.6 686.3,1057.8 685.5,1059.1 684.7,1060.3 684,1061.6 683.6,1062.6 683.6,1063.5 684.1,1064.1 685,1064.6 686.3,1065 687.7,1065.3 689.2,1065.7 690.5,1066.2 691.5,1066.7 692.1,1067.5 692.1,1068.3 691.7,1069.4 690.9,1070.5 690,1071.6 688.9,1072.7 688.1,1073.8 687.6,1074.8 687.5,1075.7 687.9,1076.4 688.8,1077 690.1,1077.6 691.5,1078.1 692.9,1078.6 694.2,1079.2 695,1079.8 695.5,1080.6 695.4,1081.5 694.9,1082.4 694,1083.5 692.9,1084.6 691.8,1085.7 691,1086.7 690.5,1087.7" stroke="#1b1be2" stroke-width="5.6" fill="none" stroke-linejoin="round" stroke-linecap="round"/>
<path d="M754.7,899.1 L777.3,921.7 M754.7,921.7 L777.3,899.1" stroke="#000" stroke-width="6.0" fill="none"/>
<path d="M617.1,977.7 L639.7,1000.3 M617.1,1000.3 L639.7,977.7" stroke="#000" stroke-width="6.0" fill="none"/>
<text x="654.4" y="804.8" font-size="33.2">Im <tspan font-style="italic" dx="1.6">k</tspan><tspan font-style="italic" font-size="25.1" dy="8.3">y</tspan></text>
<text x="768.5" y="996.6" font-size="33.2">Re <tspan font-style="italic" dx="1.6">k</tspan><tspan font-style="italic" font-size="25.1" dy="8.3">y</tspan></text>
<rect x="1659.6" y="773" width="338.6" height="335.4" fill="#fff" stroke="#7a7a7a" stroke-width="1.5"/>
<path d="M1679,950.9 H1954.9" stroke="#000" stroke-width="2.8" fill="none"/>
<path d="M1817.4,1088 V813.5" stroke="#000" stroke-width="2.8" fill="none"/>
<path d="M1949.6,956.1 L1954.8,950.9 L1949.6,945.7" fill="none" stroke="#000" stroke-width="2.8" stroke-linejoin="miter"/>
<path d="M1822.6,818.4 L1817.4,813.2 L1812.2,818.4" fill="none" stroke="#000" stroke-width="2.8" stroke-linejoin="miter"/>
<path d="M1896.3,851.6 1897.9,852.5 1899.5,853.5 1901.1,854.5 1902.7,855.4 1904.3,856.4 1905.9,857.4 1907.5,858.3 1909.1,859.1 1910.8,860 1912.4,860.8 1914.1,861.6 1915.8,862.5 1917.5,863.3 1919.1,864.1 1920.8,864.9 1922.5,865.7 1924.1,866.6 1925.8,867.4 1927.5,868.2 1929.1,869.1 1930.8,869.9 1932.4,870.8 1934.1,871.6 1935.8,872.4 1937.4,873.2 1939.1,874 1940.8,874.8 1942.5,875.6 1944.2,876.3 1945.9,877.1 1947.6,877.8 1949.3,878.6 1951,879.3 1952.7,880 1954.4,880.8 1955,881" stroke="#e61919" stroke-width="5.6" fill="none"/>
<path d="M1896.3,851.6 1896.3,850 1896.1,848.7 1895.7,847.6 1895.1,847 1894.2,846.8 1893.1,847.1 1891.8,847.6 1890.4,848.3 1889,849 1887.8,849.4 1886.7,849.5 1885.9,849.2 1885.4,848.4 1885.1,847.2 1885,845.8 1885.1,844.2 1885.1,842.7 1885.1,841.5 1884.8,840.5 1884.2,840 1883.2,839.8 1882.1,840 1880.7,840.4 1879.2,840.9 1877.7,841.3 1876.5,841.5 1875.5,841.3 1874.9,840.7 1874.6,839.8 1874.5,838.5 1874.7,837 1874.9,835.5 1875.1,834 1875,832.8 1874.6,831.9 1873.9,831.5 1872.9,831.4 1871.6,831.6 1870.2,832 1868.7,832.5 1867.3,832.8 1866.1,832.9 1865.2,832.6 1864.7,831.9 1864.4,830.9 1864.5,829.5 1864.8,828 1865.1,826.5 1865.3,825.1 1865.3,824 1865,823.2 1864.3,822.8 1863.2,822.7 1861.9,822.7 1860.4,822.9 1858.8,823 1857.5,822.9 1856.4,822.6 1855.7,822 1855.4,821.1 1855.6,820 1856.1,818.6 1856.8,817.2 1857.4,815.8 1857.9,814.6 1858,813.6 1857.7,812.8 1856.9,812.3 1855.8,812" stroke="#1b1be2" stroke-width="5.6" fill="none" stroke-linejoin="round" stroke-linecap="round"/>
<path d="M1679,896 1682.9,897 1686.8,898 1690.8,899.1 1694.6,900.2 1698.5,901.4 1702.4,902.6 1706.2,904 1710,905.4 1713.8,906.9 1717.5,908.5 1721.2,910.1 1724.9,911.8 1728.5,913.6 1732.1,915.5 1735.7,917.4 1739.2,919.4 1742.7,921.4 1746.2,923.5 1749.6,925.6 1753.1,927.8 1756.5,930 1758.1,931.1" stroke="#e61919" stroke-width="5.6" fill="none"/>
<path d="M1758.1,931.1 1758.1,932.6 1758.2,934 1758.4,935 1759,935.7 1759.8,935.9 1760.9,935.8 1762.2,935.4 1763.6,934.9 1765,934.3 1766.3,933.9 1767.4,933.8 1768.2,934.1 1768.7,934.9 1768.9,935.9 1769,937.3 1768.9,938.8 1768.8,940.3 1768.9,941.7 1769.2,942.7 1769.8,943.4 1770.6,943.6 1771.7,943.5 1773.1,943 1774.5,942.4 1775.9,941.9 1777.1,941.5 1778.2,941.5 1779,941.8 1779.5,942.6 1779.7,943.7 1779.7,945.1 1779.6,946.6 1779.5,948.1 1779.6,949.4 1779.8,950.4 1780.3,951 1781.1,951.3 1782.3,951.2 1783.6,950.9 1785.1,950.4 1786.5,950.1 1787.8,949.9 1788.9,950 1789.6,950.5 1790,951.4 1790,952.6 1789.8,954 1789.4,955.5 1789.1,956.9 1788.8,958.2 1788.9,959.1 1789.3,959.8 1790,960.2 1791.2,960.3 1792.6,960.3 1794.1,960.2 1795.6,960.2 1796.9,960.3 1797.9,960.7 1798.4,961.3 1798.6,962.2 1798.3,963.4 1797.8,964.7 1797.2,966.1 1796.7,967.5 1796.3,968.7 1796.3,969.7 1796.8,970.5 1797.6,971 1798.7,971.1 1800.2,971.1 1801.7,971.1 1803.2,971 1804.5,971.1 1805.4,971.5 1806,972.2 1806.1,973.1 1805.9,974.3 1805.3,975.6 1804.7,977 1804.1,978.4 1803.7,979.5 1803.6,980.5 1803.9,981.2 1804.7,981.6 1805.8,982 1807.2,982.2 1808.7,982.4 1810.2,982.7 1811.4,983.1 1812.2,983.7 1812.6,984.5 1812.4,985.5 1811.9,986.6 1811,987.8 1810.1,989 1809.2,990.1 1808.6,991.2 1808.3,992.2 1808.6,992.9 1809.3,993.6 1810.4,994.1 1811.8,994.5 1813.3,994.9 1814.7,995.3 1815.8,995.8 1816.5,996.5 1816.8,997.3 1816.6,998.2 1815.9,999.3 1815,1000.4 1814.1,1001.6 1813.2,1002.7 1812.5,1003.8 1812.3,1004.7 1812.5,1005.5 1813.2,1006.1 1814.3,1006.7 1815.7,1007.1 1817.2,1007.6 1818.5,1008.2 1819.6,1008.8 1820.2,1009.5 1820.3,1010.4 1820,1011.3 1819.2,1012.3 1818.2,1013.4 1817.1,1014.4 1816.1,1015.5 1815.4,1016.4 1815.1,1017.3 1815.3,1018.1 1816,1018.8 1817,1019.5 1818.4,1020.1 1819.8,1020.7 1821.1,1021.3 1822,1022 1822.6,1022.8 1822.6,1023.6 1822.2,1024.6 1821.3,1025.5 1820.2,1026.5 1819.1,1027.5 1818,1028.5 1817.3,1029.4 1817,1030.3 1817.2,1031.1 1817.9,1031.8 1819,1032.5 1820.3,1033.2 1821.7,1033.9 1822.9,1034.5 1823.8,1035.3 1824.3,1036 1824.3,1036.9 1823.8,1037.8 1822.9,1038.7 1821.8,1039.7 1820.6,1040.7 1819.6,1041.6 1818.9,1042.5 1818.6,1043.4 1818.8,1044.2 1819.5,1045 1820.6,1045.7 1822,1046.3 1823.3,1047 1824.6,1047.7 1825.5,1048.4 1825.9,1049.2 1825.9,1050 1825.3,1050.9 1824.4,1051.9 1823.3,1052.9 1822.1,1053.8 1821.1,1054.8 1820.4,1055.7 1820.2,1056.6 1820.4,1057.4 1821.2,1058.1 1822.3,1058.8 1823.6,1059.5 1825,1060.2 1826.2,1060.9 1827.1,1061.6 1827.5,1062.4 1827.4,1063.3 1826.8,1064.2 1825.8,1065.1 1824.7,1066.1 1823.5,1067 1822.4,1067.9 1821.7,1068.8 1821.5,1069.6 1821.7,1070.4 1822.4,1071.1 1823.5,1071.9 1824.8,1072.7 1826.1,1073.5 1827.2,1074.3 1828,1075.2 1828.3,1076 1828,1076.9 1827.3,1077.7 1826.2,1078.5 1824.9,1079.3 1823.6,1080.1 1822.4,1080.8 1821.6,1081.5 1821.3,1082.3 1821.4,1083.1 1822,1084 1823,1084.9 1824.1,1085.9 1825.3,1086.9 1826.2,1087.9 1826.8,1088.8 1826.9,1089.7 1826.5,1090.5" stroke="#1b1be2" stroke-width="5.6" fill="none" stroke-linejoin="round" stroke-linecap="round"/>
<path d="M1783,932.4 1768,959 1798.6,959Z" fill="#22b024"/>
<path d="M1885.1,840.3 L1907.7,862.9 M1885.1,862.9 L1907.7,840.3" stroke="#000" stroke-width="6.0" fill="none"/>
<path d="M1746.7,919.7 L1769.3,942.3 M1746.7,942.3 L1769.3,919.7" stroke="#000" stroke-width="6.0" fill="none"/>
<text x="1787.4" y="805.2" font-size="33.2">Im <tspan font-style="italic" dx="1.6">k</tspan><tspan font-style="italic" font-size="25.1" dy="8.3">y</tspan></text>
<text x="1901.5" y="997.4" font-size="33.2">Re <tspan font-style="italic" dx="1.6">k</tspan><tspan font-style="italic" font-size="25.1" dy="8.3">y</tspan></text>
<text x="-1.2" y="30.4" font-size="41" font-weight="bold">a</text>
<text x="1130.6" y="30.3" font-size="41" font-weight="bold">b</text>
<text x="-1.5" y="787.2" font-size="41" font-weight="bold">c</text>
<text x="1130.4" y="787.2" font-size="41" font-weight="bold">d</text>
<text x="926.5" y="199.3" font-size="33.2">Random</text>
<text x="926.5" y="239.3" font-size="33.2">real on-site</text>
<text x="926.5" y="279.3" font-size="33.2">potential</text>
<text x="927.5" y="409.4" font-size="33.2">Imaginary</text>
<text x="927.5" y="449.4" font-size="33.2">noise in</text>
<text x="927.5" y="489.4" font-size="33.2">coupling</text>
<text x="451.8" y="674" font-size="33.2">Complex noise</text>
<text x="451.8" y="714" font-size="33.2">in coupling</text>
<text x="1247.5" y="673.6" font-size="33.2">Imaginary</text>
<text x="1247.5" y="713.6" font-size="33.2">on-site potential</text>
<text x="1582" y="672.6" font-size="33.2">Complex noise</text>
<text x="1582" y="712.6" font-size="33.2">in coupling</text>
<text x="927.6" y="910.6" font-size="33.2">Imaginary</text>
<text x="927.6" y="950.6" font-size="33.2">on-site</text>
<text x="927.6" y="990.6" font-size="33.2">potential</text>
<path d="M952,335.4 H1036.2 M1008.4,307.6 L1036.2,335.4 L1008.4,363.2" fill="none" stroke="#000" stroke-width="11.0" stroke-linejoin="miter" stroke-miterlimit="10"/>
<path d="M952,1040 H1036.2 M1008.4,1012.2 L1036.2,1040 L1008.4,1067.8" fill="none" stroke="#000" stroke-width="11.0" stroke-linejoin="miter" stroke-miterlimit="10"/>
<path d="M400.5,645.5 V729.8 M372.7,702 L400.5,729.8 L428.3,702" fill="none" stroke="#000" stroke-width="11.0" stroke-linejoin="miter" stroke-miterlimit="10"/>
<path d="M1531,645.5 V729.8 M1503.2,702 L1531,729.8 L1558.8,702" fill="none" stroke="#000" stroke-width="11.0" stroke-linejoin="miter" stroke-miterlimit="10"/>
</svg>
</body></html>
